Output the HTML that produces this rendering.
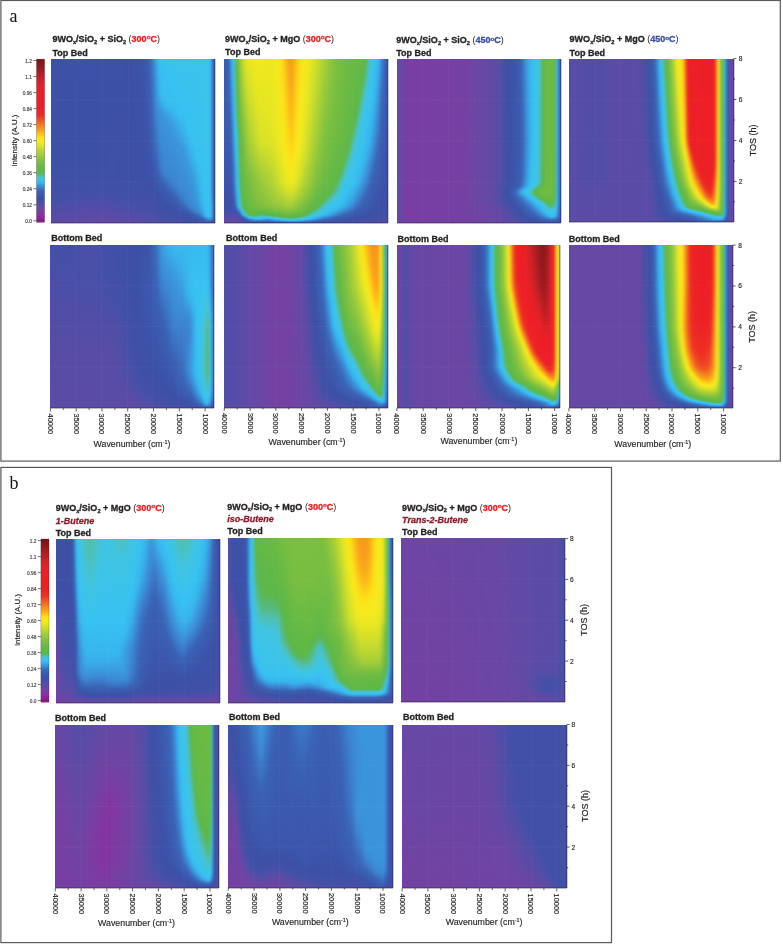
<!DOCTYPE html>
<html><head><meta charset="utf-8"><title>Figure</title>
<style>
html,body{margin:0;padding:0;background:#fff}
#p{position:relative;width:783px;height:945px;overflow:hidden;background:#fff;font-family:"Liberation Sans",sans-serif}
.hm{position:absolute;overflow:hidden}
.hm i{position:absolute;top:0;height:100%;display:block}
.w{position:absolute;left:-6px;top:0;height:100%;filter:url(#hb)}
svg{position:absolute;left:0;top:0}
</style></head><body><div id="p">
<svg width="0" height="0" style="position:absolute"><filter id="hb" x="0" y="0" width="1" height="1" color-interpolation-filters="sRGB"><feGaussianBlur stdDeviation="1.1 0"/></filter></svg>
<div class="hm" style="left:51px;top:59px;width:164px;height:164px"><div class="w" style="width:176px"><i style="left:0px;width:8px;background:linear-gradient(#3c52a7 0.3%,#3f50a7 74.1%,#4550a8 85.7%,#5f4aa5 99.7%)"></i><i style="left:8px;width:2px;background:linear-gradient(#3c52a7 0.3%,#3c50a6 55.8%,#4050a7 74.7%,#4550a8 85.7%,#5f4aa5 99.7%)"></i><i style="left:10px;width:2px;background:linear-gradient(#3c52a7 0.3%,#3c50a6 55.8%,#4050a7 74.7%,#4550a8 85.7%,#5f4aa5 99.7%)"></i><i style="left:12px;width:2px;background:linear-gradient(#3c52a7 0.3%,#3c50a6 55.8%,#4050a7 74.7%,#4550a8 85.7%,#604aa5 99.7%)"></i><i style="left:14px;width:2px;background:linear-gradient(#3c52a7 0.3%,#3c50a6 55.8%,#4050a7 74.7%,#4550a8 85.7%,#604aa5 99.7%)"></i><i style="left:16px;width:2px;background:linear-gradient(#3c52a7 0.3%,#3c50a6 55.8%,#4050a7 74.7%,#4550a8 85.7%,#604aa5 99.7%)"></i><i style="left:18px;width:2px;background:linear-gradient(#3c52a7 0.3%,#3c50a6 55.8%,#4050a7 74.7%,#4550a8 85.1%,#604aa5 99.7%)"></i><i style="left:20px;width:2px;background:linear-gradient(#3c51a7 0.3%,#3c50a6 55.8%,#4050a7 74.7%,#4550a8 85.1%,#604aa5 99.7%)"></i><i style="left:22px;width:2px;background:linear-gradient(#3c51a7 0.3%,#3c50a6 55.8%,#4050a7 74.7%,#4550a8 85.1%,#614aa5 99.7%)"></i><i style="left:24px;width:2px;background:linear-gradient(#3c51a7 0.3%,#3c50a6 55.8%,#4050a7 74.7%,#4550a8 85.1%,#614aa5 99.7%)"></i><i style="left:26px;width:2px;background:linear-gradient(#3c51a7 0.3%,#3c50a6 55.8%,#4050a7 74.7%,#4550a8 85.1%,#614aa5 99.7%)"></i><i style="left:28px;width:2px;background:linear-gradient(#3c51a7 0.3%,#3c50a6 55.8%,#4050a7 74.7%,#4550a8 85.1%,#614aa5 99.7%)"></i><i style="left:30px;width:2px;background:linear-gradient(#3c51a7 0.3%,#3c50a6 55.8%,#4050a7 74.7%,#4650a8 85.1%,#6249a5 99.7%)"></i><i style="left:32px;width:2px;background:linear-gradient(#3c51a7 0.3%,#3c50a6 55.2%,#4050a7 74.7%,#4550a8 84.5%,#6249a5 99.7%)"></i><i style="left:34px;width:2px;background:linear-gradient(#3c51a7 0.3%,#3c50a6 55.2%,#4050a7 74.7%,#4550a8 84.5%,#6249a5 99.7%)"></i><i style="left:36px;width:2px;background:linear-gradient(#3c51a7 0.3%,#3c50a6 55.2%,#4050a7 74.7%,#4550a8 84.5%,#6249a5 99.7%)"></i><i style="left:38px;width:2px;background:linear-gradient(#3c51a7 0.3%,#3c50a6 55.2%,#4050a7 74.7%,#4550a8 84.5%,#6349a5 99.7%)"></i><i style="left:40px;width:2px;background:linear-gradient(#3c51a7 0.3%,#3c50a6 55.2%,#4050a7 74.7%,#4550a8 84.5%,#6349a5 99.7%)"></i><i style="left:42px;width:2px;background:linear-gradient(#3c51a7 0.3%,#3c50a6 55.2%,#4050a7 74.7%,#4650a8 84.5%,#6349a5 99.7%)"></i><i style="left:44px;width:2px;background:linear-gradient(#3c51a7 0.3%,#3c50a6 55.2%,#4050a7 74.7%,#4650a8 84.5%,#6349a5 99.7%)"></i><i style="left:46px;width:2px;background:linear-gradient(#3c51a7 0.3%,#3c50a6 55.2%,#4150a7 74.7%,#4550a8 83.8%,#6449a5 99.7%)"></i><i style="left:48px;width:2px;background:linear-gradient(#3c51a7 0.3%,#3c50a6 55.2%,#4150a7 74.7%,#4550a8 83.8%,#6449a5 99.7%)"></i><i style="left:50px;width:2px;background:linear-gradient(#3c51a7 0.3%,#3c50a6 55.2%,#4150a7 74.7%,#4550a8 83.8%,#6449a5 99.7%)"></i><i style="left:52px;width:2px;background:linear-gradient(#3c51a7 0.3%,#3c50a6 55.2%,#4150a7 74.7%,#4550a8 83.8%,#6449a5 99.7%)"></i><i style="left:54px;width:2px;background:linear-gradient(#3c51a7 0.3%,#3c50a6 55.2%,#4150a7 74.7%,#4550a8 83.8%,#6449a5 99.7%)"></i><i style="left:56px;width:2px;background:linear-gradient(#3c51a7 0.3%,#3c50a6 55.2%,#4150a7 74.7%,#4550a8 83.8%,#6449a5 99.7%)"></i><i style="left:58px;width:2px;background:linear-gradient(#3c51a7 0.3%,#3c50a6 55.2%,#4050a7 74.1%,#4650a8 84.5%,#6449a5 99.7%)"></i><i style="left:60px;width:2px;background:linear-gradient(#3c51a7 0.3%,#3c50a6 55.2%,#4050a7 73.5%,#4550a8 84.5%,#6349a5 99.7%)"></i><i style="left:62px;width:2px;background:linear-gradient(#3c51a7 0.3%,#3c50a6 55.2%,#4050a7 73.5%,#4650a8 85.1%,#6349a5 99.7%)"></i><i style="left:64px;width:2px;background:linear-gradient(#3c51a7 0.3%,#3f50a7 72.9%,#4550a8 85.1%,#6249a5 99.7%)"></i><i style="left:66px;width:2px;background:linear-gradient(#3c51a7 0.3%,#3f50a7 72.9%,#4550a8 85.7%,#6249a5 99.7%)"></i><i style="left:68px;width:2px;background:linear-gradient(#3c51a7 0.3%,#3f50a7 72.9%,#4550a8 85.7%,#614aa5 99.7%)"></i><i style="left:70px;width:2px;background:linear-gradient(#3c51a7 0.3%,#3f50a7 72.9%,#4550a8 86.3%,#614aa5 99.7%)"></i><i style="left:72px;width:2px;background:linear-gradient(#3c51a7 0.3%,#3e50a6 72.3%,#4550a8 86.3%,#604aa5 99.7%)"></i><i style="left:74px;width:2px;background:linear-gradient(#3c51a7 0.3%,#3e50a6 72.3%,#4550a8 86.9%,#604aa5 99.7%)"></i><i style="left:76px;width:2px;background:linear-gradient(#3c51a7 0.3%,#3e50a6 72.3%,#4550a8 86.9%,#5f4aa5 99.7%)"></i><i style="left:78px;width:2px;background:linear-gradient(#3c51a6 0.3%,#3d50a6 71.6%,#4550a8 87.5%,#5f4aa5 99.7%)"></i><i style="left:80px;width:2px;background:linear-gradient(#3c51a6 0.3%,#3d50a6 71.6%,#4650a8 88.1%,#5e4ba6 99.7%)"></i><i style="left:82px;width:2px;background:linear-gradient(#3c51a6 0.3%,#3d50a6 71.6%,#4550a8 88.1%,#5e4ba6 99.7%)"></i><i style="left:84px;width:2px;background:linear-gradient(#3c50a6 0.3%,#3d50a6 71.6%,#4550a8 88.7%,#5d4ba6 99.7%)"></i><i style="left:86px;width:2px;background:linear-gradient(#3c51a6 0.3%,#3d50a6 71.6%,#4550a8 88.7%,#5d4ba6 99.7%)"></i><i style="left:88px;width:2px;background:linear-gradient(#3c51a7 0.3%,#3c50a6 71.6%,#4550a8 89.3%,#5c4ba6 99.7%)"></i><i style="left:90px;width:2px;background:linear-gradient(#3c52a7 0.3%,#3c50a6 71%,#4550a8 89.9%,#5c4ba6 99.7%)"></i><i style="left:92px;width:2px;background:linear-gradient(#3c52a8 0.3%,#3c50a6 71.6%,#4550a8 89.9%,#5b4ca6 99.7%)"></i><i style="left:94px;width:2px;background:linear-gradient(#3c53a9 0.3%,#3c50a6 72.3%,#4550a8 90.5%,#5a4ca6 99.7%)"></i><i style="left:96px;width:2px;background:linear-gradient(#3c54a9 0.3%,#3c50a6 72.9%,#4550a8 90.5%,#5a4ca6 99.7%)"></i><i style="left:98px;width:2px;background:linear-gradient(#3c55aa 0.3%,#3c50a6 72.9%,#4550a8 91.2%,#584ca6 99.7%)"></i><i style="left:100px;width:2px;background:linear-gradient(#3b59ae 0.3%,#3c50a6 73.5%,#4550a8 91.8%,#574ca6 99.7%)"></i><i style="left:102px;width:2px;background:linear-gradient(#3b5eb2 0.3%,#3c50a6 74.1%,#4550a8 91.8%,#564da6 99.7%)"></i><i style="left:104px;width:2px;background:linear-gradient(#3a65b7 0.3%,#3b5db1 38.1%,#3c50a6 74.7%,#4550a8 92.4%,#554da6 99.7%)"></i><i style="left:106px;width:2px;background:linear-gradient(#3b75c5 0.3%,#3c50a6 75.9%,#4550a8 93%,#544da7 99.7%)"></i><i style="left:108px;width:2px;background:linear-gradient(#3c8ad5 0.3%,#3c51a6 77.7%,#4550a8 93.6%,#534da7 99.7%)"></i><i style="left:110px;width:2px;background:linear-gradient(#3aa1e3 0.3%,#3c82cf 36.3%,#3a65b7 58.2%,#3c51a7 80.8%,#4550a8 94.2%,#524da7 99.7%)"></i><i style="left:112px;width:2px;background:linear-gradient(#38b8ee 0.3%,#39a6e5 19.8%,#3b90d9 30.8%,#3c82cf 47.9%,#3b59ad 75.9%,#3c50a6 83.8%,#4450a8 94.8%,#514ea7 99.7%)"></i><i style="left:114px;width:2px;background:linear-gradient(#38c0f1 0.3%,#38b6ed 21.6%,#38afe9 24.7%,#3a9de1 28.4%,#3b95dc 31.4%,#3c81ce 58.2%,#3b71c1 68%,#3a61b3 72.9%,#3c50a6 85.7%,#4550a8 95.4%,#504ea7 99.7%)"></i><i style="left:116px;width:2px;background:linear-gradient(#38c2f1 0.3%,#38bbef 22.9%,#38b5ed 25.9%,#3a9fe1 30.2%,#3b96dc 33.8%,#3c80cd 66.2%,#3b7ac8 69.2%,#3a62b4 74.1%,#3c50a6 86.9%,#4550a8 96%,#4f4ea7 99.7%)"></i><i style="left:118px;width:2px;background:linear-gradient(#39c2f0 0.3%,#38bcf0 24.1%,#38b4ec 27.7%,#3a9fe1 32%,#3a98de 35.1%,#3b8fd8 44.2%,#3c83d0 68%,#3b7dcc 70.4%,#3a64b5 75.3%,#3a60b3 76.5%,#3c50a6 88.7%,#4550a8 96.6%,#4d4ea7 99.7%)"></i><i style="left:120px;width:2px;background:linear-gradient(#3ac2ef 0.3%,#38c2f2 8.2%,#38bdf0 25.3%,#38b5ec 29%,#3aa1e2 33.2%,#3a99de 36.3%,#3b90d9 45.4%,#3c84d1 69.2%,#3b7dcb 72.3%,#3a61b3 77.7%,#3c50a6 89.3%,#4550a8 97.3%,#4c4fa7 99.7%)"></i><i style="left:122px;width:2px;background:linear-gradient(#3ac3ed 0.3%,#38c2f2 10.7%,#38bdf0 26.5%,#38b5ed 30.2%,#39a2e3 34.5%,#3a9adf 38.1%,#3b91d9 46.6%,#3c84d1 70.4%,#3b7dcc 73.5%,#3a62b4 79%,#3c50a6 89.9%,#4450a8 97.3%,#4b4fa7 99.7%)"></i><i style="left:124px;width:2px;background:linear-gradient(#3ac3ed 0.3%,#38c2f2 11.9%,#38bef0 27.1%,#38b6ed 31.4%,#39a4e4 35.7%,#3a9bdf 39.3%,#3b91da 47.9%,#3c84d1 71.6%,#3b7cca 75.3%,#3a61b3 80.8%,#3c50a6 90.5%,#494fa8 99.7%)"></i><i style="left:126px;width:2px;background:linear-gradient(#3bc3ec 0.3%,#38c2f2 14.3%,#38bef0 28.4%,#38b6ed 32.6%,#39a5e5 36.9%,#3a9bdf 41.2%,#3b92da 49.1%,#3c85d1 72.9%,#3b7dcb 76.5%,#3a61b3 82%,#3c50a6 91.8%,#4850a8 99.7%)"></i><i style="left:128px;width:2px;background:linear-gradient(#3bc3ec 0.3%,#38c2f2 16.8%,#38bef0 29.6%,#38b4ec 34.5%,#39a2e3 39.9%,#3b96dd 46.6%,#3c85d2 74.1%,#3b7dcb 77.7%,#3a62b4 83.2%,#3c50a6 92.4%,#4650a8 99.7%)"></i><i style="left:130px;width:2px;background:linear-gradient(#3bc3ec 0.3%,#38c2f2 18.6%,#38bef0 30.8%,#38b5ec 35.7%,#3a9ee1 44.2%,#3b96dc 49.1%,#3c86d2 75.3%,#3c7ecc 79%,#3a61b4 85.1%,#3c51a7 92.4%,#4550a8 99.7%)"></i><i style="left:132px;width:2px;background:linear-gradient(#3bc3ec 0.3%,#38c2f2 21%,#38bef0 32%,#3b96dc 50.9%,#3c86d2 77.1%,#3b7dcb 80.8%,#3a62b4 86.3%,#3c51a7 93%,#4450a8 99.7%)"></i><i style="left:134px;width:2px;background:linear-gradient(#3bc3ec 0.3%,#38c2f2 22.9%,#38bff1 32.6%,#38b3eb 39.9%,#3b96dc 52.7%,#3c86d2 79%,#3b7dcb 82.6%,#3a64b5 87.5%,#3c51a7 93.6%,#4350a8 99.7%)"></i><i style="left:136px;width:2px;background:linear-gradient(#3bc3ec 0.3%,#38c2f2 25.3%,#38bef0 34.5%,#38b2eb 43%,#3a98dd 54%,#3b8ed8 71.6%,#3c85d1 81.4%,#3b7dcb 84.5%,#3a62b4 89.3%,#3c51a7 94.2%,#4250a7 99.7%)"></i><i style="left:138px;width:2px;background:linear-gradient(#3bc3ec 0.3%,#38c2f2 30.8%,#38bef0 36.9%,#38b2eb 46%,#3a99de 55.8%,#3c85d1 83.2%,#3b7ccb 86.3%,#3a62b4 90.5%,#3c51a7 94.8%,#4150a7 99.7%)"></i><i style="left:140px;width:2px;background:linear-gradient(#3bc3eb 0.3%,#38c2f2 33.8%,#38bdf0 41.2%,#38b4ec 47.9%,#3a9bdf 58.8%,#3c85d1 85.1%,#3b7cca 88.1%,#3a61b3 91.8%,#3c53a8 94.8%,#3f50a7 99.7%)"></i><i style="left:142px;width:2px;background:linear-gradient(#3bc3eb 0.3%,#38c2f2 38.1%,#38bef0 44.2%,#38b4ec 50.9%,#3a9adf 63.1%,#3c8cd7 81.4%,#3c84d1 87.5%,#3b7bc9 89.9%,#3a62b4 92.4%,#3c52a8 95.4%,#4050a7 98.5%,#3e50a6 99.7%)"></i><i style="left:144px;width:2px;background:linear-gradient(#3bc3eb 0.3%,#38c2f2 41.8%,#38bff1 47.3%,#38b5ec 54%,#3a9adf 67.4%,#3c86d3 88.7%,#3c7fcd 90.5%,#3a63b5 93%,#3c55aa 95.4%,#3c51a7 96.6%,#3f50a7 98.5%,#3d50a6 99.7%)"></i><i style="left:146px;width:2px;background:linear-gradient(#3bc3eb 0.3%,#38c2f1 45.4%,#38bff1 50.3%,#38b2eb 60.1%,#3a9bdf 70.4%,#3c88d4 89.9%,#3b7dcb 91.8%,#3a60b3 94.2%,#3c51a7 97.3%,#3e50a7 98.5%,#3c51a7 99.7%)"></i><i style="left:148px;width:2px;background:linear-gradient(#3bc3eb 0.3%,#38c2f1 49.1%,#38bdf0 55.8%,#38b5ec 62.5%,#3a9ee1 73.5%,#3c8cd6 89.9%,#3c7fcd 92.4%,#3a60b3 94.8%,#3c50a6 97.9%,#3c53a8 99.7%)"></i><i style="left:150px;width:2px;background:linear-gradient(#3bc3eb 0.3%,#38c2f1 53.4%,#38bef0 59.5%,#3a9bdf 80.8%,#3b8fd8 90.5%,#3c82cf 93%,#3a61b3 95.4%,#3c52a7 97.9%,#3c50a6 98.5%,#3c55aa 99.7%)"></i><i style="left:152px;width:2px;background:linear-gradient(#3bc3eb 0.3%,#38c2f1 57.6%,#38bff1 63.1%,#39aee9 75.9%,#3b94db 90.5%,#3c84d1 93.6%,#3a61b3 96%,#3c54aa 97.9%,#3c52a8 98.5%,#3b56ab 99.7%)"></i><i style="left:154px;width:2px;background:linear-gradient(#3bc3eb 0.3%,#38c2f1 62.5%,#38b6ed 77.7%,#39aae7 85.7%,#3a9ee1 90.5%,#3c88d4 94.2%,#3a62b4 96.6%,#3b56ab 98.5%,#3b58ad 99.7%)"></i><i style="left:156px;width:2px;background:linear-gradient(#3bc3eb 0.3%,#38c2f1 67.4%,#38b6ed 86.9%,#38b1eb 89.9%,#39a9e6 91.8%,#3b95dc 94.2%,#3c87d3 95.4%,#3a63b5 97.3%,#3b5baf 98.5%,#3b5aae 99.7%)"></i><i style="left:158px;width:2px;background:linear-gradient(#3bc3eb 0.3%,#3bc3ec 47.3%,#38c2f1 74.1%,#38bbef 89.9%,#38b6ed 92.4%,#39abe8 94.2%,#3a9de0 95.4%,#3b91da 96%,#3a63b5 97.9%,#3b5baf 99.7%)"></i><i style="left:160px;width:2px;background:linear-gradient(#3bc3ea 0.3%,#3bc3eb 50.3%,#38c0f1 91.2%,#38b6ed 95.4%,#39ade9 96%,#3c86d2 97.3%,#3b71c1 97.9%,#3a65b7 98.5%,#3a62b4 99.1%,#3b59ae 99.7%)"></i><i style="left:162px;width:2px;background:linear-gradient(#3bc3ea 0.3%,#3bc3eb 62.5%,#38c1f1 94.2%,#38bbef 96%,#38b2eb 96.6%,#3b73c3 98.5%,#3b56ab 99.7%)"></i><i style="left:164px;width:2px;background:linear-gradient(#39c1ef 0.3%,#38c1f1 94.8%,#38bdf0 96%,#38b7ed 96.6%,#3b90d9 97.9%,#3a60b3 99.1%,#3c53a8 99.7%)"></i><i style="left:166px;width:2px;background:linear-gradient(#3a8ad3 0.3%,#3a8ad3 80.2%,#3a8fd6 83.8%,#3aa0e1 89.9%,#3aa1e2 93%,#3a9ee0 95.4%,#3a99dd 96%,#3b81ce 97.3%,#3a66b8 98.5%,#3d50a6 99.7%)"></i><i style="left:168px;width:8px;background:linear-gradient(#3b59ae 0.3%,#3b59ae 79.6%,#3b5db0 94.8%,#3b59ad 97.9%,#3f50a7 99.7%)"></i></div></div>
<div class="hm" style="left:224px;top:59px;width:164px;height:164px"><div class="w" style="width:176px"><i style="left:0px;width:8px;background:linear-gradient(#3b5baf 0.3%,#3b5baf 49.7%,#3d50a6 88.7%,#4450a8 93%,#5f4aa5 98.5%,#6947a4 99.7%)"></i><i style="left:8px;width:2px;background:linear-gradient(#3b5cb0 0.3%,#3b5baf 49.7%,#3d50a6 88.7%,#4450a8 93%,#5f4aa5 98.5%,#6947a4 99.7%)"></i><i style="left:10px;width:2px;background:linear-gradient(#3b68ba 0.3%,#3d50a6 88.7%,#4450a8 93%,#5f4aa5 98.5%,#6847a4 99.7%)"></i><i style="left:12px;width:2px;background:linear-gradient(#3a9fe1 0.3%,#3a69ba 38.7%,#3a60b3 48.5%,#3d50a6 88.7%,#4450a8 93%,#534da7 95.4%,#5f4aa5 98.5%,#6748a5 99.7%)"></i><i style="left:14px;width:2px;background:linear-gradient(#3ac1ec 0.3%,#38bbef 13.7%,#39a4e4 30.8%,#3b6cbd 63.1%,#3c52a8 89.3%,#4550a8 93.6%,#524da7 95.4%,#5e4ba6 98.5%,#6748a5 99.7%)"></i><i style="left:16px;width:2px;background:linear-gradient(#54bc85 0.3%,#52bd91 5.2%,#46c1cb 22.9%,#3cc3e9 33.2%,#38bcef 46.6%,#3b8dd6 74.7%,#3b64b6 88.7%,#3b56ab 91.8%,#4150a7 93.6%,#514ea7 95.4%,#6648a5 99.7%)"></i><i style="left:18px;width:2px;background:linear-gradient(#67ba44 0.3%,#5eb848 21%,#5ab85f 30.2%,#58ba6e 33.8%,#50bda2 41.2%,#4ac0bc 44.2%,#47c2cb 46.6%,#41c3dd 50.9%,#3dc3e8 57.6%,#38bbef 78.4%,#39a3e3 86.9%,#3b95db 89.3%,#3b82ce 90.5%,#3b69ba 91.8%,#3c54aa 93.6%,#4250a7 94.8%,#584ca6 97.3%,#6648a5 99.7%)"></i><i style="left:20px;width:2px;background:linear-gradient(#86c23f 0.3%,#66b945 30.2%,#5eb848 43.6%,#5bb85c 49.7%,#58ba70 60.1%,#57bb79 62.5%,#50bd9f 71.6%,#4ac0bc 76.5%,#3dc3e5 85.1%,#3bc2ec 88.1%,#39bdee 89.9%,#38b6ed 90.5%,#3b97dc 91.8%,#3b74c3 93%,#3b5eb1 94.2%,#4150a7 96%,#594ca6 97.9%,#6449a5 99.7%)"></i><i style="left:22px;width:2px;background:linear-gradient(#a6ce38 0.3%,#67ba44 48.5%,#5db848 75.3%,#5ab860 82%,#59b968 83.2%,#51bd9c 88.1%,#4cbfb3 89.3%,#3dc3e6 91.2%,#39bbee 92.4%,#3aa0e1 93.6%,#3b68b9 95.4%,#3b5baf 96%,#3d52a8 96.6%,#604aa5 99.7%)"></i><i style="left:24px;width:2px;background:linear-gradient(#c2d930 0.3%,#76bd42 49.7%,#5db848 88.1%,#5cb850 89.3%,#5ab860 90.5%,#52bc98 91.8%,#4ac0bb 92.4%,#3cc3e8 93.6%,#3abfed 94.2%,#38b4eb 94.8%,#3a98dd 95.4%,#3b77c6 96%,#3b5fb2 96.6%,#3c54a9 97.3%,#4350a8 98.5%,#494fa8 99.1%,#584ca6 99.7%)"></i><i style="left:26px;width:2px;background:linear-gradient(#d7e128 0.3%,#86c23f 49.7%,#5db847 91.2%,#5db849 91.8%,#5bb856 92.4%,#58b970 93%,#54bc95 93.6%,#4ac1c1 94.2%,#3fc3e3 94.8%,#39beef 95.4%,#3aa2e3 96%,#3b7bc9 96.6%,#3a61b4 97.3%,#3c52a8 98.5%,#4050a7 99.1%,#4d4ea7 99.7%)"></i><i style="left:28px;width:2px;background:linear-gradient(#e4e523 0.3%,#d1df2b 14.3%,#b0d335 33.2%,#72bc43 74.1%,#67ba44 88.7%,#5eb847 92.4%,#5db848 93%,#5cb851 93.6%,#5ab866 94.2%,#54bc94 94.8%,#44c3d3 95.4%,#39c0ee 96%,#39a4e4 96.6%,#3b7ecc 97.3%,#3a66b8 97.9%,#3c54a9 99.1%,#4450a8 99.7%)"></i><i style="left:30px;width:2px;background:linear-gradient(#eae721 0.3%,#ccdd2c 24.1%,#9dcb3a 54.6%,#78be41 74.1%,#6bba44 88.7%,#5eb847 93.6%,#5db848 94.2%,#5cb851 94.8%,#57ba80 95.4%,#44c3d5 96%,#38bff0 96.6%,#3a9fe1 97.3%,#3b7dcb 97.9%,#3a65b6 98.5%,#3b5aae 99.1%,#4150a7 99.7%)"></i><i style="left:32px;width:2px;background:linear-gradient(#ece721 0.3%,#d3e02a 24.7%,#aed236 49.7%,#7ebf40 74.1%,#6ebb43 89.3%,#5fb846 94.2%,#5db848 94.8%,#5bb855 95.4%,#52bea3 96%,#3dc3e8 96.6%,#38b5ed 97.3%,#3b8fd8 97.9%,#3b6fc0 98.5%,#3f50a7 99.7%)"></i><i style="left:34px;width:2px;background:linear-gradient(#eee820 0.3%,#dee325 19.2%,#bbd732 47.3%,#82c140 75.3%,#72bc43 89.3%,#5fb846 94.2%,#5db848 94.8%,#5bb851 95.4%,#55bb8f 96%,#3fc4e1 96.6%,#38bdf0 97.3%,#3a9be0 97.9%,#3b79c8 98.5%,#3a5fb2 99.1%,#3e50a6 99.7%)"></i><i style="left:36px;width:2px;background:linear-gradient(#f0e820 0.3%,#e5e623 17.4%,#c3da30 48.5%,#89c33e 75.3%,#78be42 88.7%,#5eb846 94.2%,#5db848 94.8%,#5bb85a 95.4%,#54bc91 96%,#42c3da 96.6%,#38c2f1 97.3%,#39aae7 97.9%,#3c84d0 98.5%,#3a61b4 99.1%,#3c50a6 99.7%)"></i><i style="left:38px;width:2px;background:linear-gradient(#f1e91f 0.3%,#e5e622 21%,#cbdd2d 49.1%,#90c63d 74.7%,#7bbf41 88.7%,#74bd42 90.5%,#60b846 93.6%,#5cb849 94.8%,#59b868 95.4%,#52be9f 96%,#41c4dc 96.6%,#39c2ef 97.3%,#38b1eb 97.9%,#3c89d4 98.5%,#3a63b5 99.1%,#3c51a7 99.7%)"></i><i style="left:40px;width:2px;background:linear-gradient(#f1e91f 0.3%,#e5e622 24.7%,#d2df2a 50.3%,#95c83c 74.7%,#7ebf40 88.7%,#76bd42 90.5%,#5fb846 93.6%,#5db848 94.2%,#5bb850 94.8%,#58b879 95.4%,#4ec0b6 96%,#3fc4e3 96.6%,#38c2f1 97.3%,#39aee9 97.9%,#3c87d3 98.5%,#3a63b5 99.1%,#3c51a7 99.7%)"></i><i style="left:42px;width:2px;background:linear-gradient(#f0e91f 0.3%,#e6e622 27.7%,#d7e128 50.3%,#9bca3b 74.1%,#81c040 88.7%,#78be42 90.5%,#5eb846 93.6%,#5db848 94.2%,#5ab85d 94.8%,#55bb8f 95.4%,#48c2c9 96%,#3dc3e8 96.6%,#38bef0 97.3%,#39a6e5 97.9%,#3c83d0 98.5%,#3a62b4 99.1%,#3c52a7 99.7%)"></i><i style="left:44px;width:2px;background:linear-gradient(#efe820 0.3%,#e6e622 29%,#d9e227 50.3%,#a0cc39 73.5%,#83c13f 88.7%,#79be41 90.5%,#5fb846 93.6%,#5db848 94.2%,#5ab85c 94.8%,#54bc94 95.4%,#44c3d4 96%,#3bc3eb 96.6%,#38baef 97.3%,#3a9ee1 97.9%,#3a61b3 99.1%,#3c52a7 99.7%)"></i><i style="left:46px;width:2px;background:linear-gradient(#eee820 0.3%,#e6e622 29%,#dae227 50.3%,#b3d434 66.8%,#88c33f 88.1%,#80c040 89.9%,#60b846 93.6%,#5db847 94.2%,#5cb84f 94.8%,#56ba87 95.4%,#45c3d2 96%,#3ac3ed 96.6%,#38b7ed 97.3%,#3b79c8 98.5%,#3a60b3 99.1%,#3c52a7 99.7%)"></i><i style="left:48px;width:2px;background:linear-gradient(#ede820 0.3%,#e6e622 29.6%,#dbe227 50.9%,#b4d434 68%,#8bc43e 88.1%,#83c13f 89.9%,#6bba44 92.4%,#5eb846 94.2%,#5cb849 94.8%,#58b874 95.4%,#48c2c8 96%,#3ac3ed 96.6%,#38b5ec 97.3%,#3b93db 97.9%,#3b76c6 98.5%,#3a60b3 99.1%,#3c52a8 99.7%)"></i><i style="left:50px;width:2px;background:linear-gradient(#ede820 0.3%,#e6e622 31.4%,#dce326 50.9%,#8ec53d 88.1%,#86c23f 89.9%,#5fb846 94.2%,#5db848 94.8%,#5ab863 95.4%,#4ec0b5 96%,#3cc3ea 96.6%,#38b6ed 97.3%,#3b94db 97.9%,#3b78c7 98.5%,#3a61b3 99.1%,#3c54a9 99.7%)"></i><i style="left:52px;width:2px;background:linear-gradient(#eee820 0.3%,#e5e622 36.3%,#dde326 51.5%,#a8cf37 78.4%,#91c63d 88.1%,#89c33e 89.9%,#61b945 94.2%,#5eb847 94.8%,#5bb850 95.4%,#53bd9b 96%,#3ec3e5 96.6%,#38bbef 97.3%,#3c7fcc 98.5%,#3a63b5 99.1%,#3c56ab 99.7%)"></i><i style="left:54px;width:2px;background:linear-gradient(#f0e820 0.3%,#e5e622 42.4%,#dee325 52.7%,#bfd831 69.8%,#96c83c 87.5%,#8cc43e 89.9%,#5eb846 94.8%,#5cb849 95.4%,#57b97f 96%,#41c4dc 96.6%,#38c0f1 97.3%,#39a5e4 97.9%,#3c86d2 98.5%,#3a69ba 99.1%,#3b58ac 99.7%)"></i><i style="left:56px;width:2px;background:linear-gradient(#f2e91f 0.3%,#e7e622 47.3%,#dfe425 55.2%,#bdd831 74.1%,#9bca3b 86.9%,#8fc53d 89.9%,#60b846 94.8%,#5db848 95.4%,#59b86b 96%,#48c2c7 96.6%,#39c2ef 97.3%,#38b0ea 97.9%,#3b8ed7 98.5%,#3b6ebe 99.1%,#3b59ae 99.7%)"></i><i style="left:58px;width:2px;background:linear-gradient(#f5ea1e 0.3%,#eae721 49.1%,#cfde2b 68.6%,#c1d930 75.9%,#98c93b 88.7%,#8cc43e 90.5%,#62b945 94.8%,#5db847 95.4%,#5bb85a 96%,#4fc0b2 96.6%,#3cc3ea 97.3%,#38b7ed 97.9%,#3b95dc 98.5%,#3b72c2 99.1%,#3b5aaf 99.7%)"></i><i style="left:60px;width:2px;background:linear-gradient(#f8e71d 0.3%,#eee820 48.5%,#e7e622 57%,#d1df2b 72.9%,#c8dc2e 76.5%,#9bca3b 88.7%,#8fc63d 90.5%,#5eb846 95.4%,#5cb84c 96%,#53bd99 96.6%,#3ec3e5 97.3%,#38bcef 97.9%,#3a9be0 98.5%,#3b76c6 99.1%,#3b5baf 99.7%)"></i><i style="left:62px;width:2px;background:linear-gradient(#fce11b 0.3%,#f3e91f 47.9%,#e4e523 64.3%,#d6e129 74.1%,#ccdd2d 77.7%,#9bca3b 89.3%,#8cc43e 91.2%,#6aba44 94.2%,#5cb849 96%,#57b980 96.6%,#41c4de 97.3%,#38c0f1 97.9%,#39a2e3 98.5%,#3b7ac9 99.1%,#3b5cb0 99.7%)"></i><i style="left:64px;width:2px;background:linear-gradient(#fdd318 0.3%,#fce11a 22.9%,#f7e91e 48.5%,#eae721 64.9%,#dfe425 73.5%,#cede2c 79%,#9ecb3a 89.3%,#5db848 96%,#59b86f 96.6%,#46c3ce 97.3%,#39c2f1 97.9%,#39a8e6 98.5%,#3b7dcb 99.1%,#3b5cb0 99.7%)"></i><i style="left:66px;width:2px;background:linear-gradient(#fdc217 0.3%,#fce11b 38.7%,#f5e91e 60.1%,#e6e622 74.1%,#d0df2b 80.2%,#a1cd39 89.3%,#92c63d 91.2%,#5db847 96%,#5ab861 96.6%,#4bc1be 97.3%,#3ac3ed 97.9%,#38aee9 98.5%,#3c81ce 99.1%,#3b5db1 99.7%)"></i><i style="left:68px;width:2px;background:linear-gradient(#fbb11a 0.3%,#fdc717 24.1%,#fce11a 50.3%,#f6e91e 64.3%,#eae721 74.1%,#e4e523 76.5%,#cfde2c 81.4%,#a4ce38 89.3%,#95c83c 91.2%,#5eb846 96%,#5bb853 96.6%,#50c0ad 97.3%,#3cc3ea 97.9%,#38b4ec 98.5%,#3c84d1 99.1%,#3b5db1 99.7%)"></i><i style="left:70px;width:2px;background:linear-gradient(#f9a31c 0.3%,#fdc117 31.4%,#fdde1a 54.6%,#f6ea1e 68%,#ede820 74.1%,#e5e622 77.1%,#d2df2a 81.4%,#a6ce38 89.3%,#97c83c 91.2%,#5fb846 96%,#5cb84a 96.6%,#53bd9a 97.3%,#3dc3e6 97.9%,#38b7ed 98.5%,#3c87d4 99.1%,#3b5eb1 99.7%)"></i><i style="left:72px;width:2px;background:linear-gradient(#f89e1d 0.3%,#f9a61c 14.3%,#fcbb18 33.2%,#fdce17 49.1%,#fde01a 58.2%,#f6ea1e 69.2%,#f0e820 73.5%,#e7e622 77.1%,#d9e227 80.2%,#a8cf37 88.7%,#9aca3b 90.5%,#6cbb44 94.8%,#5cb849 96.6%,#56ba89 97.3%,#3fc4e3 97.9%,#38b9ee 98.5%,#3c8bd6 99.1%,#3b5eb2 99.7%)"></i><i style="left:74px;width:2px;background:linear-gradient(#f9a41c 0.3%,#fcbe17 30.8%,#fdd118 47.9%,#fdde1a 55.2%,#f6e91e 68%,#eee820 74.1%,#e7e622 76.5%,#d9e227 79.6%,#a3cd38 88.7%,#90c63d 91.2%,#69ba44 94.8%,#5cb849 96.6%,#56ba87 97.3%,#3fc4e1 97.9%,#38bbef 98.5%,#3b8ed7 99.1%,#3b5fb2 99.7%)"></i><i style="left:76px;width:2px;background:linear-gradient(#fbb419 0.3%,#fdc817 25.3%,#fce11a 51.5%,#f7e91e 62.5%,#e8e622 74.1%,#d1df2b 79.6%,#9dcb3a 88.7%,#90c63d 90.5%,#5eb847 96%,#5bb851 96.6%,#53bd99 97.3%,#3ec4e4 97.9%,#38bbef 98.5%,#3b8ed8 99.1%,#3a5fb2 99.7%)"></i><i style="left:78px;width:2px;background:linear-gradient(#fdc617 0.3%,#fddd1a 32.6%,#fae51c 49.7%,#f4e91f 59.5%,#e3e523 72.3%,#d1df2b 77.7%,#97c93c 88.7%,#8bc43e 90.5%,#69ba44 94.2%,#5db848 96%,#5ab862 96.6%,#4fc0b0 97.3%,#3dc3e8 97.9%,#38b7ed 98.5%,#3c8bd6 99.1%,#3a5fb2 99.7%)"></i><i style="left:80px;width:2px;background:linear-gradient(#fdd518 0.3%,#fce11a 22.9%,#f7e91e 49.1%,#e8e721 63.1%,#d9e227 71.6%,#ccdd2d 76.5%,#94c73c 88.1%,#89c33e 89.9%,#6aba44 93.6%,#5cb849 96%,#58b873 96.6%,#49c2c5 97.3%,#3bc3ec 97.9%,#38b3eb 98.5%,#3c85d2 99.1%,#3b5eb2 99.7%)"></i><i style="left:82px;width:2px;background:linear-gradient(#fddf1a 0.3%,#f4ea1e 41.2%,#efe820 50.9%,#e3e523 60.7%,#c5db2f 75.3%,#8ac43e 88.7%,#60b846 94.8%,#5db847 95.4%,#5cb84f 96%,#55bb8b 96.6%,#42c3d9 97.3%,#38c2f1 97.9%,#39aae7 98.5%,#3c80cd 99.1%,#3b5db1 99.7%)"></i><i style="left:84px;width:2px;background:linear-gradient(#fae41c 0.3%,#f4ea1e 25.3%,#eae721 46.6%,#d8e128 60.7%,#bad632 75.3%,#89c33e 87.5%,#5eb846 94.8%,#5db849 95.4%,#5ab864 96%,#51bfa7 96.6%,#3fc4e3 97.3%,#38bff1 97.9%,#3aa1e3 98.5%,#3b7ac9 99.1%,#3b5cb0 99.7%)"></i><i style="left:86px;width:2px;background:linear-gradient(#f7e81d 0.3%,#e4e523 42.4%,#dde326 50.3%,#d1df2b 58.8%,#acd136 76.5%,#7cbf41 88.7%,#5eb846 94.2%,#5db848 94.8%,#5bb854 95.4%,#57b981 96%,#4ac2c3 96.6%,#3cc3e9 97.3%,#38baef 97.9%,#3a9adf 98.5%,#3b75c5 99.1%,#3b5baf 99.7%)"></i><i style="left:88px;width:2px;background:linear-gradient(#f2e91f 0.3%,#e4e523 30.2%,#cede2c 54%,#a5ce38 75.9%,#76bd42 88.7%,#5eb847 93.6%,#5db849 94.2%,#5bb857 94.8%,#57b97a 95.4%,#50bfad 96%,#41c4dd 96.6%,#3ac2ee 97.3%,#38b6ed 97.9%,#3b93db 98.5%,#3b70c1 99.1%,#3b5aae 99.7%)"></i><i style="left:90px;width:2px;background:linear-gradient(#ece721 0.3%,#dde326 25.9%,#c6db2e 51.5%,#9dcb3a 75.3%,#73bc42 88.1%,#5fb846 92.4%,#5cb849 93.6%,#5ab861 94.2%,#4ec0b1 95.4%,#43c3d6 96%,#3dc3e8 96.6%,#38c0f1 97.3%,#39ade9 97.9%,#3c8cd6 98.5%,#3b6cbc 99.1%,#3b58ad 99.7%)"></i><i style="left:92px;width:2px;background:linear-gradient(#e5e622 0.3%,#d0df2b 30.8%,#bbd732 50.9%,#96c83c 74.7%,#5fb846 91.8%,#5cb84e 93%,#59b86a 93.6%,#4bc1c0 94.8%,#41c3dc 95.4%,#3dc3e7 96%,#39c2f0 96.6%,#38baee 97.3%,#39a2e3 97.9%,#3c85d1 98.5%,#3a67b8 99.1%,#3b57ac 99.7%)"></i><i style="left:94px;width:2px;background:linear-gradient(#dde326 0.3%,#c9dc2e 27.7%,#a7cf37 58.2%,#8dc53e 74.7%,#5eb847 91.2%,#5db849 91.8%,#5bb852 92.4%,#59b870 93%,#4bc1c0 94.2%,#40c4df 94.8%,#39c2f0 96%,#38bdf0 96.6%,#38b3eb 97.3%,#3b7ecc 98.5%,#3a63b5 99.1%,#3c55aa 99.7%)"></i><i style="left:96px;width:2px;background:linear-gradient(#d5e029 0.3%,#c6db2e 19.8%,#a4cd38 54%,#86c23f 73.5%,#5eb847 89.9%,#5cb849 91.2%,#5bb859 91.8%,#58b873 92.4%,#4dc1b9 93.6%,#43c3d7 94.2%,#3ec3e5 94.8%,#3ac3ed 95.4%,#38bef0 96%,#38b7ed 96.6%,#39a6e5 97.3%,#3b90d9 97.9%,#3a61b3 99.1%,#3c54a9 99.7%)"></i><i style="left:98px;width:2px;background:linear-gradient(#ccdd2d 0.3%,#9ecb3a 51.5%,#7dbf40 74.1%,#69ba44 82.6%,#5cb849 89.9%,#5bb851 90.5%,#5ab864 91.2%,#58b97a 91.8%,#4ec0b5 93%,#46c3cf 93.6%,#3fc4e2 94.2%,#3cc3ea 94.8%,#38c2f1 95.4%,#38aee9 96.6%,#3c87d3 97.9%,#3b70c0 98.5%,#3c52a8 99.7%)"></i><i style="left:100px;width:2px;background:linear-gradient(#c3da2f 0.3%,#95c83c 50.9%,#78be41 74.1%,#5db849 88.1%,#5cb84a 88.7%,#5bb853 89.3%,#58b873 90.5%,#4dc1b8 92.4%,#40c4e0 93.6%,#3ac2ee 94.8%,#38bef0 95.4%,#38b6ed 96%,#3b91d9 97.3%,#3a69ba 98.5%,#3c50a6 99.7%)"></i><i style="left:102px;width:2px;background:linear-gradient(#b9d632 0.3%,#9fcc3a 32.6%,#78be42 71%,#5db849 86.9%,#5cb84b 87.5%,#5bb855 88.1%,#58b976 89.3%,#4fc0b2 91.2%,#40c4e0 93%,#3bc3eb 94.2%,#38c2f1 94.8%,#38afea 96%,#3c88d3 97.3%,#3a63b5 98.5%,#3d50a6 99.7%)"></i><i style="left:104px;width:2px;background:linear-gradient(#b0d235 0.3%,#73bc42 71.6%,#5db849 85.7%,#5cb84b 86.3%,#5bb855 86.9%,#58b977 88.1%,#51bfa7 89.3%,#4cc1bb 89.9%,#44c3d5 91.2%,#3fc4e3 92.4%,#39c2f0 94.2%,#38b7ed 95.4%,#3b92da 96.6%,#3b6cbd 97.9%,#3a60b3 98.5%,#3e50a6 99.7%)"></i><i style="left:106px;width:2px;background:linear-gradient(#a7cf37 0.3%,#7fc040 48.5%,#6fbb43 71.6%,#5db849 84.5%,#5cb84c 85.1%,#5bb856 85.7%,#5ab865 86.3%,#58b977 86.9%,#4cc1bc 88.7%,#42c4db 89.9%,#3fc4e2 90.5%,#39c2f1 93.6%,#38baef 94.8%,#38b1eb 95.4%,#3c89d5 96.6%,#3a66b7 97.9%,#3f50a7 99.7%)"></i><i style="left:108px;width:2px;background:linear-gradient(#9ecb3a 0.3%,#69ba44 74.1%,#5db849 83.2%,#5cb84d 83.8%,#59b867 85.1%,#58b979 85.7%,#4dc1b8 87.5%,#43c3d6 88.7%,#40c4e1 89.3%,#39c2f1 92.4%,#38b5ed 94.8%,#3b93db 96%,#3b6ebf 97.3%,#3a61b4 97.9%,#3f50a7 99.7%)"></i><i style="left:110px;width:2px;background:linear-gradient(#95c83c 0.3%,#67ba44 73.5%,#5cb849 82%,#5cb850 82.6%,#5ab85c 83.2%,#57b97b 84.5%,#4ec0b4 86.3%,#41c4dc 88.1%,#3fc4e2 88.7%,#38c2f1 91.8%,#38b5ec 94.2%,#39ace8 94.8%,#3c8bd6 96%,#3a68b9 97.3%,#3c55aa 99.1%,#4050a7 99.7%)"></i><i style="left:112px;width:2px;background:linear-gradient(#8ec53e 0.3%,#73bd42 50.3%,#65b945 73.5%,#5db849 80.2%,#5bb854 81.4%,#59b86f 82.6%,#4fc0b1 85.1%,#44c3d5 86.9%,#40c4df 87.5%,#39c2ef 90.5%,#38c2f1 91.2%,#38b4ec 93.6%,#39ace8 94.2%,#3b93db 95.4%,#3a63b5 97.3%,#3c54a9 99.1%,#4050a7 99.7%)"></i><i style="left:114px;width:2px;background:linear-gradient(#88c33f 0.3%,#72bc43 49.1%,#63b945 72.9%,#5db849 78.4%,#5cb84a 79%,#5ab85c 80.2%,#58b876 81.4%,#4fc0b1 83.8%,#41c4dc 86.3%,#39c2ef 89.9%,#38c2f1 90.5%,#38b4ec 93%,#39a2e3 94.2%,#3c8bd6 95.4%,#3a6abb 96.6%,#3a60b3 97.3%,#3c53a8 99.1%,#4150a7 99.7%)"></i><i style="left:116px;width:2px;background:linear-gradient(#83c13f 0.3%,#70bc43 47.9%,#5db849 76.5%,#5cb84b 77.1%,#5bb85b 78.4%,#58b872 79.6%,#4ec0b4 82.6%,#41c4dc 85.1%,#3fc4e1 85.7%,#39c2f0 89.3%,#38c1f2 89.9%,#38b4ec 92.4%,#3b90d9 94.8%,#3c82cf 95.4%,#3a64b5 96.6%,#3c51a7 99.1%,#4250a7 99.7%)"></i><i style="left:118px;width:2px;background:linear-gradient(#7ec040 0.3%,#6ebb43 47.3%,#5db849 74.1%,#5bb856 75.9%,#58b976 77.7%,#4fc0b3 80.8%,#43c3d7 83.2%,#3fc4e2 84.5%,#39c2f1 88.7%,#38b4ec 91.8%,#3c86d3 94.8%,#3a60b3 96.6%,#3c50a6 99.1%,#4250a7 99.7%)"></i><i style="left:120px;width:2px;background:linear-gradient(#7abe41 0.3%,#6cbb44 46.6%,#5db849 71%,#5bb855 72.9%,#59b867 74.1%,#4ec0b2 78.4%,#42c3d9 81.4%,#3fc4e2 82.6%,#39c2f1 87.5%,#38b4ec 91.2%,#3c88d4 94.2%,#3a64b5 96%,#3d50a6 99.1%,#4350a7 99.7%)"></i><i style="left:122px;width:2px;background:linear-gradient(#76bd42 0.3%,#69ba44 50.3%,#5cb849 68%,#5bb857 69.8%,#59b86a 71%,#4ec0b1 74.7%,#4ac1c2 75.9%,#44c3d5 77.7%,#3fc4e3 80.2%,#38c2f1 86.3%,#38b4ec 90.5%,#3c88d4 93.6%,#3a60b3 96%,#3c51a7 98.5%,#4350a8 99.7%)"></i><i style="left:124px;width:2px;background:linear-gradient(#73bd42 0.3%,#67ba44 49.7%,#5db849 64.3%,#5ab85d 66.8%,#58b870 68%,#4ec0b4 71.6%,#46c2ce 73.5%,#42c3da 74.7%,#3fc4e2 75.9%,#38c2f1 83.8%,#38b9ee 88.1%,#38b2eb 89.9%,#3c89d4 93%,#3a62b4 95.4%,#3c50a6 98.5%,#4450a8 99.7%)"></i><i style="left:126px;width:2px;background:linear-gradient(#71bc43 0.3%,#66b945 48.5%,#5db849 60.7%,#5ab85e 63.1%,#4dc0b6 68.6%,#43c3d8 71.6%,#3fc4e2 73.5%,#38c1f1 82%,#38b2eb 88.7%,#39a8e6 89.9%,#3c89d4 92.4%,#3a65b6 94.8%,#3d50a6 98.5%,#4450a8 99.7%)"></i><i style="left:128px;width:2px;background:linear-gradient(#6fbb43 0.3%,#64b945 46%,#5db849 56.4%,#5bb859 58.8%,#4fc0b2 64.9%,#42c4db 69.2%,#3fc4e2 71%,#38c2f1 79.6%,#38b4ec 86.3%,#39ace8 88.1%,#39a4e4 89.3%,#3b91d9 91.2%,#3b6ebf 93.6%,#3a61b3 94.8%,#3d50a6 98.5%,#4550a8 99.7%)"></i><i style="left:130px;width:2px;background:linear-gradient(#6dbb43 0.3%,#64b945 37.5%,#5db849 52.1%,#5bb858 54.6%,#4fc0b0 61.3%,#42c3da 66.2%,#3fc4e2 68%,#39c2f1 77.1%,#38b0ea 85.7%,#3a9fe1 88.7%,#3b90d9 90.5%,#3a62b4 94.2%,#3c51a7 97.9%,#4650a8 99.7%)"></i><i style="left:132px;width:2px;background:linear-gradient(#6cba44 0.3%,#5db849 47.3%,#5ab85c 50.3%,#50bfad 57%,#4bc1be 58.8%,#42c3d9 62.5%,#3fc4e2 64.9%,#38c2f1 75.3%,#38b0ea 83.8%,#3b8ed8 89.9%,#3a62b4 93.6%,#3c50a6 97.9%,#4750a8 99.7%)"></i><i style="left:134px;width:2px;background:linear-gradient(#6aba44 0.3%,#5db849 41.8%,#5bb858 44.8%,#4ec0b3 52.7%,#43c3d7 57.6%,#3fc4e2 60.7%,#39c2f1 72.3%,#38bcf0 77.1%,#38b1ea 82%,#3c89d5 89.3%,#3a62b4 93%,#3d50a6 97.9%,#4250a7 99.1%,#484fa8 99.7%)"></i><i style="left:136px;width:2px;background:linear-gradient(#69ba44 0.3%,#5fb846 29.6%,#5cb84a 36.9%,#5ab85d 39.9%,#4dc1b9 47.9%,#43c3d6 51.5%,#3fc4e2 55.2%,#39c2f1 68.6%,#38bdf0 74.7%,#38b2eb 79.6%,#3c86d2 88.1%,#3a62b4 92.4%,#3c51a7 97.3%,#4250a7 99.1%,#494fa8 99.7%)"></i><i style="left:138px;width:2px;background:linear-gradient(#68ba44 0.3%,#5db849 30.8%,#5bb858 33.8%,#59b86a 35.7%,#4fc0b1 41.8%,#45c3d0 45.4%,#3fc4e2 49.1%,#3ec3e5 52.1%,#38c1f2 66.8%,#38b5ec 76.5%,#3c88d4 85.7%,#3a61b4 91.8%,#3c50a6 97.3%,#4350a8 99.1%,#4a4fa8 99.7%)"></i><i style="left:140px;width:2px;background:linear-gradient(#67b945 0.3%,#5db849 24.7%,#5ab85d 28.4%,#4ec0b1 36.3%,#46c2ce 39.9%,#42c3d9 41.8%,#3fc4e2 44.2%,#3dc3e6 48.5%,#38c1f1 61.9%,#38b5ec 73.5%,#39ade8 75.9%,#3c89d5 83.2%,#3a62b4 90.5%,#3d50a6 97.3%,#4350a8 99.1%,#4b4fa7 99.7%)"></i><i style="left:142px;width:2px;background:linear-gradient(#66b945 0.3%,#5cb84a 18.6%,#5bb859 21.6%,#50bfaa 29.6%,#48c2c7 33.2%,#42c3db 36.9%,#3fc4e2 39.3%,#3ec3e5 42.4%,#38c1f2 57.6%,#38b4ec 69.8%,#39a7e6 74.1%,#3c8dd7 80.2%,#3a64b6 88.7%,#3c50a6 96.6%,#4450a8 99.1%,#4c4fa7 99.7%)"></i><i style="left:144px;width:2px;background:linear-gradient(#63b945 0.3%,#5cb84a 11.9%,#5ab85d 15.5%,#52bea1 22.3%,#4bc1bf 25.9%,#42c3d9 30.8%,#3fc4e3 35.1%,#38c2f1 50.9%,#38b5ec 64.9%,#39a9e6 69.8%,#3b8fd8 77.1%,#3a64b5 86.9%,#3d50a6 96.6%,#4450a8 99.1%,#4d4ea7 99.7%)"></i><i style="left:146px;width:2px;background:linear-gradient(#5eb847 0.3%,#5cb84a 4.6%,#5bb85b 8.2%,#52bea2 15.5%,#4cc1bb 18.6%,#43c3d7 23.5%,#3fc4e3 28.4%,#38c2f1 46%,#38b5ec 60.7%,#3b8dd7 74.7%,#3a65b6 84.5%,#3b5db0 90.5%,#3c50a6 96%,#4550a8 99.1%,#4e4ea7 99.7%)"></i><i style="left:148px;width:2px;background:linear-gradient(#5ab862 0.3%,#58b972 2.7%,#4dc1b9 10.7%,#44c3d5 15.5%,#3fc4e2 19.8%,#39c2f1 38.7%,#38b5ec 56.4%,#3c8cd6 71%,#3a64b6 82%,#3b5cb0 89.9%,#3c50a6 95.4%,#4350a8 98.5%,#4650a8 99.1%,#4f4ea7 99.7%)"></i><i style="left:150px;width:2px;background:linear-gradient(#4dc0b6 0.3%,#44c3d4 6.4%,#3fc4e2 11.3%,#38c1f1 35.1%,#38b3eb 52.1%,#3c8cd6 66.2%,#3a64b6 79%,#3b5aaf 89.3%,#3c50a6 94.8%,#4450a8 98.5%,#4750a8 99.1%,#504ea7 99.7%)"></i><i style="left:152px;width:2px;background:linear-gradient(#3fc4e3 0.3%,#39c2f0 21.6%,#38b6ed 42.4%,#39abe8 49.1%,#3c8dd7 60.7%,#3a64b6 75.3%,#3b59ad 88.7%,#3c50a6 94.2%,#4450a8 98.5%,#514ea7 99.7%)"></i><i style="left:154px;width:2px;background:linear-gradient(#3bc3eb 0.3%,#38c0f1 16.2%,#38b5ec 33.2%,#3b93db 52.7%,#3a65b6 70.4%,#3c50a6 93.6%,#4550a8 98.5%,#524da7 99.7%)"></i><i style="left:156px;width:2px;background:linear-gradient(#38c2f1 0.3%,#38b9ee 16.8%,#38b0ea 26.5%,#3c8cd6 49.1%,#3a64b6 65.5%,#3c51a7 92.4%,#4450a8 97.9%,#4650a8 98.5%,#534da7 99.7%)"></i><i style="left:158px;width:2px;background:linear-gradient(#38bcef 0.3%,#38aee9 15.5%,#3b8dd7 36.3%,#3b7cca 47.3%,#3a64b6 59.5%,#3c50a6 91.8%,#4450a8 97.9%,#544da7 99.7%)"></i><i style="left:160px;width:2px;background:linear-gradient(#39ade9 0.3%,#3b7ac9 34.5%,#3a63b5 54%,#3c50a6 91.2%,#4550a8 97.9%,#554da6 99.7%)"></i><i style="left:162px;width:2px;background:linear-gradient(#3b91d9 0.3%,#3b71c1 24.7%,#3a66b7 36.9%,#3c50a6 88.7%,#4450a8 97.3%,#4a4fa8 98.5%,#564da6 99.7%)"></i><i style="left:164px;width:2px;background:linear-gradient(#3b75c4 0.3%,#3a61b3 27.1%,#3c50a6 86.9%,#4550a8 97.3%,#4c4fa7 98.5%,#574da6 99.7%)"></i><i style="left:166px;width:2px;background:linear-gradient(#3a61b4 0.3%,#3d50a6 84.5%,#4550a8 96.6%,#4d4ea7 98.5%,#584ca6 99.7%)"></i><i style="left:168px;width:8px;background:linear-gradient(#3b5cb0 0.3%,#3f50a7 88.1%,#4650a8 96.6%,#4e4ea7 98.5%,#594ca6 99.7%)"></i></div></div>
<div class="hm" style="left:397px;top:59px;width:164px;height:164px"><div class="w" style="width:176px"><i style="left:0px;width:8px;background:linear-gradient(#6648a5 0.3%,#6648a5 97.3%,#6a47a4 99.7%)"></i><i style="left:8px;width:2px;background:linear-gradient(#6648a5 0.3%,#6648a5 96%,#6a47a4 99.7%)"></i><i style="left:10px;width:2px;background:linear-gradient(#6947a4 0.3%,#6a47a4 95.4%,#6d45a4 99.7%)"></i><i style="left:12px;width:2px;background:linear-gradient(#7142a3 0.3%,#7341a3 99.7%)"></i><i style="left:14px;width:2px;background:linear-gradient(#773ea3 0.3%,#783ea3 99.7%)"></i><i style="left:16px;width:2px;background:linear-gradient(#793da3 0.3%,#793da3 99.7%)"></i><i style="left:18px;width:2px;background:linear-gradient(#793da3 0.3%,#793da3 99.7%)"></i><i style="left:20px;width:2px;background:linear-gradient(#793da3 0.3%,#793ea3 99.7%)"></i><i style="left:22px;width:2px;background:linear-gradient(#793ea3 0.3%,#793ea3 99.7%)"></i><i style="left:24px;width:2px;background:linear-gradient(#793ea3 0.3%,#783ea3 99.7%)"></i><i style="left:26px;width:2px;background:linear-gradient(#783ea3 0.3%,#783ea3 99.7%)"></i><i style="left:28px;width:2px;background:linear-gradient(#783ea3 0.3%,#783ea3 99.7%)"></i><i style="left:30px;width:2px;background:linear-gradient(#783ea3 0.3%,#783ea3 99.7%)"></i><i style="left:32px;width:2px;background:linear-gradient(#783ea3 0.3%,#783ea3 99.7%)"></i><i style="left:34px;width:2px;background:linear-gradient(#783ea3 0.3%,#773ea3 99.7%)"></i><i style="left:36px;width:2px;background:linear-gradient(#783ea3 0.3%,#773ea3 99.7%)"></i><i style="left:38px;width:2px;background:linear-gradient(#783ea3 0.3%,#773fa3 99.7%)"></i><i style="left:40px;width:2px;background:linear-gradient(#783ea3 0.3%,#773fa3 99.7%)"></i><i style="left:42px;width:2px;background:linear-gradient(#773ea3 0.3%,#773fa3 99.7%)"></i><i style="left:44px;width:2px;background:linear-gradient(#773fa3 0.3%,#773fa3 99.7%)"></i><i style="left:46px;width:2px;background:linear-gradient(#773fa3 0.3%,#763fa3 99.7%)"></i><i style="left:48px;width:2px;background:linear-gradient(#773fa3 0.3%,#763fa3 99.7%)"></i><i style="left:50px;width:2px;background:linear-gradient(#773fa3 0.3%,#763fa3 99.7%)"></i><i style="left:52px;width:2px;background:linear-gradient(#773fa3 0.3%,#763fa3 99.7%)"></i><i style="left:54px;width:2px;background:linear-gradient(#773fa3 0.3%,#7640a3 99.7%)"></i><i style="left:56px;width:2px;background:linear-gradient(#763fa3 0.3%,#7540a3 99.7%)"></i><i style="left:58px;width:2px;background:linear-gradient(#763fa3 0.3%,#7540a3 99.7%)"></i><i style="left:60px;width:2px;background:linear-gradient(#763fa3 0.3%,#7540a3 99.7%)"></i><i style="left:62px;width:2px;background:linear-gradient(#763fa3 0.3%,#7540a3 99.7%)"></i><i style="left:64px;width:2px;background:linear-gradient(#7540a3 0.3%,#7540a3 99.7%)"></i><i style="left:66px;width:2px;background:linear-gradient(#7540a3 0.3%,#7540a3 99.7%)"></i><i style="left:68px;width:2px;background:linear-gradient(#7441a3 0.3%,#7440a3 99.7%)"></i><i style="left:70px;width:2px;background:linear-gradient(#7341a3 0.3%,#7441a3 99.7%)"></i><i style="left:72px;width:2px;background:linear-gradient(#7242a3 0.3%,#7441a3 99.7%)"></i><i style="left:74px;width:2px;background:linear-gradient(#7142a3 0.3%,#7441a3 99.7%)"></i><i style="left:76px;width:2px;background:linear-gradient(#7043a4 0.3%,#7043a4 85.7%,#7441a3 99.7%)"></i><i style="left:78px;width:2px;background:linear-gradient(#7044a4 0.3%,#7044a4 86.3%,#7341a3 99.7%)"></i><i style="left:80px;width:2px;background:linear-gradient(#6f44a4 0.3%,#6f44a4 86.3%,#7341a3 99.7%)"></i><i style="left:82px;width:2px;background:linear-gradient(#6d45a4 0.3%,#6d45a4 86.3%,#7341a3 99.7%)"></i><i style="left:84px;width:2px;background:linear-gradient(#6c46a4 0.3%,#6c46a4 86.3%,#7341a3 99.7%)"></i><i style="left:86px;width:2px;background:linear-gradient(#6b46a4 0.3%,#6b46a4 86.3%,#7242a3 99.7%)"></i><i style="left:88px;width:2px;background:linear-gradient(#6a47a4 0.3%,#6a47a4 86.3%,#7242a3 99.7%)"></i><i style="left:90px;width:2px;background:linear-gradient(#6947a4 0.3%,#6947a4 86.3%,#7143a3 99.7%)"></i><i style="left:92px;width:2px;background:linear-gradient(#6847a4 0.3%,#6847a4 86.3%,#7043a4 99.7%)"></i><i style="left:94px;width:2px;background:linear-gradient(#6648a5 0.3%,#6648a5 86.3%,#6f44a4 99.7%)"></i><i style="left:96px;width:2px;background:linear-gradient(#6548a5 0.3%,#6449a5 85.7%,#6e45a4 99.7%)"></i><i style="left:98px;width:2px;background:linear-gradient(#6249a5 0.3%,#6249a5 85.1%,#6d46a4 99.7%)"></i><i style="left:100px;width:2px;background:linear-gradient(#5f4aa5 0.3%,#5f4aa5 84.5%,#6c46a4 99.7%)"></i><i style="left:102px;width:2px;background:linear-gradient(#5d4ba6 0.3%,#5b4ca6 83.8%,#5d4ba6 87.5%,#6648a5 92.4%,#6b46a4 99.7%)"></i><i style="left:104px;width:2px;background:linear-gradient(#5a4ca6 0.3%,#5b4ca6 74.7%,#584ca6 83.8%,#5a4ca6 87.5%,#6449a5 92.4%,#6a47a4 99.7%)"></i><i style="left:106px;width:2px;background:linear-gradient(#564da6 0.3%,#584ca6 74.7%,#534da7 83.2%,#564da6 87.5%,#6249a5 92.4%,#6847a4 99.7%)"></i><i style="left:108px;width:2px;background:linear-gradient(#514ea7 0.3%,#554da6 74.7%,#4d4fa7 83.2%,#524ea7 87.5%,#5f4aa5 92.4%,#6748a5 99.7%)"></i><i style="left:110px;width:2px;background:linear-gradient(#4a4fa7 0.3%,#504ea7 74.1%,#4650a8 82.6%,#4b4fa7 86.9%,#5c4ba6 91.8%,#6548a5 99.7%)"></i><i style="left:112px;width:2px;background:linear-gradient(#4450a8 0.3%,#494fa8 73.5%,#4250a7 82.6%,#4650a8 87.5%,#584ca6 91.8%,#6449a5 99.7%)"></i><i style="left:114px;width:2px;background:linear-gradient(#4050a7 0.3%,#4350a8 74.1%,#3f50a7 82.6%,#4450a8 88.1%,#564da6 92.4%,#6249a5 99.7%)"></i><i style="left:116px;width:2px;background:linear-gradient(#3d50a6 0.3%,#4050a7 74.1%,#3c51a7 82.6%,#4250a7 88.7%,#524ea7 92.4%,#614aa5 99.7%)"></i><i style="left:118px;width:2px;background:linear-gradient(#3c51a7 0.3%,#3c50a6 75.3%,#3b57ac 81.4%,#3c51a7 85.7%,#4450a8 90.5%,#4e4ea7 93%,#5f4aa5 99.7%)"></i><i style="left:120px;width:2px;background:linear-gradient(#3c53a9 0.3%,#3c53a8 74.7%,#3b5cb0 82%,#3c52a8 87.5%,#4450a8 91.8%,#5e4ba6 99.7%)"></i><i style="left:122px;width:2px;background:linear-gradient(#3c55aa 0.3%,#3c55aa 74.1%,#3b57ac 77.1%,#3a60b3 82%,#3c53a8 88.7%,#4750a8 94.8%,#524ea7 97.9%,#5c4ba6 99.7%)"></i><i style="left:124px;width:2px;background:linear-gradient(#3b57ac 0.3%,#3b58ad 74.7%,#3b5db1 78.4%,#3b6cbd 81.4%,#3a62b4 83.8%,#3c51a7 90.5%,#4450a8 95.4%,#4d4ea7 97.9%,#5b4ca6 99.7%)"></i><i style="left:126px;width:2px;background:linear-gradient(#3b5baf 0.3%,#3b58ad 49.1%,#3b5cb0 75.3%,#3a61b4 78.4%,#3c7fcd 80.8%,#3c82cf 81.4%,#3c7fcd 82%,#3a68b9 84.5%,#3a61b3 85.7%,#3c51a7 91.8%,#4450a8 96.6%,#484fa8 97.9%,#594ca6 99.7%)"></i><i style="left:128px;width:2px;background:linear-gradient(#3a60b3 0.3%,#3b5db0 49.7%,#3a60b3 75.9%,#3a67b9 77.7%,#3b6fc0 78.4%,#3b91d9 80.2%,#3a98de 80.8%,#3a9ade 81.4%,#3b8ed8 82.6%,#3b74c4 84.5%,#3a62b4 86.9%,#3c51a7 93%,#4350a8 97.3%,#494fa8 98.5%,#574da6 99.7%)"></i><i style="left:130px;width:2px;background:linear-gradient(#3b6dbd 0.3%,#3a62b4 49.1%,#3a6abb 74.7%,#3b6cbd 75.9%,#3b73c3 77.1%,#3c85d1 78.4%,#39ace8 80.2%,#38b2eb 80.8%,#38b3eb 81.4%,#39aee9 82%,#3c8cd7 83.8%,#3b7bca 85.1%,#3a62b4 88.1%,#3c51a7 94.8%,#3f50a7 96.6%,#4550a8 98.5%,#544da7 99.7%)"></i><i style="left:132px;width:2px;background:linear-gradient(#3c80cd 0.3%,#3b71c1 49.7%,#3b7bca 73.5%,#3c83d0 76.5%,#3b91d9 77.7%,#38b6ed 79.6%,#38bef0 80.8%,#38bef0 81.4%,#38b6ed 82.6%,#3b93db 84.5%,#3c83d0 85.7%,#3a66b8 88.7%,#3d50a6 96.6%,#4350a8 98.5%,#524da7 99.7%)"></i><i style="left:134px;width:2px;background:linear-gradient(#3b94db 0.3%,#3c85d1 49.1%,#3b8dd7 67.4%,#3b94db 75.3%,#3aa0e2 77.1%,#38b3eb 78.4%,#38bff1 79.6%,#3ac2ee 80.8%,#39c2f0 82%,#38bff1 82.6%,#38b2eb 83.8%,#3a9adf 85.1%,#3c8ad5 86.3%,#3b75c4 88.1%,#3a66b8 89.9%,#3d50a6 97.3%,#4550a8 99.1%,#4f4ea7 99.7%)"></i><i style="left:136px;width:2px;background:linear-gradient(#39a7e5 0.3%,#3a99de 52.1%,#39a7e6 73.5%,#38aee9 75.9%,#39c1f0 79%,#3dc3e6 80.8%,#3bc3ec 82.6%,#39c1f0 83.2%,#38b7ed 84.5%,#3a98dd 86.3%,#3c88d4 87.5%,#3b75c4 89.3%,#3a66b8 91.2%,#3d50a6 97.9%,#4350a8 99.1%,#4c4fa7 99.7%)"></i><i style="left:138px;width:2px;background:linear-gradient(#38b5ed 0.3%,#39aee9 50.3%,#38b8ee 74.1%,#38c1f1 77.7%,#3ec3e5 79.6%,#43c3d8 80.8%,#43c3d6 81.4%,#3cc3e9 83.2%,#38c0f1 84.5%,#38b4ec 85.7%,#3b8fd8 88.1%,#3a66b8 92.4%,#3c51a7 97.9%,#4150a7 99.1%,#484fa8 99.7%)"></i><i style="left:140px;width:2px;background:linear-gradient(#38bdf0 0.3%,#38baef 50.3%,#39c2f0 76.5%,#3bc3eb 77.7%,#40c4de 79%,#4ec0b2 80.2%,#52bea1 80.8%,#53bd9d 81.4%,#50bea8 82%,#43c3d6 83.2%,#3ec3e5 83.8%,#39c2f0 85.1%,#38b8ee 86.3%,#3b95dc 88.7%,#3a66b7 93.6%,#3c50a6 98.5%,#4550a8 99.7%)"></i><i style="left:142px;width:2px;background:linear-gradient(#39c2f1 0.3%,#39c2f0 63.1%,#3bc3ec 75.9%,#3fc4e3 77.7%,#44c3d4 78.4%,#4ec0b4 79%,#55bb8b 79.6%,#59b86a 80.2%,#5bb859 80.8%,#5bb857 81.4%,#5ab85d 82%,#58b975 82.6%,#4ac1c1 83.8%,#41c3db 84.5%,#3dc3e7 85.1%,#38c0f1 86.3%,#38b7ed 87.5%,#3b96dd 89.9%,#3a64b5 94.8%,#3c52a8 98.5%,#4350a8 99.7%)"></i><i style="left:144px;width:2px;background:linear-gradient(#3bc3eb 0.3%,#3bc3ec 50.3%,#3ec3e5 75.9%,#3fc4e3 76.5%,#42c3da 77.1%,#49c2c4 77.7%,#52bea0 78.4%,#58b973 79%,#5bb853 79.6%,#5db848 80.2%,#5eb847 80.8%,#5db849 82.6%,#5bb857 83.2%,#57b979 83.8%,#51bea5 84.5%,#47c2ca 85.1%,#3fc4e1 85.7%,#39c2ef 86.9%,#38bff1 87.5%,#38afea 89.3%,#3c89d4 92.4%,#3a66b7 95.4%,#3c50a6 99.1%,#4250a7 99.7%)"></i><i style="left:146px;width:2px;background:linear-gradient(#3ec4e4 0.3%,#3ec4e4 50.9%,#41c3dc 74.1%,#43c3d8 75.3%,#45c3d1 75.9%,#49c2c4 76.5%,#4fbfac 77.1%,#5ab85f 78.4%,#5db849 79%,#63b945 80.8%,#5db849 83.8%,#5ab85f 84.5%,#4dc0b5 85.7%,#43c3d7 86.3%,#3ec3e5 86.9%,#38c1f1 88.1%,#38b5ec 89.9%,#3b96dc 92.4%,#3a67b8 96%,#3c52a7 99.1%,#4050a7 99.7%)"></i><i style="left:148px;width:2px;background:linear-gradient(#4ac1c2 0.3%,#4ac1c1 49.1%,#4ebfb0 72.3%,#4fbfab 74.1%,#52bd9e 75.3%,#55bb90 75.9%,#57ba7d 76.5%,#5ab862 77.1%,#5cb84f 77.7%,#5db847 78.4%,#69ba44 80.8%,#68ba44 82%,#5db848 84.5%,#5bb853 85.1%,#58b979 85.7%,#50bfaa 86.3%,#45c3d2 86.9%,#3ec4e4 87.5%,#39c2f0 88.7%,#38afea 91.8%,#3c8bd6 94.2%,#3a68b9 96.6%,#3f50a7 99.7%)"></i><i style="left:150px;width:2px;background:linear-gradient(#5ab85f 0.3%,#5ab85f 49.1%,#5bb85a 71%,#5bb857 74.1%,#5db848 76.5%,#6ebb43 81.4%,#61b945 84.5%,#5cb84d 85.7%,#59b870 86.3%,#51bea5 86.9%,#46c3cf 87.5%,#3ec4e3 88.1%,#3ac3ed 89.3%,#38c0f1 90.5%,#38b7ed 92.4%,#38b0ea 93%,#3b90d9 94.8%,#3a66b8 97.3%,#3d50a6 99.7%)"></i><i style="left:152px;width:2px;background:linear-gradient(#62b945 0.3%,#62b945 72.9%,#65b945 76.5%,#71bc43 81.4%,#6dbb43 83.2%,#63b945 85.1%,#5cb849 86.3%,#59b868 86.9%,#53bd9b 87.5%,#4ac2c3 88.1%,#42c3d9 88.7%,#3fc4e3 89.3%,#3ac3ec 91.2%,#38bff1 92.4%,#38b6ed 93.6%,#39ade8 94.2%,#3c89d5 96%,#3a61b4 97.9%,#3c51a7 99.7%)"></i><i style="left:154px;width:2px;background:linear-gradient(#6aba44 0.3%,#6bba44 73.5%,#72bc43 82%,#6ebb43 83.8%,#5fb846 86.3%,#5db849 86.9%,#5ab85b 87.5%,#52bea1 88.7%,#4dc1b8 89.3%,#47c2ca 89.9%,#42c3da 90.5%,#3ec4e4 91.2%,#3ac2ee 92.4%,#38c1f1 93%,#38b3eb 94.8%,#3c89d5 96.6%,#3a66b8 97.9%,#3c53a8 99.7%)"></i><i style="left:156px;width:2px;background:linear-gradient(#6dbb43 0.3%,#6dbb43 74.7%,#71bc43 82%,#6fbb43 83.8%,#5fb846 86.9%,#5db848 87.5%,#5cb850 88.1%,#57b980 89.3%,#53bd9e 89.9%,#44c3d4 91.2%,#3fc4e3 91.8%,#39c2f0 93.6%,#38b7ed 95.4%,#39aae7 96%,#3b96dc 96.6%,#3b6cbd 97.9%,#3a61b3 98.5%,#3c55aa 99.7%)"></i><i style="left:158px;width:2px;background:linear-gradient(#6dbb43 0.3%,#6dbb43 75.3%,#70bc43 82%,#6ebb43 83.8%,#5eb846 87.5%,#5cb84a 88.7%,#5ab85f 89.3%,#58b878 89.9%,#4bc1be 91.2%,#42c3d9 91.8%,#3ec4e4 92.4%,#39c2ef 94.2%,#38c1f1 94.8%,#38b6ed 96%,#3c88d4 97.3%,#3b71c1 97.9%,#3a62b4 98.5%,#3b57ac 99.7%)"></i><i style="left:160px;width:2px;background:linear-gradient(#6bba44 0.3%,#6dbb43 82%,#6bba44 83.8%,#5eb847 87.5%,#5cb84a 88.7%,#5ab85c 89.3%,#58b874 89.9%,#4dc1b9 91.2%,#44c3d3 91.8%,#3fc4e2 92.4%,#39c2ef 94.8%,#38baee 96%,#39a8e6 96.6%,#3b72c2 97.9%,#3a63b5 98.5%,#3b58ac 99.7%)"></i><i style="left:162px;width:2px;background:linear-gradient(#62b946 0.3%,#62b945 82%,#5db848 86.3%,#5ab866 88.1%,#51bea2 89.9%,#45c3d1 91.2%,#40c4e1 91.8%,#39c2ef 94.2%,#38bef0 95.4%,#38b7ed 96%,#39a3e4 96.6%,#3b71c1 97.9%,#3a62b4 98.5%,#3b57ac 99.7%)"></i><i style="left:164px;width:2px;background:linear-gradient(#4cbea8 0.3%,#4cbea8 82.6%,#4bbeb1 85.1%,#42c2d8 88.1%,#3cc3e9 89.9%,#38bdf0 93%,#38b9ee 94.2%,#39afe9 95.4%,#39a4e4 96%,#3b91da 96.6%,#3a68b9 97.9%,#3c53a9 99.7%)"></i><i style="left:166px;width:2px;background:linear-gradient(#3a9edf 0.3%,#3a9cdf 86.9%,#3a91d8 91.2%,#3b81cd 94.8%,#3b76c5 96%,#3a62b5 97.3%,#3b5cb0 97.9%,#3d50a6 99.7%)"></i><i style="left:168px;width:8px;background:linear-gradient(#3b5fb2 0.3%,#3b5fb2 86.9%,#3b5aae 95.4%,#3d51a7 97.9%,#4150a7 99.7%)"></i></div></div>
<div class="hm" style="left:569px;top:59px;width:165px;height:163px"><div class="w" style="width:177px"><i style="left:0px;width:8px;background:linear-gradient(#594ca6 0.3%,#5a4ca6 96%,#5e4ba6 99.7%)"></i><i style="left:8px;width:2px;background:linear-gradient(#594ca6 0.3%,#594ca6 74.5%,#5a4ca6 96.6%,#5e4ba6 99.7%)"></i><i style="left:10px;width:2px;background:linear-gradient(#584ca6 0.3%,#584ca6 73.9%,#5a4ca6 96.6%,#5e4ba6 99.7%)"></i><i style="left:12px;width:2px;background:linear-gradient(#574da6 0.3%,#574da6 73.9%,#5a4ca6 96.6%,#5e4ba6 99.7%)"></i><i style="left:14px;width:2px;background:linear-gradient(#564da6 0.3%,#564da6 73.3%,#5a4ca6 96.6%,#5e4ba6 99.7%)"></i><i style="left:16px;width:2px;background:linear-gradient(#564da6 0.3%,#554da7 73.3%,#5a4ca6 96.6%,#5e4ba6 99.7%)"></i><i style="left:18px;width:2px;background:linear-gradient(#554da6 0.3%,#544da7 73.3%,#5a4ca6 85.6%,#5a4ca6 96.6%,#5e4ba6 99.7%)"></i><i style="left:20px;width:2px;background:linear-gradient(#544da7 0.3%,#534da7 73.3%,#5a4ca6 85.6%,#5a4ca6 96.6%,#5e4ba6 99.7%)"></i><i style="left:22px;width:2px;background:linear-gradient(#544da7 0.3%,#524da7 73.3%,#5a4ca6 85.6%,#5a4ca6 96.6%,#5e4ba6 99.7%)"></i><i style="left:24px;width:2px;background:linear-gradient(#544da7 0.3%,#524ea7 73.3%,#5a4ca6 85.6%,#5a4ca6 97.2%,#5e4ba6 99.7%)"></i><i style="left:26px;width:2px;background:linear-gradient(#544da7 0.3%,#524ea7 73.3%,#5a4ca6 85.6%,#5a4ca6 97.2%,#5e4ba6 99.7%)"></i><i style="left:28px;width:2px;background:linear-gradient(#544da7 0.3%,#524ea7 73.3%,#5a4ca6 85.6%,#5a4ca6 97.2%,#5e4ba6 99.7%)"></i><i style="left:30px;width:2px;background:linear-gradient(#544da7 0.3%,#524ea7 73.3%,#5a4ca6 85.6%,#5a4ca6 97.2%,#5e4ba6 99.7%)"></i><i style="left:32px;width:2px;background:linear-gradient(#544da7 0.3%,#524ea7 73.3%,#5a4ca6 85.6%,#5a4ca6 97.2%,#5e4ba6 99.7%)"></i><i style="left:34px;width:2px;background:linear-gradient(#544da7 0.3%,#524ea7 73.3%,#5a4ca6 85.6%,#5a4ca6 97.2%,#5e4ba6 99.7%)"></i><i style="left:36px;width:2px;background:linear-gradient(#544da7 0.3%,#524ea7 73.3%,#5a4ca6 85.6%,#5a4ca6 97.2%,#5e4ba6 99.7%)"></i><i style="left:38px;width:2px;background:linear-gradient(#544da7 0.3%,#524da7 73.3%,#5a4ca6 85.6%,#5a4ca6 96.6%,#5e4ba6 99.7%)"></i><i style="left:40px;width:2px;background:linear-gradient(#554da6 0.3%,#544da7 73.9%,#5a4ca6 85.6%,#5a4ca6 96.6%,#5e4ba6 99.7%)"></i><i style="left:42px;width:2px;background:linear-gradient(#564da6 0.3%,#554da6 73.9%,#5a4ca6 96.6%,#5e4ba6 99.7%)"></i><i style="left:44px;width:2px;background:linear-gradient(#574da6 0.3%,#564da6 75.2%,#5a4ca6 96.6%,#5e4ba6 99.7%)"></i><i style="left:46px;width:2px;background:linear-gradient(#594ca6 0.3%,#584ca6 77%,#5a4ca6 96.6%,#5e4ba6 99.7%)"></i><i style="left:48px;width:2px;background:linear-gradient(#5a4ca6 0.3%,#594ca6 79.4%,#5a4ca6 96.6%,#5e4ba6 99.7%)"></i><i style="left:50px;width:2px;background:linear-gradient(#5b4ca6 0.3%,#5a4ca6 96%,#5e4ba6 99.7%)"></i><i style="left:52px;width:2px;background:linear-gradient(#5c4ba6 0.3%,#5a4ca6 96%,#5e4ba6 99.7%)"></i><i style="left:54px;width:2px;background:linear-gradient(#5d4ba6 0.3%,#5a4ca6 96%,#5e4ba6 99.7%)"></i><i style="left:56px;width:2px;background:linear-gradient(#5d4ba6 0.3%,#5a4ca6 95.4%,#5e4ba6 99.7%)"></i><i style="left:58px;width:2px;background:linear-gradient(#5d4ba6 0.3%,#5a4ca6 96%,#5e4ba6 99.7%)"></i><i style="left:60px;width:2px;background:linear-gradient(#5c4ba6 0.3%,#5a4ca6 96%,#5e4ba6 99.7%)"></i><i style="left:62px;width:2px;background:linear-gradient(#5c4ba6 0.3%,#5a4ca6 96%,#5e4ba6 99.7%)"></i><i style="left:64px;width:2px;background:linear-gradient(#5c4ba6 0.3%,#5a4ca6 96%,#5e4ba6 99.7%)"></i><i style="left:66px;width:2px;background:linear-gradient(#5c4ba6 0.3%,#5a4ca6 96%,#5e4ba6 99.7%)"></i><i style="left:68px;width:2px;background:linear-gradient(#5b4ca6 0.3%,#5a4ca6 96%,#5e4ba6 99.7%)"></i><i style="left:70px;width:2px;background:linear-gradient(#5b4ca6 0.3%,#5a4ca6 96%,#5e4ba6 99.7%)"></i><i style="left:72px;width:2px;background:linear-gradient(#5b4ca6 0.3%,#5a4ca6 96%,#5e4ba6 99.7%)"></i><i style="left:74px;width:2px;background:linear-gradient(#5a4ca6 0.3%,#5a4ca6 96%,#5e4ba6 99.7%)"></i><i style="left:76px;width:2px;background:linear-gradient(#584ca6 0.3%,#5a4ca6 96%,#5e4ba6 99.7%)"></i><i style="left:78px;width:2px;background:linear-gradient(#554da6 0.3%,#5a4ca6 96%,#5e4ba6 99.7%)"></i><i style="left:80px;width:2px;background:linear-gradient(#504ea7 0.3%,#534da7 48.2%,#5a4ca6 72.7%,#5a4ca6 96.6%,#5e4ba6 99.7%)"></i><i style="left:82px;width:2px;background:linear-gradient(#4550a8 0.3%,#4c4fa7 47.5%,#564da6 64.1%,#5a4ca6 96.6%,#5e4ba6 99.7%)"></i><i style="left:84px;width:2px;background:linear-gradient(#3f50a7 0.3%,#4450a8 48.2%,#544da7 66%,#5a4ca6 81.3%,#5a4ca6 96.6%,#5e4ba6 99.7%)"></i><i style="left:86px;width:2px;background:linear-gradient(#3c54a9 0.3%,#4150a7 50.6%,#4450a8 57.4%,#544da7 72.1%,#5a4ca6 85%,#5a4ca6 96.6%,#5e4ba6 99.7%)"></i><i style="left:88px;width:2px;background:linear-gradient(#3b5aaf 0.3%,#3d50a6 52.5%,#4450a8 64.7%,#524ea7 76.4%,#584ca6 96.6%,#5d4ba6 99.7%)"></i><i style="left:90px;width:2px;background:linear-gradient(#3a60b3 0.3%,#3b57ac 45.7%,#3d50a6 61%,#4350a8 72.7%,#4f4ea7 85%,#524ea7 94.2%,#5c4ba6 99.7%)"></i><i style="left:92px;width:2px;background:linear-gradient(#3b77c6 0.3%,#3a66b7 19.9%,#3b5cb0 50%,#3d50a6 71.5%,#4b4fa7 93.6%,#5b4ca6 99.7%)"></i><i style="left:94px;width:2px;background:linear-gradient(#3aa0e2 0.3%,#3b6ebe 36.5%,#3c52a8 75.8%,#4550a8 94.2%,#594ca6 99.7%)"></i><i style="left:96px;width:2px;background:linear-gradient(#38bdf0 0.3%,#39afe9 15.6%,#3b91d9 34%,#3b7ac9 48.8%,#3a61b4 61%,#3b5aaf 73.9%,#3d50a6 82.5%,#4250a7 93.6%,#4550a8 96%,#564da6 99.7%)"></i><i style="left:98px;width:2px;background:linear-gradient(#3dc3e6 0.3%,#38bff0 21.2%,#38b4ec 33.4%,#39aae7 40.2%,#3b95dc 50.6%,#3a67b9 66%,#3c51a7 85%,#3f50a7 93.6%,#4650a8 97.2%,#544da7 99.7%)"></i><i style="left:100px;width:2px;background:linear-gradient(#56bc84 0.3%,#51bd9c 5.8%,#49c1c2 12%,#47c2cc 14.4%,#3ec3e4 22.4%,#3ac2ee 32.2%,#38bef0 41.4%,#38b7ed 49.4%,#39abe7 54.3%,#3a9de0 58%,#3b7ccb 67.2%,#3a66b7 75.8%,#3c55aa 86.8%,#3c51a7 92.9%,#4550a8 97.9%,#524ea7 99.7%)"></i><i style="left:102px;width:2px;background:linear-gradient(#60b846 0.3%,#5db848 9.5%,#5ab861 17.5%,#58ba6f 20.6%,#48c2c8 34%,#3ec3e5 42%,#3ac2ee 49.4%,#38bef0 54.9%,#38b8ee 58.6%,#39aae7 63.5%,#3c83d0 73.3%,#3a61b3 81.9%,#3c51a7 94.8%,#4550a8 98.5%,#4f4ea7 99.7%)"></i><i style="left:104px;width:2px;background:linear-gradient(#6ebb43 0.3%,#5db849 31%,#5ab861 37.7%,#58ba6e 40.2%,#51bd9d 46.3%,#48c2c6 50.6%,#3ec3e3 54.9%,#3ac2ee 59.8%,#38b9ee 66.6%,#39ace8 70.2%,#3b8ed7 76.4%,#3b6fc0 81.9%,#3a61b4 85.6%,#3b5aaf 92.9%,#3c51a7 95.4%,#4450a8 98.5%,#4d4fa7 99.7%)"></i><i style="left:106px;width:2px;background:linear-gradient(#81c140 0.3%,#5db849 48.8%,#5ab85f 52.5%,#59b96a 53.7%,#4ac1be 59.2%,#47c2cc 60.4%,#3ec3e3 63.5%,#39c2ee 67.8%,#38bff0 70.2%,#38b0ea 75.2%,#3b8dd7 80.7%,#3a66b8 87.4%,#3a61b3 89.3%,#3b5db1 93.6%,#3c51a7 96%,#4450a8 99.1%,#4a4fa7 99.7%)"></i><i style="left:108px;width:2px;background:linear-gradient(#9aca3b 0.3%,#5db848 58%,#59b966 61.7%,#52bc99 64.7%,#48c2c6 67.2%,#46c2cd 67.8%,#3ec3e5 70.2%,#3ac2ee 73.3%,#38bff0 75.8%,#39ade8 80.1%,#3b8ed8 84.4%,#3b6dbe 89.3%,#3b5eb1 94.2%,#3c50a6 96.6%,#484fa8 99.7%)"></i><i style="left:110px;width:2px;background:linear-gradient(#bcd731 0.3%,#98c93b 24.2%,#7abe41 48.8%,#5db848 65.3%,#59b966 68.4%,#47c2cb 73.3%,#3ec3e5 75.8%,#3ac2ee 78.2%,#38bff0 80.1%,#38b6ed 82.5%,#39a9e7 84.4%,#3c82cf 89.3%,#3b76c6 91.7%,#3a60b3 94.2%,#3c50a6 97.2%,#4650a8 99.7%)"></i><i style="left:112px;width:2px;background:linear-gradient(#e1e424 0.3%,#d7e128 7.7%,#add136 30.4%,#90c63d 48.2%,#6ebb43 61.7%,#5db848 70.9%,#5ab85f 73.3%,#59b969 73.9%,#47c2cc 78.2%,#3fc3e3 80.1%,#3bc3ec 81.9%,#38bff0 83.7%,#38b4ec 86.2%,#3b8dd7 91.1%,#3c80ce 92.3%,#3a64b6 94.2%,#3a60b2 94.8%,#3c52a7 97.2%,#4450a8 99.7%)"></i><i style="left:114px;width:2px;background:linear-gradient(#f4e91e 0.3%,#ebe721 13.8%,#d3e02a 29.1%,#a9cf37 49.4%,#6ebb43 67.8%,#5db848 75.8%,#5ab865 78.2%,#54bc95 80.1%,#48c2c7 81.9%,#45c3d2 82.5%,#3ec3e4 83.7%,#3ac3ed 85.6%,#38bef0 87.4%,#38b8ee 88.7%,#39aae7 90.5%,#3b8fd8 92.3%,#3a62b4 94.8%,#3c51a7 97.9%,#4350a8 99.7%)"></i><i style="left:116px;width:2px;background:linear-gradient(#f9e61c 0.3%,#f2e91f 25.5%,#dce326 42%,#cadc2d 49.4%,#a7cf37 57.4%,#84c23f 66.6%,#67b945 75.2%,#5db848 79.4%,#5cb84b 80.1%,#5bb85b 81.3%,#59b867 81.9%,#4ac1c1 85%,#46c2cf 85.6%,#40c3e0 86.8%,#3ac3ed 88.7%,#38bff0 89.9%,#38b7ed 91.1%,#39aee9 91.7%,#3b90d9 92.9%,#3b73c3 94.2%,#3a60b3 95.4%,#3c50a6 98.5%,#4250a7 99.7%)"></i><i style="left:118px;width:2px;background:linear-gradient(#fcdc1a 0.3%,#f8e71d 35.3%,#ece820 48.2%,#dde326 53.1%,#aed136 62.3%,#69ba44 78.2%,#5db849 83.1%,#5ab865 85%,#53bd99 86.8%,#46c3cf 88.7%,#3ec3e5 89.9%,#3bc3ea 90.5%,#38bcef 91.7%,#38b2eb 92.3%,#3b7cca 94.2%,#3a63b5 95.4%,#3c52a7 98.5%,#4150a7 99.7%)"></i><i style="left:120px;width:2px;background:linear-gradient(#faa91b 0.3%,#fbb819 17.5%,#fcd819 44.5%,#fae51c 51.2%,#efe820 55.5%,#dce326 59.8%,#acd136 68.4%,#8ec53d 74.5%,#6ebb43 80.1%,#60b846 83.7%,#5db84a 86.2%,#5bb859 87.4%,#5ab866 88%,#55bb8e 89.3%,#48c2c7 90.5%,#40c3df 91.1%,#3bc3eb 91.7%,#38bef0 92.3%,#38b1ea 92.9%,#3a98de 93.6%,#3c86d2 94.2%,#3a69ba 95.4%,#3a61b3 96%,#3c50a6 99.1%,#4150a7 99.7%)"></i><i style="left:122px;width:2px;background:linear-gradient(#f15222 0.3%,#f7951d 46.3%,#f9a31b 50%,#fbbb1a 53.1%,#fcd218 55.5%,#f9e51c 58.6%,#f0e820 61.7%,#c9dc2d 69%,#6dbb43 83.1%,#62b945 86.2%,#5db848 88.7%,#5cb84d 89.3%,#5bb858 89.9%,#58b974 90.5%,#51bea2 91.1%,#44c3d5 91.7%,#3bc3eb 92.3%,#38bcef 92.9%,#3c7ecc 94.8%,#3a63b5 96%,#3c52a7 99.1%,#3f50a7 99.7%)"></i><i style="left:124px;width:2px;background:linear-gradient(#ec2326 0.3%,#ed2a25 27.9%,#ef4223 48.2%,#f04623 49.4%,#f05022 50.6%,#f9a71b 58%,#fcd218 62.3%,#fae31c 64.7%,#f0e820 67.8%,#d0df2b 73.3%,#9cca3a 79.4%,#7bbf41 83.7%,#6cbb44 86.2%,#5db849 90.5%,#5ab85e 91.1%,#53bd9a 91.7%,#42c3da 92.3%,#39c2ef 92.9%,#38b6ed 93.6%,#3a9bdf 94.2%,#3c88d4 94.8%,#3a69bb 96%,#3a61b3 96.6%,#3e50a6 99.7%)"></i><i style="left:126px;width:2px;background:linear-gradient(#ec1f26 0.3%,#ec2026 44.5%,#ed2425 51.2%,#ed2a25 53.1%,#ef4023 55.5%,#f57f1f 60.4%,#fdd018 67.8%,#f9e61c 70.9%,#f0e820 73.3%,#dfe425 75.8%,#b1d335 80.1%,#85c23f 85%,#5db848 91.1%,#59b867 91.7%,#4ec0b4 92.3%,#3dc3e7 92.9%,#38bdf0 93.6%,#3b91d9 94.8%,#3b70c0 96%,#3a63b5 96.6%,#3c50a6 99.7%)"></i><i style="left:128px;width:2px;background:linear-gradient(#ec1f26 0.3%,#ec1f26 50%,#ec2326 55.5%,#ed2b25 58%,#ef3f23 60.4%,#f5841f 66%,#fdd218 72.7%,#f9e51c 75.2%,#efe820 77%,#dee325 78.8%,#b3d334 82.5%,#7ebf40 87.4%,#5eb846 91.1%,#5cb84d 91.7%,#55bb8c 92.3%,#42c4db 92.9%,#39c2f0 93.6%,#38b4ec 94.2%,#3a9bdf 94.8%,#3b77c6 96%,#3a69ba 96.6%,#3a61b3 97.2%,#3b5cb0 98.5%,#3c52a7 99.7%)"></i><i style="left:130px;width:2px;background:linear-gradient(#ec1f26 0.3%,#ec1f26 52.5%,#ec2426 59.8%,#ed2c25 62.3%,#ef3f23 64.7%,#f5811f 69.6%,#fbb11a 73.9%,#fdd518 76.4%,#f9e61c 78.2%,#f1e91f 79.4%,#d0de2b 82.5%,#81c040 88%,#6cbb44 89.9%,#5db848 91.7%,#59b86c 92.3%,#4bc1c0 92.9%,#3cc3ea 93.6%,#38bbef 94.2%,#3b92da 95.4%,#3b70c0 96.6%,#3a64b6 97.2%,#3b5baf 99.1%,#3c54a9 99.7%)"></i><i style="left:132px;width:2px;background:linear-gradient(#ec1f26 0.3%,#ec1f26 54.3%,#ec2226 62.9%,#ed2c25 66%,#ef3a23 67.8%,#f9a21c 75.8%,#fcbe18 77.6%,#fcdb1a 79.4%,#f8e71d 80.7%,#f0e820 81.9%,#e3e524 83.1%,#d1df2a 84.4%,#8cc43e 88%,#69ba44 90.5%,#5eb847 91.7%,#5bb854 92.3%,#52be9f 92.9%,#3fc4e3 93.6%,#38c1f1 94.2%,#38b4ec 94.8%,#3c8ad5 96%,#3b78c7 96.6%,#3b6bbc 97.2%,#3a63b5 97.9%,#3b56ab 99.7%)"></i><i style="left:134px;width:2px;background:linear-gradient(#ec1f26 0.3%,#ec2226 66%,#ed2c25 69%,#ef3923 70.9%,#f8a11c 78.2%,#fdd619 81.3%,#fae41c 82.5%,#eae721 84.4%,#d4e02a 85.6%,#a6ce38 87.4%,#82c140 89.3%,#66b945 91.1%,#5db849 92.3%,#57b97a 92.9%,#46c3cf 93.6%,#3bc3ec 94.2%,#38bbef 94.8%,#39a9e7 95.4%,#3b94db 96%,#3b73c3 97.2%,#3a62b4 98.5%,#3b58ad 99.7%)"></i><i style="left:136px;width:2px;background:linear-gradient(#ec1f26 0.3%,#ec1f26 61%,#ec2226 69%,#ee2c24 72.1%,#ef3b23 73.9%,#f9a31c 80.7%,#fcb918 81.9%,#fcdc1a 83.7%,#fae41c 84.4%,#ece721 85.6%,#dfe425 86.2%,#acd136 88%,#82c140 89.9%,#6bba44 91.1%,#5eb847 92.3%,#5bb859 92.9%,#50bfaa 93.6%,#3ec4e4 94.2%,#38c1f1 94.8%,#38b6ed 95.4%,#3a9ee1 96%,#3b7cca 97.2%,#3a68ba 98.5%,#3b5baf 99.7%)"></i><i style="left:138px;width:2px;background:linear-gradient(#ec1f26 0.3%,#ec2226 71.5%,#ee2d24 75.2%,#ef3923 76.4%,#f9a91b 83.1%,#fdd518 85%,#fbe21b 85.6%,#f4e81e 86.2%,#e9e721 86.8%,#b3d434 88.7%,#84c13f 90.5%,#6aba44 91.7%,#5db848 92.9%,#58b979 93.6%,#46c2cd 94.2%,#3bc3eb 94.8%,#38bdf0 95.4%,#39ade9 96%,#3b95dc 96.6%,#3c85d2 97.2%,#3a63b5 99.1%,#3b5db0 99.7%)"></i><i style="left:140px;width:2px;background:linear-gradient(#ec1f26 0.3%,#ec2126 73.9%,#ee2e24 77.6%,#ef3b23 78.8%,#f89d1d 84.4%,#faab1b 85%,#fdd418 86.2%,#fae41c 86.8%,#f1e81f 87.4%,#e3e524 88%,#a9d037 89.9%,#76bd42 91.7%,#68ba44 92.3%,#5fb846 92.9%,#5bb853 93.6%,#51bea5 94.2%,#3fc4e2 94.8%,#39c2f0 95.4%,#38b8ee 96%,#3b8fd8 97.2%,#3b5eb1 99.7%)"></i><i style="left:142px;width:2px;background:linear-gradient(#ec1f26 0.3%,#ec2226 75.8%,#ee2e24 79.4%,#ef3a23 80.7%,#f04c22 81.9%,#f36d21 83.7%,#f7981d 85.6%,#faaa1b 86.2%,#fcd819 87.4%,#f8e61d 88%,#ece820 88.7%,#dae227 89.3%,#add136 90.5%,#72bc43 92.3%,#64b945 92.9%,#5db848 93.6%,#58b977 94.2%,#49c2c6 94.8%,#3cc3e8 95.4%,#38bff1 96%,#38afea 96.6%,#3a99de 97.2%,#3c7fcd 98.5%,#3a5fb2 99.7%)"></i><i style="left:144px;width:2px;background:linear-gradient(#ec1f26 0.3%,#ec2126 76.4%,#ee3224 81.3%,#f04a22 83.1%,#f15f21 84.4%,#f47a20 85.6%,#f89c1d 86.8%,#faaf1a 87.4%,#fdc918 88%,#fbdf1a 88.7%,#f3e81e 89.3%,#e2e424 89.9%,#add136 91.1%,#7ec040 92.3%,#6bba44 92.9%,#5fb846 93.6%,#5bb852 94.2%,#53bd9a 94.8%,#42c3da 95.4%,#3ac2ee 96%,#38b9ee 96.6%,#39a5e4 97.2%,#3c88d3 98.5%,#3a60b3 99.7%)"></i><i style="left:146px;width:2px;background:linear-gradient(#ec1f26 0.3%,#ec2126 76.4%,#ee3124 81.9%,#f04822 83.7%,#f26821 85.6%,#f7941e 87.4%,#f9a51c 88%,#fdd619 89.3%,#f7e71d 89.9%,#e5e623 90.5%,#aad037 91.7%,#76bd42 92.9%,#65b945 93.6%,#5db847 94.2%,#59b868 94.8%,#4ec0b4 95.4%,#3ec3e5 96%,#38bff1 96.6%,#3b90d9 98.5%,#3b7ccb 99.1%,#3a60b3 99.7%)"></i><i style="left:148px;width:2px;background:linear-gradient(#ec1f26 0.3%,#ec2026 69%,#ee2c24 78.8%,#ef3c23 81.9%,#f05422 84.4%,#f26621 85.6%,#f9a31c 88.7%,#fcb918 89.3%,#fdd518 89.9%,#f7e81d 90.5%,#e1e424 91.1%,#9fcc39 92.3%,#83c13f 92.9%,#6dbb44 93.6%,#61b846 94.2%,#5cb849 94.8%,#57ba82 95.4%,#45c3d2 96%,#3ac3ed 96.6%,#38b9ee 97.2%,#39ace8 97.9%,#3a98de 98.5%,#3c81ce 99.1%,#3a61b3 99.7%)"></i><i style="left:150px;width:2px;background:linear-gradient(#ec2426 0.3%,#ed2525 61%,#ed2b25 68.4%,#ef4123 74.5%,#f57e1f 84.4%,#f68d1e 86.2%,#f9a21c 88%,#faac1b 88.7%,#fcbb18 89.3%,#fdd018 89.9%,#fae41c 90.5%,#ebe721 91.1%,#cfde2c 91.7%,#acd136 92.3%,#75bd42 93.6%,#65b945 94.2%,#5eb847 94.8%,#5ab85d 95.4%,#50bfad 96%,#3dc3e6 96.6%,#38bff1 97.2%,#38b5ed 97.9%,#3a9ee1 98.5%,#3c83d0 99.1%,#3a60b3 99.7%)"></i><i style="left:152px;width:2px;background:linear-gradient(#f26221 0.3%,#f26221 49.4%,#f26621 64.1%,#f36d20 66.6%,#f8981d 77%,#fbbb1a 83.7%,#fae11b 89.3%,#f2e81f 90.5%,#e5e523 91.1%,#cfde2c 91.7%,#7bbf41 93.6%,#69ba44 94.2%,#5fb846 94.8%,#5cb84a 95.4%,#56ba88 96%,#42c4db 96.6%,#39c2ef 97.2%,#38b9ee 97.9%,#39a4e4 98.5%,#3c83d0 99.1%,#3a60b3 99.7%)"></i><i style="left:154px;width:2px;background:linear-gradient(#f7d31b 0.3%,#f7d31b 62.9%,#f5df1d 75.2%,#eee520 80.7%,#dee326 86.2%,#c0d830 91.1%,#a6ce38 92.3%,#6bba44 94.2%,#5db848 95.4%,#59b870 96%,#48c2c7 96.6%,#3bc3eb 97.2%,#38bcef 97.9%,#39a6e5 98.5%,#3c83d0 99.1%,#3a60b3 99.7%)"></i><i style="left:156px;width:2px;background:linear-gradient(#aed235 0.3%,#add136 73.9%,#9ecc39 85%,#8ac43e 91.7%,#7ec040 92.9%,#68ba44 94.2%,#5db848 95.4%,#5ab866 96%,#4dc1ba 96.6%,#3dc3e8 97.2%,#38bdf0 97.9%,#39a5e5 98.5%,#3c82d0 99.1%,#3a60b3 99.7%)"></i><i style="left:158px;width:2px;background:linear-gradient(#6bbb44 0.3%,#6bbb44 78.8%,#68ba44 88%,#63b946 92.9%,#5fb847 94.2%,#5cb84d 94.8%,#5ab85d 95.4%,#55bb8a 96%,#47c2cc 96.6%,#3bc3eb 97.2%,#38baef 97.9%,#3a9de1 98.5%,#3a5fb2 99.7%)"></i><i style="left:160px;width:2px;background:linear-gradient(#4bbeaa 0.3%,#4bbeaa 91.7%,#4bbeaf 92.9%,#49bfb8 93.6%,#42c1d6 94.8%,#3ec0e3 95.4%,#3bbde9 96%,#39b5ea 96.6%,#39a8e5 97.2%,#3b93d9 97.9%,#3b65b7 99.1%,#3b58ac 99.7%)"></i><i style="left:162px;width:2px;background:linear-gradient(#3a8ed4 0.3%,#3a8dd4 89.3%,#3a8ad2 93.6%,#3a86d0 94.2%,#3b5caf 97.9%,#4150a7 99.7%)"></i><i style="left:164px;width:2px;background:linear-gradient(#4054aa 0.3%,#4053aa 93.6%,#464fa7 96.6%,#4d4ea7 98.5%,#574ca6 99.7%)"></i><i style="left:166px;width:2px;background:linear-gradient(#5f4aa5 0.3%,#5f4aa5 92.3%,#6449a5 99.7%)"></i><i style="left:168px;width:2px;background:linear-gradient(#6648a5 0.3%,#6648a5 99.7%)"></i><i style="left:170px;width:7px;background:linear-gradient(#6648a5 0.3%,#6648a5 99.7%)"></i></div></div>
<div class="hm" style="left:50px;top:245px;width:164px;height:163px"><div class="w" style="width:176px"><i style="left:0px;width:8px;background:linear-gradient(#4450a8 0.3%,#594ca6 69.6%,#5a4ca6 96.6%,#5d4ba6 99.7%)"></i><i style="left:8px;width:2px;background:linear-gradient(#4450a8 0.3%,#594ca6 69.6%,#5a4ca6 96.6%,#5d4ba6 99.7%)"></i><i style="left:10px;width:2px;background:linear-gradient(#4450a8 0.3%,#594ca6 69.6%,#5a4ca6 96.6%,#5d4ba6 99.7%)"></i><i style="left:12px;width:2px;background:linear-gradient(#4450a8 0.3%,#594ca6 69.6%,#5a4ca6 96.6%,#5d4ba6 99.7%)"></i><i style="left:14px;width:2px;background:linear-gradient(#4450a8 0.3%,#594ca6 69.6%,#5a4ca6 96.6%,#5d4ba6 99.7%)"></i><i style="left:16px;width:2px;background:linear-gradient(#4450a8 0.3%,#594ca6 69.6%,#5a4ca6 96.6%,#5d4ba6 99.7%)"></i><i style="left:18px;width:2px;background:linear-gradient(#4450a8 0.3%,#594ca6 69.6%,#5a4ca6 96.6%,#5d4ba6 99.7%)"></i><i style="left:20px;width:2px;background:linear-gradient(#4450a8 0.3%,#594ca6 69.6%,#5a4ca6 96.6%,#5d4ba6 99.7%)"></i><i style="left:22px;width:2px;background:linear-gradient(#4450a8 0.3%,#594ca6 69.6%,#5a4ca6 96.6%,#5d4ba6 99.7%)"></i><i style="left:24px;width:2px;background:linear-gradient(#4450a8 0.3%,#594ca6 69.6%,#5a4ca6 96.6%,#5d4ba6 99.7%)"></i><i style="left:26px;width:2px;background:linear-gradient(#4450a8 0.3%,#594ca6 70.2%,#5a4ca6 96.6%,#5d4ba6 99.7%)"></i><i style="left:28px;width:2px;background:linear-gradient(#4550a8 0.3%,#594ca6 70.2%,#5a4ca6 96.6%,#5d4ba6 99.7%)"></i><i style="left:30px;width:2px;background:linear-gradient(#4550a8 0.3%,#594ca6 70.2%,#5a4ca6 96.6%,#5d4ba6 99.7%)"></i><i style="left:32px;width:2px;background:linear-gradient(#4550a8 0.3%,#4b4fa7 29.1%,#594ca6 70.2%,#5a4ca6 96.6%,#5d4ba6 99.7%)"></i><i style="left:34px;width:2px;background:linear-gradient(#4650a8 0.3%,#4b4fa7 29.8%,#594ca6 70.2%,#5a4ca6 96.6%,#5d4ba6 99.7%)"></i><i style="left:36px;width:2px;background:linear-gradient(#4750a8 0.3%,#4b4fa7 29.8%,#5a4ca6 71.5%,#5a4ca6 96.6%,#5d4ba6 99.7%)"></i><i style="left:38px;width:2px;background:linear-gradient(#4750a8 0.3%,#4a4fa7 27.9%,#594ca6 69.6%,#5a4ca6 96.6%,#5d4ba6 99.7%)"></i><i style="left:40px;width:2px;background:linear-gradient(#484fa8 0.3%,#4b4fa7 28.5%,#594ca6 69.6%,#5a4ca6 96.6%,#5d4ba6 99.7%)"></i><i style="left:42px;width:2px;background:linear-gradient(#494fa8 0.3%,#4b4fa7 29.1%,#594ca6 69.6%,#5a4ca6 96.6%,#5d4ba6 99.7%)"></i><i style="left:44px;width:2px;background:linear-gradient(#494fa8 0.3%,#4b4fa7 29.8%,#594ca6 69.6%,#5a4ca6 96.6%,#5d4ba6 99.7%)"></i><i style="left:46px;width:2px;background:linear-gradient(#494fa8 0.3%,#4b4fa7 29.8%,#594ca6 69.6%,#5a4ca6 96.6%,#5d4ba6 99.7%)"></i><i style="left:48px;width:2px;background:linear-gradient(#494fa8 0.3%,#4b4fa7 29.1%,#594ca6 69.6%,#5a4ca6 96.6%,#5d4ba6 99.7%)"></i><i style="left:50px;width:2px;background:linear-gradient(#4750a8 0.3%,#4a4fa7 27.9%,#594ca6 69.6%,#5a4ca6 96.6%,#5d4ba6 99.7%)"></i><i style="left:52px;width:2px;background:linear-gradient(#4650a8 0.3%,#4b4fa7 29.8%,#594ca6 70.2%,#5a4ca6 96.6%,#5d4ba6 99.7%)"></i><i style="left:54px;width:2px;background:linear-gradient(#4550a8 0.3%,#4b4fa7 28.5%,#594ca6 70.2%,#5a4ca6 96.6%,#5d4ba6 99.7%)"></i><i style="left:56px;width:2px;background:linear-gradient(#4450a8 0.3%,#494fa8 26.7%,#594ca6 69.6%,#5a4ca6 96.6%,#5d4ba6 99.7%)"></i><i style="left:58px;width:2px;background:linear-gradient(#4450a8 0.3%,#4750a8 25.5%,#594ca6 69.6%,#5a4ca6 96.6%,#5d4ba6 99.7%)"></i><i style="left:60px;width:2px;background:linear-gradient(#4350a8 0.3%,#4550a8 24.2%,#584ca6 66.6%,#5a4ca6 96.6%,#5d4ba6 99.7%)"></i><i style="left:62px;width:2px;background:linear-gradient(#4350a8 0.3%,#4550a8 27.3%,#584ca6 65.3%,#5a4ca6 96.6%,#5d4ba6 99.7%)"></i><i style="left:64px;width:2px;background:linear-gradient(#4250a7 0.3%,#4550a8 29.8%,#584ca6 64.7%,#5a4ca6 96.6%,#5d4ba6 99.7%)"></i><i style="left:66px;width:2px;background:linear-gradient(#4250a7 0.3%,#4550a8 31.6%,#574ca6 63.5%,#5a4ca6 96.6%,#5d4ba6 99.7%)"></i><i style="left:68px;width:2px;background:linear-gradient(#4150a7 0.3%,#4450a8 32.2%,#514ea7 48.2%,#574da6 62.9%,#5a4ca6 96.6%,#5d4ba6 99.7%)"></i><i style="left:70px;width:2px;background:linear-gradient(#4150a7 0.3%,#4450a8 31.6%,#564da6 61.7%,#5a4ca6 96.6%,#5d4ba6 99.7%)"></i><i style="left:72px;width:2px;background:linear-gradient(#4050a7 0.3%,#4350a8 31.6%,#534da7 56.7%,#5a4ca6 96.6%,#5d4ba6 99.7%)"></i><i style="left:74px;width:2px;background:linear-gradient(#4050a7 0.3%,#4350a8 32.8%,#4f4ea7 53.1%,#5d4ba6 99.7%)"></i><i style="left:76px;width:2px;background:linear-gradient(#3f50a7 0.3%,#4350a7 34.7%,#5d4ba6 99.7%)"></i><i style="left:78px;width:2px;background:linear-gradient(#3f50a7 0.3%,#4250a7 36.5%,#504ea7 73.9%,#5e4ba6 99.7%)"></i><i style="left:80px;width:2px;background:linear-gradient(#3f50a7 0.3%,#4050a7 30.4%,#4b4fa7 69%,#5e4ba6 99.7%)"></i><i style="left:82px;width:2px;background:linear-gradient(#3e50a7 0.3%,#3f50a7 29.8%,#494fa8 69%,#5e4ba6 99.7%)"></i><i style="left:84px;width:2px;background:linear-gradient(#3e50a6 0.3%,#3f50a7 29.1%,#4650a8 69%,#4c4fa7 80.1%,#5e4ba6 99.7%)"></i><i style="left:86px;width:2px;background:linear-gradient(#3d50a6 0.3%,#3e50a6 29.1%,#4550a8 73.9%,#4c4fa7 83.7%,#5f4aa5 99.7%)"></i><i style="left:88px;width:2px;background:linear-gradient(#3d50a6 0.3%,#3d50a6 29.8%,#4550a8 77%,#4d4ea7 86.8%,#5e4ba6 99.7%)"></i><i style="left:90px;width:2px;background:linear-gradient(#3d50a6 0.3%,#3c50a6 31%,#4550a8 80.1%,#5e4ba6 99.7%)"></i><i style="left:92px;width:2px;background:linear-gradient(#3c50a6 0.3%,#3c50a6 34.7%,#4350a8 78.8%,#484fa8 86.2%,#5d4ba6 99.7%)"></i><i style="left:94px;width:2px;background:linear-gradient(#3c50a6 0.3%,#3c50a6 39.6%,#4250a7 78.8%,#4650a8 86.2%,#5c4ba6 99.7%)"></i><i style="left:96px;width:2px;background:linear-gradient(#3c51a7 0.3%,#3c54a9 24.8%,#4150a7 78.2%,#4550a8 87.4%,#5b4ca6 99.7%)"></i><i style="left:98px;width:2px;background:linear-gradient(#3c52a7 0.3%,#3c55aa 25.5%,#3c50a6 50.6%,#4050a7 77.6%,#4550a8 88.7%,#5a4ca6 99.7%)"></i><i style="left:100px;width:2px;background:linear-gradient(#3c52a8 0.3%,#3b57ac 26.1%,#3f50a7 77%,#4550a8 89.9%,#594ca6 99.7%)"></i><i style="left:102px;width:2px;background:linear-gradient(#3c53a8 0.3%,#3b58ad 26.7%,#3e50a6 76.4%,#4550a8 91.1%,#584ca6 99.7%)"></i><i style="left:104px;width:2px;background:linear-gradient(#3c56ab 0.3%,#3b59ae 27.9%,#3d50a6 75.8%,#4550a8 91.7%,#574da6 99.7%)"></i><i style="left:106px;width:2px;background:linear-gradient(#3b5baf 0.3%,#3b5aaf 30.4%,#3c50a6 75.2%,#4550a8 92.9%,#564da6 99.7%)"></i><i style="left:108px;width:2px;background:linear-gradient(#3a60b3 0.3%,#3b5db0 31%,#3c50a6 77.6%,#4550a8 93.6%,#554da6 99.7%)"></i><i style="left:110px;width:2px;background:linear-gradient(#3a6abb 0.3%,#3c50a6 79.4%,#4550a8 94.2%,#544da7 99.7%)"></i><i style="left:112px;width:2px;background:linear-gradient(#3b77c6 0.3%,#3a61b4 32.2%,#3c50a6 81.3%,#4550a8 94.8%,#534da7 99.7%)"></i><i style="left:114px;width:2px;background:linear-gradient(#3c87d3 0.3%,#3b7ac9 16.3%,#3a62b4 37.7%,#3c50a6 83.1%,#4550a8 95.4%,#524ea7 99.7%)"></i><i style="left:116px;width:2px;background:linear-gradient(#3b95dc 0.3%,#3c85d2 18.1%,#3a61b4 42.6%,#3c50a6 85.6%,#4550a8 96%,#514ea7 99.7%)"></i><i style="left:118px;width:2px;background:linear-gradient(#3a9ee1 0.3%,#3c87d3 21.8%,#3a61b4 46.9%,#3c50a6 86.8%,#4550a8 96.6%,#504ea7 99.7%)"></i><i style="left:120px;width:2px;background:linear-gradient(#39a5e5 0.3%,#3c88d4 23.6%,#3a64b6 49.4%,#3c50a6 88%,#4550a8 97.2%,#4f4ea7 99.7%)"></i><i style="left:122px;width:2px;background:linear-gradient(#39abe8 0.3%,#3c88d4 25.5%,#3a64b6 54.9%,#3c50a6 89.3%,#4550a8 97.9%,#4d4ea7 99.7%)"></i><i style="left:124px;width:2px;background:linear-gradient(#38b1eb 0.3%,#3b93da 19.3%,#3a63b5 60.4%,#3c50a6 90.5%,#4450a8 97.9%,#4c4fa7 99.7%)"></i><i style="left:126px;width:2px;background:linear-gradient(#38b5ed 0.3%,#3b94db 19.9%,#3b7bc9 47.5%,#3a62b4 66.6%,#3c50a6 91.1%,#4550a8 98.5%,#4b4fa7 99.7%)"></i><i style="left:128px;width:2px;background:linear-gradient(#38b8ee 0.3%,#38b4ec 4.6%,#3a9ce0 15.6%,#3b95dc 21.2%,#3c7fcd 49.4%,#3a62b4 69%,#3c50a6 92.3%,#4450a8 98.5%,#494fa8 99.7%)"></i><i style="left:130px;width:2px;background:linear-gradient(#38b8ee 0.3%,#38b4ec 5.8%,#3a98dd 21.2%,#3c82cf 48.8%,#3a63b5 70.9%,#3b5baf 83.7%,#3c50a6 92.9%,#4350a8 98.5%,#484fa8 99.7%)"></i><i style="left:132px;width:2px;background:linear-gradient(#38b9ee 0.3%,#38b4ec 6.4%,#3a9adf 21.8%,#3c83d0 48.2%,#3a63b5 73.9%,#3b5cb0 85.6%,#3c52a8 92.9%,#4750a8 99.7%)"></i><i style="left:134px;width:2px;background:linear-gradient(#38b9ee 0.3%,#38b4ec 7.7%,#3a9be0 23%,#3c88d4 43.3%,#3a62b4 78.2%,#3b57ac 91.1%,#3c50a6 94.8%,#4650a8 99.7%)"></i><i style="left:136px;width:2px;background:linear-gradient(#38b9ee 0.3%,#38b3ec 9.5%,#3a9de1 24.8%,#3c89d4 43.3%,#3b5eb1 86.8%,#3c50a6 95.4%,#4550a8 99.7%)"></i><i style="left:138px;width:2px;background:linear-gradient(#38b9ee 0.3%,#38b2eb 14.4%,#3c85d1 46.9%,#3b71c1 74.5%,#3a61b3 85%,#3b5cb0 90.5%,#3c51a7 95.4%,#4550a8 99.7%)"></i><i style="left:140px;width:2px;background:linear-gradient(#38baee 0.3%,#38b2eb 21.8%,#39a9e6 28.5%,#3c85d1 46.9%,#3b77c6 75.8%,#3a61b4 86.8%,#3b5cb0 91.7%,#3c50a6 96%,#4450a8 99.7%)"></i><i style="left:142px;width:2px;background:linear-gradient(#38baee 0.3%,#38b4ec 27.3%,#39ade8 31%,#3c8dd7 42.6%,#3c83d0 48.8%,#3c82cf 77%,#3b7ac9 80.7%,#3a63b5 88%,#3b5cb0 92.3%,#3c50a6 96.6%,#4450a8 99.7%)"></i><i style="left:144px;width:2px;background:linear-gradient(#38baef 0.3%,#38baef 23%,#38b6ed 30.4%,#38b2eb 32.8%,#3b90d9 42.6%,#3c85d2 49.4%,#3b8fd8 72.1%,#3b8ed8 77%,#3c82cf 81.9%,#3a62b4 89.9%,#3c50a6 97.2%,#4350a8 99.7%)"></i><i style="left:146px;width:2px;background:linear-gradient(#38baef 0.3%,#38bef0 19.9%,#38bbef 29.8%,#38b4ec 35.3%,#3a98dd 43.9%,#3b90d9 50%,#3a9bdf 76.4%,#3b94db 80.1%,#3c8ad5 83.1%,#3a62b4 91.7%,#3c51a7 97.9%,#4250a7 99.7%)"></i><i style="left:148px;width:2px;background:linear-gradient(#38bbef 0.3%,#38c0f1 16.3%,#38c0f1 28.5%,#38b6ed 38.3%,#39a5e5 45.7%,#3aa0e2 50.6%,#39abe8 76.4%,#39a3e4 80.1%,#3b8dd7 85.6%,#3a62b5 93.6%,#3c52a8 98.5%,#4050a7 99.7%)"></i><i style="left:150px;width:2px;background:linear-gradient(#38bbef 0.3%,#38c2f2 24.8%,#38b4ec 50%,#38b6ed 78.8%,#38afe9 81.9%,#3c8bd5 89.3%,#3a65b6 94.8%,#3e50a7 99.7%)"></i><i style="left:152px;width:2px;background:linear-gradient(#38baef 0.3%,#38c2f2 25.5%,#38bdf0 79.4%,#38b6ed 83.7%,#39ade8 86.2%,#3c8cd7 91.7%,#3a66b8 96%,#3b5aaf 98.5%,#3d50a6 99.7%)"></i><i style="left:154px;width:2px;background:linear-gradient(#38baef 0.3%,#38c2f2 25.5%,#3ac3ed 72.1%,#38c0f1 82.5%,#38b7ed 87.4%,#39ace8 89.9%,#3b8ed7 93.6%,#3a65b7 97.2%,#3b59ae 99.1%,#3c51a7 99.7%)"></i><i style="left:156px;width:2px;background:linear-gradient(#38baef 0.3%,#38c2f2 24.8%,#3cc3e9 47.5%,#3dc3e6 73.9%,#3cc3e8 79.4%,#39c2f0 85.6%,#38b9ee 90.5%,#38afea 92.3%,#3b8dd7 95.4%,#3a62b4 98.5%,#3c54a9 99.7%)"></i><i style="left:158px;width:2px;background:linear-gradient(#38baef 0.3%,#38c2f2 24.8%,#3ec4e4 46.3%,#42c3da 73.9%,#41c4dd 78.8%,#39c2ef 89.9%,#38bbef 92.9%,#38afe9 94.8%,#3b8cd6 97.2%,#3a62b4 99.1%,#3b58ad 99.7%)"></i><i style="left:160px;width:2px;background:linear-gradient(#38baef 0.3%,#39c2f0 27.9%,#3fc4e2 40.2%,#47c2cb 47.5%,#49c2c4 51.2%,#4dc0b7 64.7%,#4ec0b3 73.9%,#4cc1ba 79.4%,#3fc4e1 88%,#39c2ef 93.6%,#38bdf0 95.4%,#38b3eb 96.6%,#39a7e6 97.2%,#3c86d2 98.5%,#3b6ebf 99.1%,#3b5cb0 99.7%)"></i><i style="left:162px;width:2px;background:linear-gradient(#38b9ee 0.3%,#38c2f2 24.8%,#3bc3eb 31.6%,#40c4e1 37.7%,#50bfab 45.7%,#53bd98 50%,#56ba87 62.3%,#57b980 73.9%,#56ba84 77.6%,#55bb90 80.7%,#4ec0b4 85.6%,#41c4dd 90.5%,#39c2f0 95.4%,#38b5ec 97.2%,#3b8ed8 98.5%,#3b5db1 99.7%)"></i><i style="left:164px;width:2px;background:linear-gradient(#38b1ea 0.3%,#38b5ec 15.6%,#38bef0 29.1%,#3ac3ed 34.7%,#3ec4e4 39%,#46c3ce 43.3%,#4dc0b6 46.9%,#50bfa8 50.6%,#53bd9b 62.3%,#54bc94 73.9%,#54bc97 77%,#51bea1 80.1%,#4ebfaf 82.5%,#45c3d0 86.8%,#3fc3e2 89.9%,#3ac3ed 92.9%,#38bcef 95.4%,#39afe9 96.6%,#3b94db 97.9%,#3c82cf 98.5%,#3b6cbc 99.1%,#3b5baf 99.7%)"></i><i style="left:166px;width:2px;background:linear-gradient(#3b8bd5 0.3%,#3b90d9 26.1%,#39b2eb 42.6%,#3ab9ea 48.8%,#3abaea 81.3%,#39b4ec 88%,#39a4e3 92.9%,#3b7dcb 96.6%,#3c54aa 99.7%)"></i><i style="left:168px;width:8px;background:linear-gradient(#3a67b8 0.3%,#3a68b9 29.1%,#3b76c5 50%,#3b76c5 83.7%,#3b72c2 91.1%,#3e50a6 99.7%)"></i></div></div>
<div class="hm" style="left:224px;top:245px;width:164px;height:163px"><div class="w" style="width:176px"><i style="left:0px;width:8px;background:linear-gradient(#524ea7 0.3%,#524ea7 96%,#574ca6 99.7%)"></i><i style="left:8px;width:2px;background:linear-gradient(#524ea7 0.3%,#524ea7 96%,#574ca6 99.7%)"></i><i style="left:10px;width:2px;background:linear-gradient(#524ea7 0.3%,#524ea7 96%,#574ca6 99.7%)"></i><i style="left:12px;width:2px;background:linear-gradient(#524ea7 0.3%,#524da7 96%,#584ca6 99.7%)"></i><i style="left:14px;width:2px;background:linear-gradient(#534da7 0.3%,#534da7 96%,#594ca6 99.7%)"></i><i style="left:16px;width:2px;background:linear-gradient(#554da7 0.3%,#554da7 96%,#5a4ca6 99.7%)"></i><i style="left:18px;width:2px;background:linear-gradient(#574da6 0.3%,#574da6 96%,#5c4ba6 99.7%)"></i><i style="left:20px;width:2px;background:linear-gradient(#594ca6 0.3%,#594ca6 96%,#5d4ba6 99.7%)"></i><i style="left:22px;width:2px;background:linear-gradient(#5a4ca6 0.3%,#5a4ca6 96%,#5f4aa5 99.7%)"></i><i style="left:24px;width:2px;background:linear-gradient(#5c4ba6 0.3%,#5c4ba6 96%,#604aa5 99.7%)"></i><i style="left:26px;width:2px;background:linear-gradient(#5d4ba6 0.3%,#5d4ba6 96%,#614aa5 99.7%)"></i><i style="left:28px;width:2px;background:linear-gradient(#5f4aa5 0.3%,#5f4aa5 96%,#6349a5 99.7%)"></i><i style="left:30px;width:2px;background:linear-gradient(#604aa5 0.3%,#604aa5 96%,#6449a5 99.7%)"></i><i style="left:32px;width:2px;background:linear-gradient(#6249a5 0.3%,#6249a5 96%,#6548a5 99.7%)"></i><i style="left:34px;width:2px;background:linear-gradient(#6349a5 0.3%,#6349a5 96%,#6748a5 99.7%)"></i><i style="left:36px;width:2px;background:linear-gradient(#6548a5 0.3%,#6548a5 96%,#6847a4 99.7%)"></i><i style="left:38px;width:2px;background:linear-gradient(#6648a5 0.3%,#6648a5 96%,#6947a4 99.7%)"></i><i style="left:40px;width:2px;background:linear-gradient(#6847a4 0.3%,#6a47a4 99.7%)"></i><i style="left:42px;width:2px;background:linear-gradient(#6947a4 0.3%,#6b46a4 99.7%)"></i><i style="left:44px;width:2px;background:linear-gradient(#6b46a4 0.3%,#6c46a4 99.7%)"></i><i style="left:46px;width:2px;background:linear-gradient(#6c46a4 0.3%,#6d45a4 99.7%)"></i><i style="left:48px;width:2px;background:linear-gradient(#6e45a4 0.3%,#6f44a4 99.7%)"></i><i style="left:50px;width:2px;background:linear-gradient(#6f44a4 0.3%,#7043a4 99.7%)"></i><i style="left:52px;width:2px;background:linear-gradient(#7143a3 0.3%,#7143a3 99.7%)"></i><i style="left:54px;width:2px;background:linear-gradient(#7242a3 0.3%,#7242a3 99.7%)"></i><i style="left:56px;width:2px;background:linear-gradient(#7342a3 0.3%,#7342a3 99.7%)"></i><i style="left:58px;width:2px;background:linear-gradient(#7342a3 0.3%,#7342a3 99.7%)"></i><i style="left:60px;width:2px;background:linear-gradient(#7342a3 0.3%,#7342a3 99.7%)"></i><i style="left:62px;width:2px;background:linear-gradient(#7342a3 0.3%,#7342a3 99.7%)"></i><i style="left:64px;width:2px;background:linear-gradient(#7342a3 0.3%,#7342a3 99.7%)"></i><i style="left:66px;width:2px;background:linear-gradient(#7342a3 0.3%,#7342a3 99.7%)"></i><i style="left:68px;width:2px;background:linear-gradient(#7342a3 0.3%,#7342a3 99.7%)"></i><i style="left:70px;width:2px;background:linear-gradient(#7242a3 0.3%,#7242a3 99.7%)"></i><i style="left:72px;width:2px;background:linear-gradient(#7043a4 0.3%,#7242a3 99.7%)"></i><i style="left:74px;width:2px;background:linear-gradient(#6d45a4 0.3%,#7143a3 99.7%)"></i><i style="left:76px;width:2px;background:linear-gradient(#6b46a4 0.3%,#7043a4 99.7%)"></i><i style="left:78px;width:2px;background:linear-gradient(#6847a4 0.3%,#6f44a4 99.7%)"></i><i style="left:80px;width:2px;background:linear-gradient(#6548a5 0.3%,#6e45a4 99.7%)"></i><i style="left:82px;width:2px;background:linear-gradient(#6249a5 0.3%,#6249a5 26.1%,#6d45a4 99.7%)"></i><i style="left:84px;width:2px;background:linear-gradient(#5d4ba6 0.3%,#5e4ba6 24.8%,#6c46a4 99.7%)"></i><i style="left:86px;width:2px;background:linear-gradient(#544da7 0.3%,#564da6 23.6%,#604aa5 48.2%,#6b46a4 99.7%)"></i><i style="left:88px;width:2px;background:linear-gradient(#494fa8 0.3%,#4b4fa7 24.2%,#5c4ba6 50%,#6a47a4 99.7%)"></i><i style="left:90px;width:2px;background:linear-gradient(#4250a7 0.3%,#4450a8 27.9%,#554da7 53.1%,#6947a4 99.7%)"></i><i style="left:92px;width:2px;background:linear-gradient(#3d50a6 0.3%,#4450a8 41.4%,#6748a5 99.7%)"></i><i style="left:94px;width:2px;background:linear-gradient(#3c54a9 0.3%,#3d50a7 29.1%,#4450a8 54.3%,#6648a5 99.7%)"></i><i style="left:96px;width:2px;background:linear-gradient(#3b59ad 0.3%,#3c51a7 37.7%,#4450a8 66%,#6548a5 99.7%)"></i><i style="left:98px;width:2px;background:linear-gradient(#3b5db1 0.3%,#3b5baf 24.8%,#3c51a7 49.4%,#4450a8 73.3%,#6449a5 99.7%)"></i><i style="left:100px;width:2px;background:linear-gradient(#3a62b4 0.3%,#3b5db1 29.1%,#3f50a7 67.2%,#4750a8 82.5%,#554da6 92.9%,#6349a5 99.7%)"></i><i style="left:102px;width:2px;background:linear-gradient(#3b71c1 0.3%,#3a61b3 28.5%,#3d50a6 69.6%,#4750a8 86.8%,#524da7 93.6%,#6249a5 99.7%)"></i><i style="left:104px;width:2px;background:linear-gradient(#3b8ad5 0.3%,#3a62b4 39%,#3d50a6 74.5%,#4650a8 89.9%,#614aa5 99.7%)"></i><i style="left:106px;width:2px;background:linear-gradient(#39abe8 0.3%,#3b88d4 23.6%,#3a65b7 44.5%,#3d50a6 79.4%,#4650a8 91.7%,#604aa5 99.7%)"></i><i style="left:108px;width:2px;background:linear-gradient(#38bef0 0.3%,#38b8ee 12%,#39abe8 21.8%,#3b79c8 42%,#3a61b3 56.1%,#3c51a7 81.3%,#3f50a7 87.4%,#4750a8 93.6%,#5f4aa5 99.7%)"></i><i style="left:110px;width:2px;background:linear-gradient(#3bc3ec 0.3%,#38bff1 18.7%,#38b7ed 28.5%,#3b8ed7 43.3%,#3a65b6 59.2%,#3c50a6 85.6%,#4650a8 94.2%,#5e4ba6 99.7%)"></i><i style="left:112px;width:2px;background:linear-gradient(#42c3d9 0.3%,#3ec4e3 7.1%,#39c2ef 26.1%,#38bbef 35.3%,#39ade8 42.6%,#3a9bdf 48.2%,#3b79c8 56.7%,#3a64b6 64.1%,#3c50a6 88.7%,#4650a8 94.8%,#5c4ba6 99.7%)"></i><i style="left:114px;width:2px;background:linear-gradient(#56bb85 0.3%,#53bc96 5.2%,#4bc1bd 13.2%,#46c2ce 17.5%,#3ec4e4 26.1%,#38bff1 41.4%,#38b7ed 48.2%,#38b1eb 50%,#3b7ac9 61%,#3a64b5 68.4%,#3c50a6 89.9%,#4450a8 94.8%,#5b4ca6 99.7%)"></i><i style="left:116px;width:2px;background:linear-gradient(#5db847 0.3%,#5db849 5.2%,#5ab860 15%,#54bc94 24.2%,#45c3d0 32.2%,#3ec4e3 37.1%,#39c2f0 46.3%,#38bff1 49.4%,#38b5ec 53.7%,#3b78c7 65.3%,#3a64b5 71.5%,#3d50a6 91.1%,#4450a8 95.4%,#5a4ca6 99.7%)"></i><i style="left:118px;width:2px;background:linear-gradient(#66b945 0.3%,#5db84a 24.2%,#5ab861 29.1%,#4ec0b3 36.5%,#44c3d4 40.2%,#3fc4e3 43.3%,#39c2f0 50.6%,#38c0f1 52.5%,#38b0ea 58%,#3b79c8 68.4%,#3a64b6 73.9%,#3b59ae 86.8%,#3c50a6 91.7%,#4550a8 96%,#584ca6 99.7%)"></i><i style="left:120px;width:2px;background:linear-gradient(#6fbb43 0.3%,#5db849 32.2%,#5ab85f 35.9%,#4bc1bd 43.3%,#43c3d5 45.7%,#3fc4e3 48.2%,#39c2f0 53.7%,#38b6ed 59.2%,#38aee9 61%,#3b77c6 71.5%,#3a66b7 76.4%,#3b5baf 87.4%,#3c50a6 92.3%,#4450a8 96%,#564da6 99.7%)"></i><i style="left:122px;width:2px;background:linear-gradient(#79be41 0.3%,#5db849 39%,#5ab863 42.6%,#53bd99 46.3%,#46c3cf 50%,#3fc4e3 52.5%,#39c2f0 56.7%,#38bff1 58.6%,#38b0ea 63.5%,#3b77c7 73.9%,#3b6dbe 77%,#3a63b5 80.7%,#3b5cb0 88%,#3c50a6 92.9%,#4550a8 96.6%,#544da7 99.7%)"></i><i style="left:124px;width:2px;background:linear-gradient(#83c13f 0.3%,#74bd42 23%,#5db848 45.1%,#5ab862 48.8%,#54bc95 51.8%,#47c2cc 54.9%,#42c3d8 56.1%,#3ec4e4 57.4%,#3ac2ef 60.4%,#38bff1 62.3%,#38afea 66.6%,#3c88d3 73.3%,#3b72c2 78.2%,#3a64b5 83.1%,#3b5cb0 89.3%,#3c50a6 93.6%,#4650a8 97.2%,#524ea7 99.7%)"></i><i style="left:126px;width:2px;background:linear-gradient(#8cc43e 0.3%,#7cbf41 24.2%,#5db849 51.2%,#5bb85b 53.7%,#5ab865 54.3%,#54bc93 56.7%,#46c2ce 59.8%,#3ec3e6 62.3%,#38bff0 66%,#39aee9 70.2%,#3b91d9 74.5%,#3b71c1 81.3%,#3a63b5 85.6%,#3b5cb0 89.9%,#3c50a6 94.2%,#4650a8 97.9%,#504ea7 99.7%)"></i><i style="left:128px;width:2px;background:linear-gradient(#95c83c 0.3%,#87c23f 23.6%,#5db849 55.5%,#5bb857 57.4%,#59b86b 58.6%,#4ac1c1 62.9%,#44c3d4 64.1%,#3ec3e5 66%,#38bff0 69.6%,#38afe9 73.3%,#3a98dd 76.4%,#3c86d3 79.4%,#3a65b7 86.8%,#3c50a6 94.8%,#4750a8 98.5%,#4d4ea7 99.7%)"></i><i style="left:130px;width:2px;background:linear-gradient(#9fcc3a 0.3%,#90c63d 24.8%,#5db849 58.6%,#5bb858 60.4%,#59b86c 61.7%,#4dc1b8 65.3%,#43c3d8 67.2%,#3ec4e3 68.4%,#38c1f0 72.1%,#39ade9 76.4%,#3b8ed8 80.7%,#3a63b5 88.7%,#3c51a7 94.8%,#4650a8 99.1%,#4b4fa7 99.7%)"></i><i style="left:132px;width:2px;background:linear-gradient(#aad037 0.3%,#9aca3b 24.8%,#60b846 58%,#5cb84a 61.7%,#5bb855 62.9%,#59b86b 64.1%,#4cc1bc 67.8%,#42c3db 69.6%,#3ec3e5 70.9%,#38c0f1 74.5%,#38b4ec 77.6%,#39ace8 78.8%,#3a98de 81.3%,#3a62b4 89.9%,#3c50a6 95.4%,#4450a8 99.1%,#494fa8 99.7%)"></i><i style="left:134px;width:2px;background:linear-gradient(#bad632 0.3%,#a4cd38 25.5%,#69ba44 54.9%,#5cb84a 64.1%,#5bb857 65.3%,#59b86e 66.6%,#4dc1b9 69.6%,#42c3db 71.5%,#3fc4e2 72.1%,#38c2f1 75.8%,#38b2eb 80.1%,#3c88d3 85.6%,#3a63b5 90.5%,#3d50a6 96%,#4750a8 99.7%)"></i><i style="left:136px;width:2px;background:linear-gradient(#cddd2c 0.3%,#add136 26.1%,#69ba44 57.4%,#5db849 66%,#5cb84b 66.6%,#5bb85a 67.8%,#56ba83 69.6%,#4dc0b6 71.5%,#45c3d2 72.7%,#41c3dc 73.3%,#3fc4e3 73.9%,#39c2f1 77.6%,#38b2eb 81.9%,#3c8ad5 86.8%,#3a64b6 91.1%,#3c50a6 96%,#4550a8 99.7%)"></i><i style="left:138px;width:2px;background:linear-gradient(#dee325 0.3%,#bdd731 24.2%,#6cba44 58.6%,#5db849 68.4%,#5bb853 69.6%,#59b869 70.9%,#4bc1c0 73.9%,#42c3d9 75.2%,#3ec3e5 76.4%,#39c2f0 79.4%,#38b6ed 83.1%,#38aee9 84.4%,#3c8cd6 88%,#3b70c0 90.5%,#3a61b3 92.3%,#3d50a6 96.6%,#4350a8 99.7%)"></i><i style="left:140px;width:2px;background:linear-gradient(#ede820 0.3%,#cadc2d 24.8%,#6bba44 61.7%,#5db849 70.9%,#5cb84b 71.5%,#5bb85a 72.7%,#59b867 73.3%,#4cc1ba 76.4%,#44c3d3 77.6%,#3fc4e2 78.8%,#38c0f1 82.5%,#38afea 86.2%,#3c8ad5 89.3%,#3b71c2 91.1%,#3a65b7 92.3%,#3c51a7 96.6%,#4250a7 99.7%)"></i><i style="left:142px;width:2px;background:linear-gradient(#f7e81d 0.3%,#e8e721 13.8%,#d5e029 26.1%,#b1d335 39%,#6cba44 64.7%,#5db849 73.9%,#5ab85d 75.8%,#59b86b 76.4%,#4bc1bf 79.4%,#43c3d7 80.7%,#3ec3e5 81.9%,#38c0f1 85%,#38b3ec 87.4%,#3b8fd8 89.9%,#3b73c3 91.7%,#3a65b7 92.9%,#3c51a7 97.2%,#4150a7 99.7%)"></i><i style="left:144px;width:2px;background:linear-gradient(#fcdf1a 0.3%,#f4e91e 13.2%,#e2e523 25.5%,#b2d335 43.3%,#6cba44 67.8%,#5db849 76.4%,#5cb84b 77%,#5ab85e 78.2%,#59b86d 78.8%,#51bea4 80.7%,#44c3d3 82.5%,#3ec4e4 83.7%,#39c2f0 86.2%,#38b3eb 88.7%,#3c89d4 91.1%,#3b75c5 92.3%,#3a65b7 93.6%,#3c53a8 97.2%,#3c50a6 99.1%,#4050a7 99.7%)"></i><i style="left:146px;width:2px;background:linear-gradient(#fdcc17 0.3%,#fbe21b 11.3%,#f3e91f 21.2%,#e9e721 27.9%,#ccdd2c 39%,#6dbb43 70.2%,#5cb849 78.8%,#5bb85b 80.1%,#59b86a 80.7%,#4dc0b7 83.1%,#43c3d7 84.4%,#40c4e1 85%,#39c2f0 87.4%,#38b7ed 89.3%,#3c8cd6 91.7%,#3a65b7 94.2%,#3c55aa 97.2%,#3f50a7 99.7%)"></i><i style="left:148px;width:2px;background:linear-gradient(#fbb719 0.3%,#fdc917 8.3%,#fce11b 18.1%,#f3e91f 27.9%,#d2df2b 42%,#98c93b 59.8%,#6cbb44 73.3%,#5db849 80.7%,#5bb85a 81.9%,#59b86a 82.5%,#50bfac 84.4%,#45c3d2 85.6%,#40c4df 86.2%,#3ac3ed 88%,#38c1f1 88.7%,#38b2eb 90.5%,#3b8ed8 92.3%,#3a65b6 94.8%,#3b57ac 97.2%,#3c55aa 99.1%,#3e50a6 99.7%)"></i><i style="left:150px;width:2px;background:linear-gradient(#f9a51c 0.3%,#faad1b 5.2%,#fdc817 15.6%,#fce21b 25.5%,#f3e91f 33.4%,#d2df2a 46.9%,#99c93b 62.9%,#6cbb44 75.8%,#5db849 82.5%,#5bb859 83.7%,#59b86c 84.4%,#53bd9d 85.6%,#46c2cd 86.8%,#41c3dd 87.4%,#3ec3e5 88%,#38c0f1 89.9%,#38b5ec 91.1%,#3c85d2 93.6%,#3a63b5 95.4%,#3b5aae 97.2%,#3b57ac 99.1%,#3c50a6 99.7%)"></i><i style="left:152px;width:2px;background:linear-gradient(#f89a1d 0.3%,#faac1b 12.6%,#fdc817 23%,#fce21b 31.6%,#f4e91f 39%,#e8e722 44.5%,#d2df2a 51.8%,#9ac93b 66%,#6cba44 78.2%,#5db848 84.4%,#5cb84d 85%,#5bb858 85.6%,#59b86a 86.2%,#4bc1be 88%,#44c3d5 88.7%,#3ec4e4 89.3%,#39c2ef 90.5%,#38bff1 91.1%,#38b1ea 92.3%,#3b96dc 93.6%,#3a62b5 96%,#3b5db1 97.2%,#3b5db0 98.5%,#3b5aae 99.1%,#3c51a7 99.7%)"></i><i style="left:154px;width:2px;background:linear-gradient(#f7951e 0.3%,#f89c1d 10.1%,#f9a81b 18.7%,#fcbf17 26.7%,#fddc19 34.7%,#f7e81d 42%,#e9e721 48.8%,#d2df2a 55.5%,#7fc040 75.2%,#69ba44 81.3%,#5db849 86.8%,#5ab863 88%,#4ac1c2 89.9%,#42c3d9 90.5%,#3dc3e7 91.1%,#38bff0 92.3%,#39aee9 93.6%,#3b8ed7 94.8%,#3b6ebf 96%,#3a64b6 96.6%,#3b5cb0 99.1%,#3c52a8 99.7%)"></i><i style="left:156px;width:2px;background:linear-gradient(#f7951e 0.3%,#f89a1d 13.8%,#f9a41c 23%,#faad1b 26.7%,#fdc617 33.4%,#fce01a 40.8%,#f7e91d 46.3%,#eee820 50.6%,#d3e02a 58%,#83c13f 76.4%,#69ba44 83.7%,#5db849 88.7%,#5bb854 89.3%,#59b86b 89.9%,#4dc0b5 91.1%,#44c3d5 91.7%,#3dc3e6 92.3%,#3ac2ee 92.9%,#38bef0 93.6%,#38b6ed 94.2%,#3b92da 95.4%,#3b71c1 96.6%,#3a69ba 97.2%,#3b5eb1 99.1%,#3c53a9 99.7%)"></i><i style="left:158px;width:2px;background:linear-gradient(#f8991d 0.3%,#f89f1d 18.7%,#f9a51c 25.5%,#fdc316 34.7%,#fde01a 42.6%,#f6ea1e 49.4%,#f0e91f 51.8%,#d9e227 58.6%,#8dc53e 75.8%,#5db848 89.9%,#5cb851 90.5%,#59b869 91.1%,#4cc1bb 92.3%,#42c3db 92.9%,#3cc3e9 93.6%,#39c1f0 94.2%,#38b8ee 94.8%,#3c83d0 96.6%,#3c54a9 99.7%)"></i><i style="left:160px;width:2px;background:linear-gradient(#fbb21a 0.3%,#fbb419 23.6%,#fdca17 32.2%,#fbe21b 40.8%,#f2e91f 48.8%,#dfe425 55.5%,#b2d334 66%,#89c33e 76.4%,#5db847 90.5%,#5db849 91.1%,#5bb854 91.7%,#58b973 92.3%,#52be9f 92.9%,#47c2cc 93.6%,#3ec3e5 94.2%,#39c2ef 94.8%,#38baef 95.4%,#3b95dc 96.6%,#3b7cca 97.9%,#3c54a9 99.7%)"></i><i style="left:162px;width:2px;background:linear-gradient(#f2e41e 0.3%,#f9e01c 24.2%,#f0e61f 34%,#d4e029 46.9%,#a2cd39 62.9%,#71bc43 78.8%,#62b945 86.2%,#5db849 90.5%,#5bb851 91.7%,#5ab861 92.3%,#58b876 92.9%,#49c2c4 94.2%,#3fc4e3 94.8%,#3ac2ee 95.4%,#38baef 96%,#3c84d1 97.9%,#3b70c0 98.5%,#3c53a9 99.7%)"></i><i style="left:164px;width:2px;background:linear-gradient(#9aca3a 0.3%,#aad036 25.5%,#7dc041 50%,#60b848 76.4%,#5bb85f 81.3%,#55bc82 85.6%,#4fbe9f 88%,#4cbeae 90.5%,#49c0bf 92.3%,#45c2d0 93.6%,#3cc3e9 94.8%,#39c1ef 95.4%,#38baef 96%,#39abe8 96.6%,#3c7fcd 97.9%,#3a69ba 98.5%,#3c51a7 99.7%)"></i><i style="left:166px;width:2px;background:linear-gradient(#52be8c 0.3%,#54bd89 24.8%,#4dbe98 50%,#48bdb4 62.3%,#3cbde6 77%,#3cbce7 78.2%,#39b1e9 85.6%,#39a7e5 94.2%,#3aa3e3 94.8%,#3b93da 96%,#3b7ac8 97.2%,#3a69ba 97.9%,#3e50a6 99.7%)"></i><i style="left:168px;width:8px;background:linear-gradient(#3a8fd6 0.3%,#3a8bd4 51.2%,#3b6ebf 93.6%,#3a65b7 96%,#3c51a7 99.1%,#4050a7 99.7%)"></i></div></div>
<div class="hm" style="left:397px;top:245px;width:163px;height:163px"><div class="w" style="width:175px"><i style="left:0px;width:8px;background:linear-gradient(#7242a3 0.3%,#7242a3 99.7%)"></i><i style="left:8px;width:2px;background:linear-gradient(#6b46a4 0.3%,#6c46a4 99.7%)"></i><i style="left:10px;width:2px;background:linear-gradient(#5d4ba6 0.3%,#604aa5 99.7%)"></i><i style="left:12px;width:2px;background:linear-gradient(#544da7 0.3%,#544da7 96%,#594ca6 99.7%)"></i><i style="left:14px;width:2px;background:linear-gradient(#534da7 0.3%,#534da7 96%,#584ca6 99.7%)"></i><i style="left:16px;width:2px;background:linear-gradient(#574da6 0.3%,#574da6 96%,#5b4ca6 99.7%)"></i><i style="left:18px;width:2px;background:linear-gradient(#5d4ba6 0.3%,#5f4aa5 99.7%)"></i><i style="left:20px;width:2px;background:linear-gradient(#6249a5 0.3%,#6349a5 99.7%)"></i><i style="left:22px;width:2px;background:linear-gradient(#6548a5 0.3%,#6548a5 99.7%)"></i><i style="left:24px;width:2px;background:linear-gradient(#6648a5 0.3%,#6648a5 99.7%)"></i><i style="left:26px;width:2px;background:linear-gradient(#6748a5 0.3%,#6748a5 99.7%)"></i><i style="left:28px;width:2px;background:linear-gradient(#6748a5 0.3%,#6748a5 99.7%)"></i><i style="left:30px;width:2px;background:linear-gradient(#6748a5 0.3%,#6748a5 99.7%)"></i><i style="left:32px;width:2px;background:linear-gradient(#6748a5 0.3%,#6748a5 99.7%)"></i><i style="left:34px;width:2px;background:linear-gradient(#6847a4 0.3%,#6847a4 99.7%)"></i><i style="left:36px;width:2px;background:linear-gradient(#6847a4 0.3%,#6847a4 99.7%)"></i><i style="left:38px;width:2px;background:linear-gradient(#6847a4 0.3%,#6847a4 99.7%)"></i><i style="left:40px;width:2px;background:linear-gradient(#6847a4 0.3%,#6847a4 99.7%)"></i><i style="left:42px;width:2px;background:linear-gradient(#6947a4 0.3%,#6947a4 99.7%)"></i><i style="left:44px;width:2px;background:linear-gradient(#6947a4 0.3%,#6947a4 99.7%)"></i><i style="left:46px;width:2px;background:linear-gradient(#6947a4 0.3%,#6947a4 99.7%)"></i><i style="left:48px;width:2px;background:linear-gradient(#6947a4 0.3%,#6947a4 99.7%)"></i><i style="left:50px;width:2px;background:linear-gradient(#6a47a4 0.3%,#6a47a4 99.7%)"></i><i style="left:52px;width:2px;background:linear-gradient(#6a47a4 0.3%,#6a47a4 99.7%)"></i><i style="left:54px;width:2px;background:linear-gradient(#6a47a4 0.3%,#6a47a4 99.7%)"></i><i style="left:56px;width:2px;background:linear-gradient(#6a47a4 0.3%,#6a47a4 99.7%)"></i><i style="left:58px;width:2px;background:linear-gradient(#6b46a4 0.3%,#6b46a4 99.7%)"></i><i style="left:60px;width:2px;background:linear-gradient(#6b46a4 0.3%,#6b46a4 99.7%)"></i><i style="left:62px;width:2px;background:linear-gradient(#6b46a4 0.3%,#6b46a4 99.7%)"></i><i style="left:64px;width:2px;background:linear-gradient(#6b46a4 0.3%,#6b46a4 99.7%)"></i><i style="left:66px;width:2px;background:linear-gradient(#6b46a4 0.3%,#6b46a4 99.7%)"></i><i style="left:68px;width:2px;background:linear-gradient(#6c46a4 0.3%,#6c46a4 99.7%)"></i><i style="left:70px;width:2px;background:linear-gradient(#6b46a4 0.3%,#6c46a4 99.7%)"></i><i style="left:72px;width:2px;background:linear-gradient(#6847a4 0.3%,#6b46a4 99.7%)"></i><i style="left:74px;width:2px;background:linear-gradient(#6449a5 0.3%,#6b46a4 99.7%)"></i><i style="left:76px;width:2px;background:linear-gradient(#5f4aa5 0.3%,#6548a5 80.1%,#6a47a4 99.7%)"></i><i style="left:78px;width:2px;background:linear-gradient(#5a4ca6 0.3%,#5a4ca6 24.2%,#6449a5 82.5%,#6a47a4 99.7%)"></i><i style="left:80px;width:2px;background:linear-gradient(#514ea7 0.3%,#524ea7 24.2%,#5b4ca6 45.1%,#614aa5 82.5%,#6947a4 99.7%)"></i><i style="left:82px;width:2px;background:linear-gradient(#484fa8 0.3%,#494fa8 24.8%,#574da6 49.4%,#604aa5 83.7%,#6847a4 99.7%)"></i><i style="left:84px;width:2px;background:linear-gradient(#4250a7 0.3%,#4450a8 31%,#504ea7 51.2%,#614aa5 92.9%,#6748a5 99.7%)"></i><i style="left:86px;width:2px;background:linear-gradient(#3e50a6 0.3%,#3e50a7 24.2%,#4450a8 43.3%,#544da7 75.2%,#6748a5 99.7%)"></i><i style="left:88px;width:2px;background:linear-gradient(#3c53a9 0.3%,#3c51a7 27.9%,#4a4fa7 73.9%,#6648a5 99.7%)"></i><i style="left:90px;width:2px;background:linear-gradient(#3b5aae 0.3%,#3b59ae 23.6%,#3d50a6 43.3%,#4450a8 75.8%,#584ca6 88%,#6548a5 99.7%)"></i><i style="left:92px;width:2px;background:linear-gradient(#3a5fb2 0.3%,#3b5fb2 24.2%,#3c51a7 48.8%,#4050a7 75.8%,#4550a8 81.9%,#544da7 88.7%,#6449a5 99.7%)"></i><i style="left:94px;width:2px;background:linear-gradient(#3b6dbe 0.3%,#3b6cbd 22.4%,#3a61b3 31.6%,#3b56ab 50%,#3c51a7 62.3%,#3d50a6 77%,#4550a8 85%,#6449a5 99.7%)"></i><i style="left:96px;width:2px;background:linear-gradient(#3b8ad5 0.3%,#3b89d4 23%,#3c81ce 27.3%,#3a67b9 35.9%,#3a61b3 40.2%,#3c55ab 64.1%,#3b57ac 74.5%,#3c51a7 79.4%,#4550a8 87.4%,#6349a5 99.7%)"></i><i style="left:98px;width:2px;background:linear-gradient(#39aee9 0.3%,#39ade8 23.6%,#39a5e4 27.3%,#3b7ac9 38.3%,#3a67b8 45.7%,#3a61b3 50.6%,#3b5baf 63.5%,#3b5db0 75.2%,#3c51a7 82.5%,#4750a8 90.5%,#5a4ca6 96%,#6249a5 99.7%)"></i><i style="left:100px;width:2px;background:linear-gradient(#3bc3ec 0.3%,#3bc3ec 22.4%,#38bdef 29.8%,#39a7e6 36.5%,#3b7dcc 47.5%,#3b6dbe 53.7%,#3a61b3 62.3%,#3a63b5 74.5%,#3c52a7 84.4%,#4650a8 92.3%,#5a4ca6 96.6%,#614aa5 99.7%)"></i><i style="left:102px;width:2px;background:linear-gradient(#51bd9f 0.3%,#50bda1 22.4%,#4dbfae 25.5%,#48c2c7 28.5%,#3dc3e7 33.4%,#38bcef 40.8%,#39a7e5 47.5%,#3b87d2 55.5%,#3b6fbf 63.5%,#3b6dbe 66%,#3b73c3 73.9%,#3a61b3 78.8%,#3c51a7 86.8%,#4650a8 93.6%,#584ca6 96.6%,#604aa5 99.7%)"></i><i style="left:104px;width:2px;background:linear-gradient(#5db849 0.3%,#5db84a 21.2%,#5cb853 26.7%,#5ab863 30.4%,#49c1c4 39%,#3dc3e6 44.5%,#3bc2ec 46.9%,#38baef 52.5%,#3b93db 61%,#3b89d4 64.1%,#3c89d4 73.9%,#3c82cf 75.8%,#3a67b8 79.4%,#3a61b3 80.7%,#3c51a7 88.7%,#4450a8 94.2%,#554da7 96.6%,#5f4aa5 99.7%)"></i><i style="left:106px;width:2px;background:linear-gradient(#64b945 0.3%,#64b945 23%,#5db84a 35.9%,#59b865 41.4%,#51bd9e 46.9%,#48c2c5 50%,#3ec3e4 53.7%,#3bc3eb 55.5%,#38bdf0 59.2%,#39a7e6 65.3%,#39a3e3 73.9%,#3b8ed8 77%,#3b71c1 80.1%,#3a61b4 82.5%,#3c51a7 90.5%,#4150a7 93.6%,#5e4ba6 99.7%)"></i><i style="left:108px;width:2px;background:linear-gradient(#72bc42 0.3%,#72bc43 23.6%,#61b846 39%,#5db848 46.3%,#5ab864 51.2%,#54bc92 54.3%,#48c2c6 57.4%,#46c2cc 58%,#3ec3e4 60.4%,#3ac1ed 63.5%,#38bdf0 72.1%,#38b8ee 75.2%,#39a8e6 77%,#3b78c7 81.3%,#3a63b5 84.4%,#3d50a6 92.9%,#4450a8 95.4%,#5d4ba6 99.7%)"></i><i style="left:110px;width:2px;background:linear-gradient(#86c23f 0.3%,#85c23f 23.6%,#6bba44 39.6%,#5db848 54.3%,#5ab863 58%,#4cc0b8 62.9%,#47c2c9 64.1%,#43c3d7 66.6%,#3cc3e9 73.9%,#39c0f0 76.4%,#38b9ee 77.6%,#39ade9 78.8%,#3b95dc 80.7%,#3b7bc9 83.1%,#3a62b5 86.2%,#3c50a6 93.6%,#4550a8 96%,#5c4ba6 99.7%)"></i><i style="left:112px;width:2px;background:linear-gradient(#a2cd39 0.3%,#9ecb3a 23.6%,#7abe41 39%,#68ba44 50.6%,#5db848 60.4%,#5ab861 64.1%,#57ba7b 66.6%,#52bd9e 71.5%,#4ebfb1 73.3%,#3fc3e1 76.4%,#3bc3eb 77.6%,#38bff0 78.8%,#38b7ed 80.1%,#39a8e6 81.3%,#3b79c8 85%,#3a63b5 87.4%,#3c50a6 94.2%,#4650a8 96.6%,#5b4ca6 99.7%)"></i><i style="left:114px;width:2px;background:linear-gradient(#c6db2e 0.3%,#bdd731 23.6%,#92c73d 37.1%,#83c140 43.3%,#68ba44 56.7%,#60b846 62.3%,#5cb84a 69%,#5bb859 72.7%,#5ab866 73.9%,#55bb8d 75.8%,#48c2c8 77.6%,#43c3d7 78.2%,#3fc3e3 78.8%,#39c0ef 80.7%,#38b0ea 82.5%,#3b92da 84.4%,#3b7ac8 86.2%,#3a63b5 88.7%,#3d50a6 94.8%,#4f4ea7 98.5%,#5a4ca6 99.7%)"></i><i style="left:116px;width:2px;background:linear-gradient(#eee820 0.3%,#e0e425 24.2%,#d7e128 27.3%,#aad037 37.1%,#85c23f 49.4%,#68ba44 62.3%,#5cb84a 75.2%,#5bb858 76.4%,#5ab865 77%,#55bb8d 78.2%,#4bc1bd 79.4%,#45c3d1 80.1%,#40c3df 80.7%,#3ac2ee 81.9%,#38bff0 82.5%,#38b3eb 83.7%,#3a9bdf 85%,#3b77c7 87.4%,#3a67b9 89.3%,#3d50a6 95.4%,#4c4fa7 98.5%,#594ca6 99.7%)"></i><i style="left:118px;width:2px;background:linear-gradient(#fcc21a 0.3%,#fbd719 21.2%,#f9e41c 26.1%,#eee820 29.8%,#aed236 43.3%,#84c23f 55.5%,#6dbb43 64.7%,#5db849 77.6%,#5bb859 78.8%,#59b86b 79.4%,#52bd9c 80.7%,#45c3d2 81.9%,#3ec4e4 82.5%,#38c0f0 83.7%,#38baee 84.4%,#38b1ea 85%,#3b97dd 86.2%,#3c84d1 87.4%,#3b75c5 88.7%,#3a66b8 90.5%,#3c51a6 95.4%,#4650a8 97.9%,#574da6 99.7%)"></i><i style="left:120px;width:2px;background:linear-gradient(#f57d1f 0.3%,#f7901e 18.7%,#f7971d 23%,#faac1a 26.7%,#fcd019 30.4%,#fae21b 32.8%,#ede820 36.5%,#afd235 49.4%,#83c13f 60.4%,#74bd42 66%,#5db848 79.4%,#5cb84b 80.1%,#5bb856 80.7%,#59b867 81.3%,#56ba85 81.9%,#46c3cf 83.1%,#3ec3e5 83.7%,#3ac2ee 84.4%,#38bef0 85%,#38b7ed 85.6%,#3a9ce0 86.8%,#3c88d4 88%,#3b73c3 89.9%,#3a64b6 91.7%,#3d50a6 96%,#4750a8 98.5%,#554da6 99.7%)"></i><i style="left:122px;width:2px;background:linear-gradient(#ef4223 0.3%,#f15822 19.9%,#f26221 24.2%,#f47420 27.3%,#f7931e 31%,#fcce19 36.5%,#fbdc1a 38.3%,#f9e41c 39.6%,#eee820 42.6%,#d3df2a 48.2%,#aed236 54.3%,#88c33f 62.9%,#5db848 81.3%,#5cb84e 81.9%,#5ab860 82.5%,#56ba86 83.1%,#4dc0b4 83.7%,#42c3da 84.4%,#3cc3e9 85%,#38c0f0 85.6%,#38afe9 86.8%,#3a9fe2 87.4%,#3c8cd6 88.7%,#3a65b6 92.3%,#3c51a7 96%,#4550a8 98.5%,#534da7 99.7%)"></i><i style="left:124px;width:2px;background:linear-gradient(#ed2725 0.3%,#ee2d24 17.5%,#ee3324 23%,#ef3a23 26.1%,#f04d22 29.1%,#f37020 33.4%,#f7971d 37.7%,#fcd318 43.3%,#f9e51c 45.7%,#efe820 48.2%,#afd235 58%,#93c73d 63.5%,#77be42 74.5%,#5db848 82.5%,#5cb851 83.1%,#59b870 83.7%,#52bea2 84.4%,#45c3d1 85%,#3dc3e7 85.6%,#39c2f0 86.2%,#38b1eb 87.4%,#3a97dd 88.7%,#3a64b6 92.9%,#3d50a6 96.6%,#4750a8 99.1%,#504ea7 99.7%)"></i><i style="left:126px;width:2px;background:linear-gradient(#ec2026 0.3%,#ec2326 21.2%,#ee2f24 30.4%,#ef3d23 33.4%,#f15922 37.1%,#f7981d 43.9%,#fcd218 48.8%,#fae31c 50.6%,#f1e81f 52.5%,#bad632 59.8%,#a1cc39 64.1%,#81c040 74.5%,#60b846 82.5%,#5cb84a 83.7%,#5ab866 84.4%,#54bc97 85%,#47c2ca 85.6%,#3ec3e5 86.2%,#39c2ef 86.8%,#38b3ec 88%,#3a9bdf 89.3%,#3a63b5 93.6%,#3c51a7 96.6%,#4550a8 99.1%,#4d4ea7 99.7%)"></i><i style="left:128px;width:2px;background:linear-gradient(#ec1f26 0.3%,#ec2026 26.7%,#ee2e24 36.5%,#ef3d23 39.6%,#f36b21 45.1%,#f8991d 49.4%,#fdd318 53.1%,#fae11b 54.3%,#f1e81f 56.1%,#b0d235 64.7%,#8cc43e 74.5%,#5db849 84.4%,#5ab860 85%,#54bc91 85.6%,#48c2c7 86.2%,#3ec3e5 86.8%,#39c2ef 87.4%,#38b6ed 88.7%,#3b94db 90.5%,#3b70c0 92.9%,#3a61b3 94.2%,#3d50a6 97.2%,#4350a8 99.1%,#4a4fa7 99.7%)"></i><i style="left:130px;width:2px;background:linear-gradient(#ec1e26 0.3%,#ec2026 33.4%,#ee2d24 42%,#ef3a23 45.1%,#f15b21 48.8%,#f37220 50.6%,#f7981d 53.1%,#fcd819 56.7%,#f9e61c 58%,#f2e81f 59.2%,#bbd732 66.6%,#8cc43e 77%,#5db848 85%,#5ab85b 85.6%,#55bb8c 86.2%,#49c2c4 86.8%,#3ec4e4 87.4%,#3ac2ee 88%,#38bef0 88.7%,#39ade9 89.9%,#3b95dc 91.1%,#3a64b6 94.2%,#3c51a7 97.2%,#4250a7 99.1%,#4750a8 99.7%)"></i><i style="left:132px;width:2px;background:linear-gradient(#ea1f27 0.3%,#ec2026 39%,#ee2d24 47.5%,#ef3a23 50%,#f04823 51.2%,#f7971d 56.1%,#fdd218 59.2%,#fae21b 60.4%,#f0e91f 62.3%,#cdde2c 67.2%,#87c33f 80.1%,#68ba44 83.7%,#5db848 85.6%,#5bb855 86.2%,#56ba84 86.8%,#4bc1bd 87.4%,#3fc4e2 88%,#3bc3ec 88.7%,#38c0f1 89.3%,#38b0ea 90.5%,#3b94db 91.7%,#3b73c3 93.6%,#3a61b4 94.8%,#3c50a6 97.9%,#4550a8 99.7%)"></i><i style="left:134px;width:2px;background:linear-gradient(#e42028 0.3%,#ec1e26 24.8%,#ec2026 44.5%,#ed2b25 51.2%,#ee2d24 51.8%,#ef3d23 53.7%,#f15922 55.5%,#f8991d 59.2%,#fcd619 62.3%,#f9e51c 63.5%,#f2e81f 64.7%,#93c73d 80.1%,#84c23f 81.9%,#6aba44 84.4%,#5db847 86.2%,#5cb850 86.8%,#58b975 87.4%,#4fbfab 88%,#43c3d6 88.7%,#3cc3e8 89.3%,#39c1ef 89.9%,#38b1eb 91.1%,#3b93db 92.3%,#3a65b7 94.8%,#3c52a8 97.9%,#4450a8 99.7%)"></i><i style="left:136px;width:2px;background:linear-gradient(#d92228 0.3%,#ec1e26 30.4%,#ec2026 49.4%,#ed2725 53.1%,#ee2d24 54.9%,#ef3e23 56.7%,#f36f20 59.8%,#fcd719 65.3%,#f9e51c 66.6%,#f0e820 68.4%,#9aca3b 80.7%,#6cbb44 85%,#5db849 87.4%,#5ab862 88%,#54bc91 88.7%,#4ac2c3 89.3%,#3fc4e3 89.9%,#3ac3ed 90.5%,#38bdf0 91.1%,#38b3ec 91.7%,#3b91da 92.9%,#3b75c5 94.2%,#3a62b4 95.4%,#3c51a7 98.5%,#4250a7 99.7%)"></i><i style="left:138px;width:2px;background:linear-gradient(#cc2127 0.3%,#eb1e26 32.8%,#ec2026 52.5%,#ed2425 54.9%,#ee2e24 58%,#ef3f23 59.8%,#f36f20 62.9%,#fbb519 66.6%,#fcd919 68.4%,#f9e61c 69.6%,#f2e91f 70.9%,#a1cc39 81.3%,#6ebb43 85.6%,#5db848 88%,#5bb855 88.7%,#57ba7f 89.3%,#4ec0b3 89.9%,#41c3dc 90.5%,#3bc3eb 91.1%,#38bef0 91.7%,#38b4ec 92.3%,#3b8fd8 93.6%,#3a66b8 95.4%,#3b59ae 97.2%,#3c50a6 99.1%,#4150a7 99.7%)"></i><i style="left:140px;width:2px;background:linear-gradient(#c02026 0.3%,#da2228 24.2%,#eb1e26 37.1%,#ec2026 54.9%,#ec2326 57.4%,#ee2f24 61%,#ef4123 62.9%,#f36a21 65.3%,#fdd218 70.2%,#fbe41b 71.5%,#f4e81e 72.7%,#d2df2a 77%,#add136 81.3%,#6ebb43 86.2%,#5db848 88.7%,#5bb852 89.3%,#58b979 89.9%,#4fc0af 90.5%,#41c3db 91.1%,#3bc3eb 91.7%,#38bef0 92.3%,#38b1ea 92.9%,#3a9bdf 93.6%,#3b7ac9 94.8%,#3a62b4 96%,#3c52a8 99.1%,#3f50a7 99.7%)"></i><i style="left:142px;width:2px;background:linear-gradient(#b31e24 0.3%,#cb2127 22.4%,#e72028 37.1%,#ec1e26 43.9%,#ec2326 60.4%,#ed2c25 63.5%,#ef3d23 65.3%,#f15522 66.6%,#fdd118 72.1%,#fbe41b 73.3%,#f4e91e 74.5%,#c8dc2e 80.1%,#aad037 82.5%,#6ebb43 86.8%,#5db848 89.3%,#5bb854 89.9%,#57b97d 90.5%,#4ec0b5 91.1%,#40c4e0 91.7%,#3ac2ee 92.3%,#38bbef 92.9%,#39abe7 93.6%,#3b96dc 94.2%,#3a68b9 96%,#3a60b3 96.6%,#3e50a6 99.7%)"></i><i style="left:144px;width:2px;background:linear-gradient(#a71d21 0.3%,#bf2026 23%,#e72028 40.8%,#ec1e26 47.5%,#ec2226 63.5%,#ed2b25 66%,#ef3923 67.2%,#fdd118 73.9%,#fbe31b 75.2%,#f1e91f 77%,#dee326 79.4%,#c9dc2e 81.3%,#6dbb43 87.4%,#5db848 89.9%,#5bb859 90.5%,#56ba86 91.1%,#4bc1c0 91.7%,#3ec3e5 92.3%,#39c2f0 92.9%,#38b7ed 93.6%,#3b90d9 94.8%,#3b70c0 96%,#3a63b5 96.6%,#3b5baf 98.5%,#3c50a6 99.7%)"></i><i style="left:146px;width:2px;background:linear-gradient(#9c1b1f 0.3%,#b31e24 23.6%,#d52228 36.5%,#e72028 44.5%,#ec1e26 51.2%,#ec2226 66%,#ed2b25 67.8%,#ef3923 69%,#f68e1e 72.7%,#fcc318 75.2%,#fdda19 76.4%,#f9e61c 77.6%,#ece820 79.4%,#cede2c 81.9%,#86c23f 86.2%,#6cbb44 88%,#5db849 90.5%,#5ab85f 91.1%,#54bc92 91.7%,#47c2cc 92.3%,#3cc3e8 92.9%,#38bff1 93.6%,#38b3eb 94.2%,#3a9de0 94.8%,#3b6cbc 96.6%,#3a62b4 97.2%,#3b5aae 99.1%,#3c51a7 99.7%)"></i><i style="left:148px;width:2px;background:linear-gradient(#92191d 0.3%,#a71d21 24.2%,#d42228 40.2%,#e72028 48.2%,#ec1e26 54.3%,#ec2126 67.2%,#ee2c24 69.6%,#ef3c23 70.9%,#f5841f 73.9%,#fdd318 77.6%,#fae41c 78.8%,#f2e91f 80.1%,#dbe226 81.9%,#b0d235 84.4%,#75bd42 88%,#67b945 89.3%,#5cb849 91.1%,#5ab866 91.7%,#52bea0 92.3%,#43c3d8 92.9%,#3bc3eb 93.6%,#38bcf0 94.2%,#38aee9 94.8%,#3a98dd 95.4%,#3b75c5 96.6%,#3a63b5 97.9%,#3b5cb0 99.1%,#3c54a9 99.7%)"></i><i style="left:150px;width:2px;background:linear-gradient(#8b181c 0.3%,#951a1e 17.5%,#9e1b1f 25.5%,#b51f24 34.7%,#d32228 43.9%,#e62028 51.2%,#ec1e26 56.7%,#ec2126 69%,#ee2d24 71.5%,#ee3524 72.1%,#f04e22 73.3%,#fdd118 78.8%,#fcde1a 79.4%,#fae51c 80.1%,#efe820 81.3%,#dee325 82.5%,#b1d335 85%,#7ec040 88%,#67ba44 89.9%,#5cb849 91.7%,#59b86c 92.3%,#50bfac 92.9%,#40c4df 93.6%,#3ac2ee 94.2%,#38baef 94.8%,#39a8e6 95.4%,#3c80ce 96.6%,#3b72c2 97.2%,#3c56ab 99.7%)"></i><i style="left:152px;width:2px;background:linear-gradient(#8f191d 0.3%,#9a1a1e 25.5%,#b21e23 37.1%,#e62028 53.7%,#ec1e26 59.2%,#ec2126 70.2%,#ed2b25 72.7%,#ee3824 73.9%,#f9a11c 78.2%,#fdd418 80.1%,#fce01a 80.7%,#f3e91f 81.9%,#e1e424 83.1%,#b3d334 85.6%,#80c040 88.7%,#68ba44 90.5%,#5cb84a 92.3%,#58b872 92.9%,#4ec0b5 93.6%,#3ec4e3 94.2%,#39c2f0 94.8%,#38b7ed 95.4%,#3c8dd7 96.6%,#3b7dcb 97.2%,#3b58ad 99.7%)"></i><i style="left:154px;width:2px;background:linear-gradient(#991a1e 0.3%,#a51c20 26.7%,#bd2026 40.8%,#e62028 55.5%,#ec1e26 60.4%,#ec2126 72.1%,#ee2c24 74.5%,#ef3d23 75.8%,#fab11a 80.1%,#fdd619 81.3%,#fbe21b 81.9%,#efe820 83.1%,#dce326 84.4%,#b6d533 86.2%,#81c140 89.3%,#68ba44 91.1%,#5eb847 92.3%,#5cb84c 92.9%,#58b979 93.6%,#4cc1bc 94.2%,#3ec3e5 94.8%,#39c1f0 95.4%,#38b4ec 96%,#3a9bdf 96.6%,#3c8ad5 97.2%,#3b5aae 99.7%)"></i><i style="left:156px;width:2px;background:linear-gradient(#a91d21 0.3%,#b61f24 26.7%,#ca2127 42.6%,#e72028 55.5%,#ec1e26 60.4%,#ec2026 72.7%,#ed2925 75.2%,#ee3224 76.4%,#f04e22 77.6%,#f8a11d 80.7%,#fdc617 81.9%,#fdd819 82.5%,#fbe31b 83.1%,#ede820 84.4%,#aed236 87.4%,#83c13f 89.9%,#68ba44 91.7%,#5eb847 92.9%,#5cb84f 93.6%,#57b97d 94.2%,#4bc1bf 94.8%,#3dc3e6 95.4%,#38c0f0 96%,#38b1ea 96.6%,#3a9ce0 97.2%,#3c81ce 98.5%,#3b5baf 99.7%)"></i><i style="left:158px;width:2px;background:linear-gradient(#cc2127 0.3%,#d32127 28.5%,#ec1e26 58.6%,#ec2026 72.7%,#ee3324 77%,#f15922 78.8%,#f9a41c 81.9%,#fdc917 83.1%,#fddb19 83.7%,#fae51c 84.4%,#f3e91f 85%,#e9e721 85.6%,#b2d335 88%,#7cbf41 91.1%,#69ba44 92.3%,#5eb847 93.6%,#5cb84e 94.2%,#57b979 94.8%,#4cc1bc 95.4%,#3dc3e6 96%,#38bff0 96.6%,#38b2eb 97.2%,#3c8dd7 98.5%,#3b71c1 99.1%,#3b5cb0 99.7%)"></i><i style="left:160px;width:2px;background:linear-gradient(#ea1f27 0.3%,#ec1f26 53.7%,#ec2226 72.1%,#ee2d24 75.8%,#ee3724 77%,#f26121 79.4%,#f8a11d 82.5%,#fdc417 83.7%,#fdd619 84.4%,#fbe31b 85%,#f5e91e 85.6%,#ebe721 86.2%,#b4d434 88.7%,#7dbf41 91.7%,#6aba44 92.9%,#5eb846 94.2%,#5cb84c 94.8%,#58b979 95.4%,#4bc1c0 96%,#3dc3e8 96.6%,#38bff1 97.2%,#38b1ea 97.9%,#3b93da 98.5%,#3b72c2 99.1%,#3b5baf 99.7%)"></i><i style="left:162px;width:2px;background:linear-gradient(#ee3524 0.3%,#ee3624 56.1%,#ee3924 64.7%,#ef4023 69.6%,#f04c22 73.9%,#f15d21 76.4%,#f36f20 78.2%,#f8a01d 81.9%,#fcbc18 83.1%,#fcdc1a 84.4%,#f9e61c 85%,#f2e91f 85.6%,#b3d334 88.7%,#7fc040 91.7%,#6cbb44 92.9%,#5db848 94.8%,#5ab85f 95.4%,#52be9f 96%,#40c4e0 96.6%,#39c2f0 97.2%,#38b4ec 97.9%,#3b91d9 98.5%,#3b6fbf 99.1%,#3b5aae 99.7%)"></i><i style="left:164px;width:2px;background:linear-gradient(#fab31b 0.3%,#faaf1a 71.5%,#fab21a 74.5%,#fbba1a 77%,#fbcb1a 80.1%,#fadb1b 81.9%,#f2e51e 83.1%,#e0e425 84.4%,#a0cc39 87.4%,#8dc53d 88.7%,#67ba45 92.3%,#5fb847 93.6%,#5cb84f 94.2%,#5ab863 94.8%,#54bc92 95.4%,#48c2c9 96%,#3cc3e8 96.6%,#38bcf0 97.2%,#3aa1e2 97.9%,#3c80cd 98.5%,#3a64b6 99.1%,#3b56ab 99.7%)"></i><i style="left:166px;width:2px;background:linear-gradient(#e9e622 0.3%,#e8e623 75.2%,#d9e128 78.8%,#c8db2d 81.3%,#b9d632 82.5%,#75bd42 86.2%,#62b94a 88%,#58bc7a 89.9%,#4fbe92 91.1%,#4dbe97 91.7%,#3fbdde 94.2%,#3bbae7 94.8%,#39abe7 96%,#3aa0e1 96.6%,#3a65b7 98.5%,#3c52a8 99.7%)"></i><i style="left:168px;width:7px;background:linear-gradient(#bdd731 0.3%,#bdd731 66.6%,#b8d633 75.2%,#9aca3b 80.7%,#8fc53d 81.9%,#6aba44 84.4%,#5eb846 85.6%,#5cb849 86.2%,#58b873 86.8%,#4ec1b7 87.4%,#3fc4e2 88%,#38c2f2 89.3%,#38b5ec 91.1%,#3c89d4 94.2%,#3a60b3 97.9%,#3c50a6 99.7%)"></i></div></div>
<div class="hm" style="left:569px;top:245px;width:164px;height:163px"><div class="w" style="width:176px"><i style="left:0px;width:8px;background:linear-gradient(#6648a5 0.3%,#6648a5 99.7%)"></i><i style="left:8px;width:2px;background:linear-gradient(#6648a5 0.3%,#6648a5 99.7%)"></i><i style="left:10px;width:2px;background:linear-gradient(#6648a5 0.3%,#6648a5 99.7%)"></i><i style="left:12px;width:2px;background:linear-gradient(#6648a5 0.3%,#6648a5 99.7%)"></i><i style="left:14px;width:2px;background:linear-gradient(#6648a5 0.3%,#6648a5 99.7%)"></i><i style="left:16px;width:2px;background:linear-gradient(#6648a5 0.3%,#6648a5 99.7%)"></i><i style="left:18px;width:2px;background:linear-gradient(#6648a5 0.3%,#6648a5 99.7%)"></i><i style="left:20px;width:2px;background:linear-gradient(#6648a5 0.3%,#6648a5 99.7%)"></i><i style="left:22px;width:2px;background:linear-gradient(#6648a5 0.3%,#6648a5 99.7%)"></i><i style="left:24px;width:2px;background:linear-gradient(#6648a5 0.3%,#6648a5 99.7%)"></i><i style="left:26px;width:2px;background:linear-gradient(#6648a5 0.3%,#6648a5 99.7%)"></i><i style="left:28px;width:2px;background:linear-gradient(#6648a5 0.3%,#6648a5 99.7%)"></i><i style="left:30px;width:2px;background:linear-gradient(#6648a5 0.3%,#6648a5 99.7%)"></i><i style="left:32px;width:2px;background:linear-gradient(#6648a5 0.3%,#6648a5 99.7%)"></i><i style="left:34px;width:2px;background:linear-gradient(#6648a5 0.3%,#6648a5 99.7%)"></i><i style="left:36px;width:2px;background:linear-gradient(#6648a5 0.3%,#6648a5 99.7%)"></i><i style="left:38px;width:2px;background:linear-gradient(#6648a5 0.3%,#6648a5 99.7%)"></i><i style="left:40px;width:2px;background:linear-gradient(#6648a5 0.3%,#6648a5 99.7%)"></i><i style="left:42px;width:2px;background:linear-gradient(#6648a5 0.3%,#6648a5 99.7%)"></i><i style="left:44px;width:2px;background:linear-gradient(#6648a5 0.3%,#6648a5 99.7%)"></i><i style="left:46px;width:2px;background:linear-gradient(#6648a5 0.3%,#6648a5 99.7%)"></i><i style="left:48px;width:2px;background:linear-gradient(#6648a5 0.3%,#6648a5 99.7%)"></i><i style="left:50px;width:2px;background:linear-gradient(#6648a5 0.3%,#6648a5 99.7%)"></i><i style="left:52px;width:2px;background:linear-gradient(#6648a5 0.3%,#6648a5 99.7%)"></i><i style="left:54px;width:2px;background:linear-gradient(#6648a5 0.3%,#6648a5 99.7%)"></i><i style="left:56px;width:2px;background:linear-gradient(#6648a5 0.3%,#6648a5 99.7%)"></i><i style="left:58px;width:2px;background:linear-gradient(#6648a5 0.3%,#6648a5 99.7%)"></i><i style="left:60px;width:2px;background:linear-gradient(#6648a5 0.3%,#6648a5 99.7%)"></i><i style="left:62px;width:2px;background:linear-gradient(#6648a5 0.3%,#6648a5 99.7%)"></i><i style="left:64px;width:2px;background:linear-gradient(#6648a5 0.3%,#6648a5 99.7%)"></i><i style="left:66px;width:2px;background:linear-gradient(#6648a5 0.3%,#6648a5 99.7%)"></i><i style="left:68px;width:2px;background:linear-gradient(#6648a5 0.3%,#6648a5 99.7%)"></i><i style="left:70px;width:2px;background:linear-gradient(#6648a5 0.3%,#6648a5 99.7%)"></i><i style="left:72px;width:2px;background:linear-gradient(#6648a5 0.3%,#6648a5 99.7%)"></i><i style="left:74px;width:2px;background:linear-gradient(#6648a5 0.3%,#6648a5 99.7%)"></i><i style="left:76px;width:2px;background:linear-gradient(#6249a5 0.3%,#6648a5 99.7%)"></i><i style="left:78px;width:2px;background:linear-gradient(#594ca6 0.3%,#5a4ca6 25.5%,#6548a5 63.5%,#6648a5 99.7%)"></i><i style="left:80px;width:2px;background:linear-gradient(#4d4ea7 0.3%,#4e4ea7 26.1%,#5f4aa5 63.5%,#6648a5 99.7%)"></i><i style="left:82px;width:2px;background:linear-gradient(#4450a8 0.3%,#484fa8 41.4%,#6548a5 91.1%,#6648a5 99.7%)"></i><i style="left:84px;width:2px;background:linear-gradient(#4050a7 0.3%,#4450a8 53.1%,#514ea7 75.8%,#6548a5 92.9%,#6648a5 99.7%)"></i><i style="left:86px;width:2px;background:linear-gradient(#3c52a7 0.3%,#3d50a6 39.6%,#4450a8 69%,#504ea7 83.7%,#6349a5 94.2%,#6648a5 99.7%)"></i><i style="left:88px;width:2px;background:linear-gradient(#3b5aae 0.3%,#3b5aae 25.5%,#3c52a8 52.5%,#4250a7 75.2%,#4a4fa8 85%,#6249a5 95.4%,#6548a5 99.7%)"></i><i style="left:90px;width:2px;background:linear-gradient(#3a63b6 0.3%,#3b5eb1 41.4%,#3d50a6 75.2%,#4550a8 86.8%,#5b4ca6 94.8%,#6449a5 99.7%)"></i><i style="left:92px;width:2px;background:linear-gradient(#3b83cf 0.3%,#3b7bc9 24.8%,#3a60b3 54.9%,#3c52a8 78.8%,#4550a8 89.3%,#6249a5 99.7%)"></i><i style="left:94px;width:2px;background:linear-gradient(#39ace8 0.3%,#3a9cdf 28.5%,#3b83cf 48.8%,#3a68b9 62.3%,#3b5baf 77.6%,#3c52a8 83.7%,#4750a8 92.3%,#604aa5 99.7%)"></i><i style="left:96px;width:2px;background:linear-gradient(#38bff1 0.3%,#38b8ee 31.6%,#39abe7 46.3%,#3aa2e3 51.2%,#3b7ecc 64.7%,#3c52a7 87.4%,#4750a8 94.8%,#5e4ba6 99.7%)"></i><i style="left:98px;width:2px;background:linear-gradient(#3dc3e6 0.3%,#39c2ef 31.6%,#38bef0 45.7%,#38b8ee 54.3%,#3b89d4 73.9%,#3a62b4 83.7%,#3c51a7 90.5%,#4650a8 96%,#5c4ba6 99.7%)"></i><i style="left:100px;width:2px;background:linear-gradient(#57bb7a 0.3%,#50bda1 19.3%,#47c2ca 31.6%,#3fc3e0 41.4%,#3ac2ee 54.3%,#38b8ee 66.6%,#39aae7 73.9%,#3b8cd6 80.7%,#3a69bb 85.6%,#3a60b3 87.4%,#3c52a7 92.3%,#4150a7 95.4%,#4450a8 96.6%,#5a4ca6 99.7%)"></i><i style="left:102px;width:2px;background:linear-gradient(#62b945 0.3%,#5eb848 27.9%,#5bb85f 37.7%,#57bb76 43.9%,#50bd9e 50.6%,#48c2c9 55.5%,#3fc3e2 60.4%,#3ac3ed 67.2%,#38bef0 74.5%,#38b7ed 78.2%,#39ade8 80.7%,#3b8ed8 84.4%,#3a62b4 89.3%,#3e50a6 95.4%,#4550a8 97.2%,#574ca6 99.7%)"></i><i style="left:104px;width:2px;background:linear-gradient(#6fbb43 0.3%,#6aba44 26.1%,#5eb848 53.7%,#5ab85f 58%,#58ba6d 59.8%,#55bc8b 62.3%,#48c2c5 68.4%,#3ec3e5 74.5%,#3ac2ee 78.2%,#38bbef 81.9%,#39ade8 84.4%,#3b8ed7 87.4%,#3b6bbc 89.9%,#3a60b3 91.1%,#3d50a6 96%,#4650a8 97.9%,#554da6 99.7%)"></i><i style="left:106px;width:2px;background:linear-gradient(#7dbf41 0.3%,#70bc43 46.3%,#5db848 66%,#5ab861 70.9%,#59b96b 72.1%,#51bd9e 75.8%,#46c2cd 78.2%,#3ec3e3 80.1%,#3ac2ee 82.5%,#38bdf0 85%,#38b2eb 86.8%,#3b8cd6 89.3%,#3b6fbf 91.1%,#3a61b4 92.3%,#3d50a6 96.6%,#4750a8 98.5%,#524da7 99.7%)"></i><i style="left:108px;width:2px;background:linear-gradient(#8ec53d 0.3%,#7ec040 48.8%,#5db848 75.8%,#5ab860 78.2%,#47c2ca 82.5%,#3ec4e4 84.4%,#39c2ef 86.2%,#38bcef 87.4%,#38afea 88.7%,#3b8ed7 90.5%,#3a66b8 92.9%,#3c51a7 96.6%,#4450a8 98.5%,#504ea7 99.7%)"></i><i style="left:110px;width:2px;background:linear-gradient(#a7cf37 0.3%,#92c73d 48.8%,#5db848 80.7%,#5ab85f 82.5%,#51bda1 84.4%,#46c3cf 85.6%,#41c3dd 86.2%,#3bc3ec 87.4%,#38bef0 88.7%,#38b0ea 89.9%,#3b8dd7 91.7%,#3b75c4 92.9%,#3a62b4 94.2%,#3d50a6 97.2%,#4550a8 99.1%,#4d4ea7 99.7%)"></i><i style="left:112px;width:2px;background:linear-gradient(#c9dc2d 0.3%,#acd136 49.4%,#7ebf40 69%,#5db848 83.7%,#5ab85c 85%,#58b973 85.6%,#47c2cb 87.4%,#3dc3e8 88.7%,#3ac2ee 89.3%,#38bff0 89.9%,#38b1eb 91.1%,#3b95dc 92.3%,#3b78c7 93.6%,#3a63b5 94.8%,#3c52a7 97.2%,#4450a8 99.1%,#4b4fa7 99.7%)"></i><i style="left:114px;width:2px;background:linear-gradient(#e8e622 0.3%,#dee325 24.8%,#cfde2b 49.4%,#c4da2f 53.7%,#85c23f 72.1%,#5db848 86.2%,#5ab864 87.4%,#56bb86 88%,#46c2ce 89.3%,#3ec4e4 89.9%,#3bc3ec 90.5%,#38bff0 91.1%,#38b8ee 91.7%,#39abe8 92.3%,#3b7ac9 94.2%,#3a62b4 95.4%,#3d50a6 97.9%,#484fa8 99.7%)"></i><i style="left:116px;width:2px;background:linear-gradient(#f7e81e 0.3%,#efe820 46.9%,#ebe721 51.2%,#cfde2b 61%,#97c83c 72.7%,#5eb847 87.4%,#5db848 88%,#5bb857 88.7%,#57ba79 89.3%,#45c3d1 90.5%,#3dc3e6 91.1%,#39c2ef 91.7%,#38bbef 92.3%,#38afe9 92.9%,#3b7ac9 94.8%,#3a61b3 96%,#3c51a7 97.9%,#4550a8 99.7%)"></i><i style="left:118px;width:2px;background:linear-gradient(#fce11b 0.3%,#fbe21b 30.4%,#fcdc1a 48.2%,#fae51c 54.3%,#f1e81f 59.8%,#dee325 65.3%,#9dcb3a 76.4%,#5eb846 88.7%,#5db849 89.3%,#5bb859 89.9%,#56ba84 90.5%,#4cc0b9 91.1%,#40c3df 91.7%,#3ac3ed 92.3%,#38bdf0 92.9%,#38b0ea 93.6%,#3c8ad5 94.8%,#3a68ba 96%,#3c53a9 97.9%,#4450a8 99.7%)"></i><i style="left:120px;width:2px;background:linear-gradient(#fbba19 0.3%,#fcc318 24.8%,#fab01a 49.4%,#fbb719 53.1%,#fcda1a 62.3%,#fae51c 64.7%,#ede820 68.4%,#d1df2a 73.3%,#9aca3b 80.1%,#5db847 89.9%,#5cb84d 90.5%,#59b86b 91.1%,#52bea0 91.7%,#44c3d3 92.3%,#3cc3ea 92.9%,#38bef0 93.6%,#38b1eb 94.2%,#3c88d4 95.4%,#3a63b5 96.6%,#3c51a7 98.5%,#4350a8 99.7%)"></i><i style="left:122px;width:2px;background:linear-gradient(#f5851f 0.3%,#f78f1e 24.2%,#f5831f 46.3%,#f5851f 50.6%,#f9a21c 61%,#fbb319 64.1%,#fdd519 67.8%,#fae41c 70.2%,#f0e820 73.3%,#dee325 75.8%,#a9d037 80.7%,#6aba44 88.7%,#5db848 91.1%,#5bb858 91.7%,#55bb8a 92.3%,#48c2c8 92.9%,#3dc3e8 93.6%,#38bff0 94.2%,#38b1eb 94.8%,#3c83d0 96%,#3b6dbe 96.6%,#3a60b2 97.2%,#3c50a6 99.1%,#4250a7 99.7%)"></i><i style="left:124px;width:2px;background:linear-gradient(#f15422 0.3%,#f15f21 24.2%,#f15922 46.3%,#f15d21 51.2%,#f47520 59.8%,#f5831f 62.9%,#f9a21c 67.2%,#fdd619 72.7%,#fae41b 74.5%,#f1e91f 76.4%,#dfe425 78.2%,#add136 82.5%,#6dbb43 89.3%,#5db847 91.7%,#5cb851 92.3%,#57ba80 92.9%,#49c2c4 93.6%,#3dc3e7 94.2%,#38bff1 94.8%,#38afe9 95.4%,#3b93db 96%,#3a63b5 97.2%,#3c52a7 99.1%,#4050a7 99.7%)"></i><i style="left:126px;width:2px;background:linear-gradient(#ee3024 0.3%,#ef3823 23.6%,#ef3b23 46.9%,#ef3e23 50.6%,#f04822 55.5%,#f15722 61%,#f26621 64.1%,#faad1a 72.7%,#fdd518 75.8%,#fbe31b 77%,#f3e81e 78.2%,#e1e424 80.1%,#b2d335 83.7%,#83c13f 88%,#6bba44 90.5%,#5eb847 92.3%,#5cb850 92.9%,#56ba86 93.6%,#46c2cd 94.2%,#3bc3ea 94.8%,#38bcef 95.4%,#39a5e4 96%,#3b6cbd 97.2%,#3b5fb2 97.9%,#3f50a7 99.7%)"></i><i style="left:128px;width:2px;background:linear-gradient(#ed2425 0.3%,#ee2d24 50%,#ef3a23 60.4%,#ef4223 62.9%,#f05022 65.3%,#f7941e 73.3%,#f89f1d 74.5%,#fab01a 75.8%,#fcdc1a 78.2%,#fbe41b 78.8%,#f3e91f 80.1%,#dfe425 81.9%,#add136 85.6%,#81c040 89.3%,#6cbb44 91.1%,#5db847 92.9%,#5bb859 93.6%,#53bd9c 94.2%,#41c3dc 94.8%,#39c2f0 95.4%,#38b5ec 96%,#3b76c5 97.2%,#3a61b3 97.9%,#3e50a6 99.7%)"></i><i style="left:130px;width:2px;background:linear-gradient(#ec2026 0.3%,#ed2625 46.9%,#ee3224 62.9%,#f04a22 67.8%,#f37020 72.7%,#f89c1d 76.4%,#fab11a 77.6%,#fdcb17 78.8%,#fce01a 80.1%,#f9e51c 80.7%,#f1e91f 81.9%,#dbe226 83.7%,#aed236 86.8%,#6cba44 91.7%,#5db849 93.6%,#59b86d 94.2%,#4dc1b9 94.8%,#3dc3e7 95.4%,#38bdf0 96%,#3aa1e2 96.6%,#3c81ce 97.2%,#3a67b8 97.9%,#3d50a6 99.7%)"></i><i style="left:132px;width:2px;background:linear-gradient(#ec1f26 0.3%,#ec2126 44.5%,#ee3024 64.1%,#f04922 70.2%,#f26221 73.9%,#f47920 75.8%,#f8a01d 78.2%,#fdc517 80.1%,#fcdd1a 81.3%,#fae41b 81.9%,#f3e91f 83.1%,#d4e029 85.6%,#9ac93b 89.3%,#6aba44 92.3%,#5eb846 93.6%,#5cb84f 94.2%,#55bb8d 94.8%,#42c3d9 95.4%,#39c2f0 96%,#38b0ea 96.6%,#3c8bd6 97.2%,#3b6ebf 97.9%,#3a60b3 98.5%,#3c51a7 99.7%)"></i><i style="left:134px;width:2px;background:linear-gradient(#ec1f26 0.3%,#ec2026 48.2%,#ee3124 66%,#ef4823 72.1%,#f05222 73.9%,#f15e21 75.2%,#f89e1d 79.4%,#fcc317 81.3%,#fddb19 82.5%,#f8e71d 83.7%,#ece820 85%,#d1df2b 86.8%,#9bca3b 89.9%,#71bc43 92.3%,#68ba44 92.9%,#5db848 94.2%,#59b869 94.8%,#4dc1b9 95.4%,#3cc3e9 96%,#38b9ee 96.6%,#3b76c6 97.9%,#3a63b5 98.5%,#3c52a8 99.7%)"></i><i style="left:136px;width:2px;background:linear-gradient(#ec1f26 0.3%,#ec2026 48.2%,#ee3024 67.2%,#ef4423 72.7%,#f05422 75.2%,#f36a21 77%,#f8a11d 80.7%,#fdc517 82.5%,#fdde1a 83.7%,#f6e81e 85%,#e8e721 86.2%,#afd235 89.3%,#6dbb44 92.9%,#5eb846 94.2%,#5cb84e 94.8%,#54bc92 95.4%,#40c4e0 96%,#38bff1 96.6%,#3aa2e3 97.2%,#3c80ce 97.9%,#3a69ba 98.5%,#3c54a9 99.7%)"></i><i style="left:138px;width:2px;background:linear-gradient(#ec1f26 0.3%,#ec2026 46.9%,#ee3024 67.8%,#ef4223 73.3%,#f05422 75.8%,#f9a91b 81.9%,#fdc217 83.1%,#fddc19 84.4%,#f7e81d 85.6%,#eae721 86.8%,#d4e02a 88%,#acd136 89.9%,#73bc42 92.9%,#68ba44 93.6%,#5db848 94.8%,#59b86e 95.4%,#49c2c6 96%,#3ac2ee 96.6%,#38b0ea 97.2%,#3c8ad5 97.9%,#3b70c0 98.5%,#3a60b3 99.1%,#3c56ab 99.7%)"></i><i style="left:140px;width:2px;background:linear-gradient(#ec1f26 0.3%,#ec2026 46.3%,#ee3024 66%,#ee3824 69.6%,#ef4423 73.9%,#f15722 76.4%,#f9a21c 81.9%,#fdc616 83.7%,#fddf1a 85%,#f7e91e 86.2%,#e7e622 87.4%,#b3d334 89.9%,#83c140 92.3%,#6dbb44 93.6%,#5eb846 94.8%,#5bb853 95.4%,#52bea5 96%,#3dc3e6 96.6%,#38b9ee 97.2%,#3b94db 97.9%,#3b77c7 98.5%,#3a62b4 99.1%,#3b57ac 99.7%)"></i><i style="left:142px;width:2px;background:linear-gradient(#ec1f26 0.3%,#ec2026 45.1%,#ee3124 64.7%,#ef4423 72.7%,#f05422 75.8%,#f36e20 78.2%,#f9a71c 82.5%,#fdc017 83.7%,#fdda19 85%,#fbe21b 85.6%,#f3e91f 86.8%,#e1e424 88%,#acd136 90.5%,#7cbf41 92.9%,#68ba44 94.2%,#5db849 95.4%,#57b97e 96%,#42c3db 96.6%,#38bff1 97.2%,#3c80ce 98.5%,#3a67b8 99.1%,#3b59ad 99.7%)"></i><i style="left:144px;width:2px;background:linear-gradient(#ec1f26 0.3%,#ec2126 43.3%,#ed2625 51.8%,#ee3224 62.9%,#f04b22 72.7%,#f15722 75.2%,#f36d21 77.6%,#f9a61c 82.5%,#fdca17 84.4%,#fce11a 85.6%,#f5ea1e 86.8%,#e4e523 88%,#afd235 90.5%,#80c040 92.9%,#6bba44 94.2%,#5db847 95.4%,#5ab862 96%,#4bc1bf 96.6%,#3ac2ee 97.2%,#39ade8 97.9%,#3c89d5 98.5%,#3b6cbd 99.1%,#3b5baf 99.7%)"></i><i style="left:146px;width:2px;background:linear-gradient(#ec2026 0.3%,#ec2226 35.9%,#ee2d24 54.3%,#ee3624 59.2%,#f15722 72.1%,#f26421 75.2%,#f47920 77.6%,#f9a41c 81.9%,#fdc216 83.7%,#fce11a 85.6%,#f6ea1e 86.8%,#e5e622 88%,#b2d335 90.5%,#84c23f 92.9%,#66b945 94.8%,#5fb846 95.4%,#5cb84c 96%,#53bd9c 96.6%,#3dc3e7 97.2%,#38b7ed 97.9%,#3b72c2 99.1%,#3b5cb0 99.7%)"></i><i style="left:148px;width:2px;background:linear-gradient(#ed2725 0.3%,#ed2c25 31%,#ef3d23 45.7%,#f15622 58%,#f47620 72.1%,#f5801f 75.2%,#f9a61c 80.7%,#fdc617 83.1%,#fce01a 85%,#f3e91f 86.8%,#e3e523 88%,#b1d335 90.5%,#90c63d 92.3%,#69ba44 94.8%,#5db848 96%,#58b877 96.6%,#41c4dc 97.2%,#38bdf0 97.9%,#3a9bdf 98.5%,#3b78c8 99.1%,#3b5db1 99.7%)"></i><i style="left:150px;width:2px;background:linear-gradient(#f15922 0.3%,#f15d21 25.5%,#f5801f 48.8%,#f89b1d 71.5%,#f9a11c 74.5%,#faaf1a 77.6%,#fdcb17 81.3%,#fbe11b 83.7%,#f5e91e 85.6%,#e4e523 87.4%,#8fc53d 92.3%,#6bba44 94.8%,#5eb847 96%,#5ab85f 96.6%,#49c2c6 97.2%,#38c2f1 97.9%,#39a4e4 98.5%,#3c7ecc 99.1%,#3b5eb2 99.7%)"></i><i style="left:152px;width:2px;background:linear-gradient(#fab11a 0.3%,#fbb51a 29.8%,#fcc519 50%,#fdd218 72.7%,#fcd719 75.8%,#f9e51c 80.1%,#eee820 83.7%,#d9e228 86.8%,#cbdd2d 88%,#82c140 92.9%,#5fb846 96%,#5cb84e 96.6%,#4ec0b5 97.2%,#39c2ef 97.9%,#39a9e7 98.5%,#3c82cf 99.1%,#3b5fb2 99.7%)"></i><i style="left:154px;width:2px;background:linear-gradient(#e8e622 0.3%,#e2e424 75.8%,#d1df2a 81.9%,#bbd732 86.2%,#a4ce38 89.3%,#6aba44 94.8%,#5cb84a 96.6%,#51bfa8 97.2%,#3ac3ec 97.9%,#39aee9 98.5%,#3c85d1 99.1%,#3a60b2 99.7%)"></i><i style="left:156px;width:2px;background:linear-gradient(#aad037 0.3%,#a8cf37 75.2%,#96c83c 86.2%,#85c23f 89.9%,#62b945 95.4%,#5eb847 96%,#5bb852 96.6%,#50c0ae 97.2%,#3bc3ec 97.9%,#38b0ea 98.5%,#3c86d3 99.1%,#3a60b2 99.7%)"></i><i style="left:158px;width:2px;background:linear-gradient(#74bd42 0.3%,#74bd42 76.4%,#6fbc43 86.8%,#5eb847 94.8%,#5db848 95.4%,#5bb85a 96%,#54bc92 96.6%,#41c3dd 97.2%,#38bcef 97.9%,#3a9fe1 98.5%,#3c7fcd 99.1%,#3a5fb2 99.7%)"></i><i style="left:160px;width:2px;background:linear-gradient(#50bd8e 0.3%,#50be90 87.4%,#4fbe93 89.3%,#4bbeaf 94.2%,#47c0c3 95.4%,#41c2d9 96%,#3abdea 96.6%,#39aae7 97.2%,#3b8cd6 97.9%,#3b77c6 98.5%,#3b5baf 99.7%)"></i><i style="left:162px;width:2px;background:linear-gradient(#3a8ed4 0.3%,#3a8dd3 89.9%,#3a87d0 95.4%,#3a81cc 96%,#3b60b3 97.9%,#3e51a8 99.7%)"></i><i style="left:164px;width:2px;background:linear-gradient(#3f54aa 0.3%,#3f54aa 95.4%,#4051a8 97.2%,#4d4ea7 99.7%)"></i><i style="left:166px;width:2px;background:linear-gradient(#5c4ba6 0.3%,#5c4ba6 94.8%,#614aa5 99.7%)"></i><i style="left:168px;width:8px;background:linear-gradient(#6548a5 0.3%,#6648a5 99.7%)"></i></div></div>
<div class="hm" style="left:56px;top:539px;width:164px;height:164px"><div class="w" style="width:176px"><i style="left:0px;width:8px;background:linear-gradient(#3d50a6 0.3%,#4050a7 34.5%,#4550a8 40.5%,#5c4ba6 57.6%,#6a47a4 77.7%,#6e45a4 94.2%,#763fa3 99.7%)"></i><i style="left:8px;width:2px;background:linear-gradient(#3d50a6 0.3%,#3e50a6 27.7%,#4450a8 43%,#5c4ba6 71.6%,#6748a5 93%,#7540a3 99.7%)"></i><i style="left:10px;width:2px;background:linear-gradient(#3d50a6 0.3%,#3e50a6 30.8%,#484fa8 60.7%,#5f4aa5 91.8%,#6449a5 94.8%,#7440a3 99.7%)"></i><i style="left:12px;width:2px;background:linear-gradient(#3d50a6 0.3%,#3e50a6 32%,#4650a8 72.9%,#584ca6 91.2%,#604aa5 94.8%,#7341a3 99.7%)"></i><i style="left:14px;width:2px;background:linear-gradient(#3d50a6 0.3%,#3e50a6 32%,#4550a8 74.1%,#574da6 91.2%,#604aa5 95.4%,#7143a3 99.7%)"></i><i style="left:16px;width:2px;background:linear-gradient(#3d50a6 0.3%,#3e50a6 32.6%,#4550a8 74.7%,#574da6 91.2%,#6349a5 96.6%,#7044a4 99.7%)"></i><i style="left:18px;width:2px;background:linear-gradient(#3d50a6 0.3%,#3e50a6 32.6%,#4550a8 74.7%,#564da6 90.5%,#6249a5 96.6%,#6e45a4 99.7%)"></i><i style="left:20px;width:2px;background:linear-gradient(#3c50a6 0.3%,#3d50a6 30.8%,#4550a8 74.7%,#554da7 89.9%,#6249a5 97.3%,#6c46a4 99.7%)"></i><i style="left:22px;width:2px;background:linear-gradient(#3b5caf 0.3%,#3b58ad 24.7%,#3d50a6 46%,#4550a8 75.3%,#514ea7 88.1%,#604aa5 97.3%,#6b46a4 99.7%)"></i><i style="left:24px;width:2px;background:linear-gradient(#3a95da 0.3%,#3b5eb1 43%,#3c55aa 59.5%,#4050a7 85.1%,#4a4fa7 90.5%,#564da6 93.6%,#614aa5 97.9%,#6a47a4 99.7%)"></i><i style="left:26px;width:2px;background:linear-gradient(#39c0ef 0.3%,#38baee 16.2%,#39a4e4 32.6%,#3b86d1 46.6%,#3b6fbf 60.7%,#3b68ba 69.2%,#3b69ba 80.2%,#3c55aa 89.3%,#4550a8 93.6%,#6c46a4 99.7%)"></i><i style="left:28px;width:2px;background:linear-gradient(#3dc3e8 0.3%,#39c2f0 25.9%,#38b7ed 41.2%,#3b90d9 63.7%,#3c81ce 79.6%,#3b7ac9 82%,#3a63b5 86.9%,#3c52a8 92.4%,#4450a8 94.8%,#584ca6 96.6%,#6d46a4 99.7%)"></i><i style="left:30px;width:2px;background:linear-gradient(#3fc4e1 0.3%,#39c2f1 34.5%,#38b6ed 51.5%,#3a9adf 67.4%,#3c8ad5 80.8%,#3c7ecc 83.8%,#3a63b5 88.7%,#3c52a8 93%,#4650a8 95.4%,#5a4ca6 97.3%,#6c46a4 99.7%)"></i><i style="left:32px;width:2px;background:linear-gradient(#47c2cc 0.3%,#40c4e1 13.7%,#39c2f1 41.8%,#38b6ed 60.1%,#3b91d9 82%,#3c84d1 85.1%,#3a62b5 89.9%,#3c51a7 93.6%,#4450a8 95.4%,#6b46a4 99.7%)"></i><i style="left:34px;width:2px;background:linear-gradient(#4ec1b6 0.3%,#40c4e1 21.6%,#38c2f2 48.5%,#38b5ec 67.4%,#39a6e5 75.9%,#3b91d9 83.2%,#3c83d0 86.3%,#3a62b4 90.5%,#3c50a6 94.2%,#4650a8 96%,#6a47a4 99.7%)"></i><i style="left:36px;width:2px;background:linear-gradient(#51bfab 0.3%,#40c4e1 27.7%,#38c2f2 50.3%,#38b4ec 71%,#39a6e5 77.1%,#3c89d5 85.1%,#3b7bca 87.5%,#3a62b4 90.5%,#3c52a8 94.2%,#4450a8 96%,#6847a4 99.7%)"></i><i style="left:38px;width:2px;background:linear-gradient(#51bfa9 0.3%,#4ac1c1 16.2%,#40c4e0 29.6%,#38c2f2 50.3%,#38b6ed 69.2%,#38afe9 74.1%,#3a97dd 81.4%,#3c88d4 85.1%,#3a63b5 90.5%,#3c50a6 94.8%,#4650a8 96.6%,#6748a5 99.7%)"></i><i style="left:40px;width:2px;background:linear-gradient(#51bfaa 0.3%,#4bc1c0 14.9%,#40c4e0 29.6%,#38c2f2 50.3%,#38b6ed 69.2%,#38afe9 74.1%,#3c8ad5 84.5%,#3a63b5 90.5%,#3b5baf 93%,#3c50a6 94.8%,#4550a8 96.6%,#6748a5 99.7%)"></i><i style="left:42px;width:2px;background:linear-gradient(#50c0b1 0.3%,#4bc1c0 11.3%,#40c4e1 27.7%,#38c2f2 50.3%,#38b4ec 71.6%,#39a4e4 77.7%,#3c8cd7 83.8%,#3a62b4 90.5%,#3b5baf 93%,#3c50a6 94.8%,#4550a8 96.6%,#6748a5 99.7%)"></i><i style="left:44px;width:2px;background:linear-gradient(#4cc1bb 0.3%,#49c2c6 9.5%,#40c4e0 24.7%,#38c2f1 49.1%,#38b4ec 71.6%,#39a6e5 77.1%,#3b8fd8 83.2%,#3c81cf 85.7%,#3a62b4 90.5%,#3b5baf 93%,#3c50a6 94.8%,#4550a8 96.6%,#6748a5 99.7%)"></i><i style="left:46px;width:2px;background:linear-gradient(#49c2c6 0.3%,#40c4e1 21%,#38c2f2 49.7%,#38b4ec 71.6%,#39a6e5 77.1%,#3b8ed8 83.2%,#3a62b4 90.5%,#3b5baf 93%,#3c50a6 94.8%,#4550a8 96.6%,#6748a5 99.7%)"></i><i style="left:48px;width:2px;background:linear-gradient(#45c3d1 0.3%,#40c4e0 15.5%,#38c2f2 49.7%,#38b4ec 71.6%,#39a6e5 77.1%,#3b91d9 82.6%,#3c87d3 84.5%,#3a64b6 89.9%,#3b5baf 93%,#3c51a6 94.8%,#4550a8 96.6%,#6748a5 99.7%)"></i><i style="left:50px;width:2px;background:linear-gradient(#41c4dc 0.3%,#38c2f2 49.7%,#38b4ec 71.6%,#39a6e5 77.1%,#3b91d9 82.6%,#3c87d3 84.5%,#3a64b6 89.9%,#3b5baf 93%,#3c51a6 94.8%,#4550a8 96.6%,#6748a5 99.7%)"></i><i style="left:52px;width:2px;background:linear-gradient(#3fc4e2 0.3%,#3dc3e8 27.1%,#38c2f2 49.7%,#38b4ec 71.6%,#39a6e5 77.1%,#3b8fd8 83.2%,#3c81cf 85.7%,#3a62b4 90.5%,#3b5baf 93%,#3c50a6 94.8%,#4550a8 96.6%,#6748a5 99.7%)"></i><i style="left:54px;width:2px;background:linear-gradient(#3ec4e3 0.3%,#38c2f2 49.7%,#38b4ec 71.6%,#39a4e4 77.7%,#3c8ad5 84.5%,#3a63b5 90.5%,#3b5baf 93%,#3c50a6 94.8%,#4550a8 96.6%,#6748a5 99.7%)"></i><i style="left:56px;width:2px;background:linear-gradient(#3fc4e3 0.3%,#38c2f2 49.7%,#38b4ec 71.6%,#39a4e4 77.7%,#3c89d4 85.1%,#3a64b6 90.5%,#3c50a6 94.8%,#4550a8 96.6%,#6748a5 99.7%)"></i><i style="left:58px;width:2px;background:linear-gradient(#40c4e1 0.3%,#38c2f2 49.7%,#38b4ec 71.6%,#39a6e5 77.1%,#3c87d4 85.7%,#3b79c8 88.1%,#3a61b4 91.2%,#3c50a6 94.8%,#4550a8 96.6%,#6748a5 99.7%)"></i><i style="left:60px;width:2px;background:linear-gradient(#41c4dc 0.3%,#38c2f2 49.7%,#38b4ec 71.6%,#3c89d5 85.7%,#3b7cca 88.1%,#3a62b4 91.2%,#3c50a6 94.8%,#4550a8 96.6%,#6748a5 99.7%)"></i><i style="left:62px;width:2px;background:linear-gradient(#44c3d5 0.3%,#40c4e1 7.6%,#38c2f2 49.7%,#38b4ec 71.6%,#3c88d4 86.3%,#3c7ecc 88.1%,#3a62b4 91.2%,#3c50a6 94.8%,#4550a8 96.6%,#6748a5 99.7%)"></i><i style="left:64px;width:2px;background:linear-gradient(#46c2cd 0.3%,#40c4e0 8.8%,#3cc3e9 24.7%,#38c2f2 49.7%,#38b4ec 71.6%,#3c89d4 86.3%,#3b7ac9 88.7%,#3a62b4 91.2%,#3c50a6 94.8%,#4550a8 96.6%,#6748a5 99.7%)"></i><i style="left:66px;width:2px;background:linear-gradient(#49c2c5 0.3%,#40c4df 10.1%,#3dc3e7 21%,#38c2f2 49.7%,#38b4ec 71%,#39a7e6 76.5%,#3c88d4 86.3%,#3b7ecc 88.1%,#3a62b4 91.2%,#3c50a6 94.8%,#4550a8 96.6%,#6748a5 99.7%)"></i><i style="left:68px;width:2px;background:linear-gradient(#4ac1c1 0.3%,#40c4df 10.7%,#3ec3e5 18.6%,#38c2f2 49.7%,#38b5ec 69.2%,#39a6e5 76.5%,#3c8dd7 85.1%,#3b7dcb 88.1%,#3a62b4 91.2%,#3c50a6 94.8%,#4550a8 96.6%,#6748a5 99.7%)"></i><i style="left:70px;width:2px;background:linear-gradient(#4bc1c0 0.3%,#40c4e0 11.3%,#3ec4e4 16.2%,#38c2f2 49.7%,#38b5ec 65.5%,#3aa1e2 77.7%,#3b92da 83.8%,#3c84d1 86.9%,#3a62b4 91.2%,#3c50a6 94.8%,#4650a8 96.6%,#6748a5 99.7%)"></i><i style="left:72px;width:2px;background:linear-gradient(#4bc1c0 0.3%,#40c4e0 11.3%,#38c2f2 49.7%,#38b9ee 58.8%,#39a6e5 69.2%,#3a9ee1 78.4%,#3b96dc 82.6%,#3c87d3 86.3%,#3b7bca 88.1%,#3a62b4 91.2%,#3c50a6 94.8%,#4750a8 96.6%,#6748a5 99.7%)"></i><i style="left:74px;width:2px;background:linear-gradient(#49c2c4 0.3%,#40c4e0 11.3%,#38c2f1 46%,#38bbef 55.8%,#38b5ec 60.1%,#3a9fe2 68.6%,#3a9adf 79.6%,#3b95dc 82.6%,#3c86d2 86.3%,#3a61b4 91.2%,#3c53a9 94.2%,#4350a8 96%,#6847a4 99.7%)"></i><i style="left:76px;width:2px;background:linear-gradient(#46c2cd 0.3%,#40c4e0 9.5%,#3dc3e6 20.4%,#38c2f1 40.5%,#38b6ed 55.8%,#3a9bdf 66.8%,#3b93db 79.6%,#3b8ed7 83.2%,#3b7dcb 87.5%,#3a61b3 91.2%,#3c52a8 94.2%,#4450a8 96%,#6847a4 99.7%)"></i><i style="left:78px;width:2px;background:linear-gradient(#42c4da 0.3%,#38c2f1 36.3%,#38b6ed 52.1%,#3b96dc 66.2%,#3c8bd6 79.6%,#3c85d1 83.8%,#3b77c7 87.5%,#3a62b4 90.5%,#3c50a6 94.2%,#4650a8 96%,#6947a4 99.7%)"></i><i style="left:80px;width:2px;background:linear-gradient(#3fc4e2 0.3%,#38c2f1 32%,#38b5ed 47.3%,#3b8ed7 66.2%,#3c7fcd 82.6%,#3b70c1 87.5%,#3a62b4 89.9%,#3c53a8 93.6%,#4350a8 95.4%,#6947a4 99.7%)"></i><i style="left:82px;width:2px;background:linear-gradient(#3ec3e5 0.3%,#39c2f1 25.3%,#38b5ec 41.8%,#3c85d2 65.5%,#3b79c8 81.4%,#3b6dbe 86.3%,#3c54aa 93%,#4450a8 95.4%,#574da6 97.3%,#6947a4 99.7%)"></i><i style="left:84px;width:2px;background:linear-gradient(#3cc3e9 0.3%,#38c1f2 21.6%,#38b6ed 35.7%,#3a9adf 48.5%,#3b7ccb 64.9%,#3b70c1 82%,#3b5db0 90.5%,#3c53a8 93%,#4550a8 95.4%,#594ca6 97.3%,#6947a4 99.7%)"></i><i style="left:86px;width:2px;background:linear-gradient(#3bc3ec 0.3%,#38c1f2 14.9%,#38b5ed 30.8%,#3a98de 43%,#3b7ac9 60.1%,#3b71c1 67.4%,#3a69ba 81.4%,#3b5cb0 89.9%,#3c51a7 93%,#4750a8 95.4%,#5a4ca6 97.3%,#6947a4 99.7%)"></i><i style="left:88px;width:2px;background:linear-gradient(#39c2f0 0.3%,#38c0f1 10.7%,#38b5ec 26.5%,#3c8ad5 44.2%,#3b79c8 54%,#3a6abb 67.4%,#3b5eb1 87.5%,#3c50a6 93%,#4350a8 94.8%,#5b4ca6 97.3%,#6a47a4 99.7%)"></i><i style="left:90px;width:2px;background:linear-gradient(#38c0f1 0.3%,#38b1eb 23.5%,#3b7dcb 44.8%,#3b72c2 50.9%,#3a64b5 66.8%,#3b5cb0 86.9%,#3c52a8 92.4%,#4350a8 94.8%,#5b4ca6 97.3%,#6a47a4 99.7%)"></i><i style="left:92px;width:2px;background:linear-gradient(#38bcef 0.3%,#38b0ea 17.4%,#3b93db 32%,#3b77c6 43%,#3b6bbc 49.7%,#3a62b4 61.9%,#3b5baf 85.1%,#3c51a7 92.4%,#4350a8 94.8%,#5b4ca6 97.3%,#6a47a4 99.7%)"></i><i style="left:94px;width:2px;background:linear-gradient(#38b7ed 0.3%,#38b1ea 9.5%,#3b93db 27.1%,#3b73c3 41.2%,#3a65b6 50.3%,#3b5baf 80.8%,#3c51a6 92.4%,#4350a8 94.8%,#5b4ca6 97.3%,#6a47a4 99.7%)"></i><i style="left:96px;width:2px;background:linear-gradient(#38afea 0.3%,#3c8bd6 26.5%,#3a63b5 47.3%,#3b59ae 79.6%,#3c50a6 92.4%,#4350a8 94.8%,#5b4ca6 97.3%,#6a47a4 99.7%)"></i><i style="left:98px;width:2px;background:linear-gradient(#3aa1e3 0.3%,#3c86d2 23.5%,#3a62b4 44.8%,#3b57ac 80.2%,#3c50a6 91.8%,#4350a8 94.8%,#5b4ca6 97.3%,#6a47a4 99.7%)"></i><i style="left:100px;width:2px;background:linear-gradient(#3a99de 0.3%,#3c86d3 17.4%,#3a61b4 41.8%,#3c50a6 91.8%,#4350a8 94.8%,#5b4ca6 97.3%,#6a47a4 99.7%)"></i><i style="left:102px;width:2px;background:linear-gradient(#3a9ee1 0.3%,#3c88d4 13.7%,#3a62b4 37.5%,#3c50a6 91.8%,#4350a8 94.8%,#5b4ca6 97.3%,#6a47a4 99.7%)"></i><i style="left:104px;width:2px;background:linear-gradient(#39aae7 0.3%,#3b75c5 23.5%,#3a62b4 35.7%,#3c50a6 91.2%,#4350a8 94.8%,#5b4ca6 97.3%,#6a47a4 99.7%)"></i><i style="left:106px;width:2px;background:linear-gradient(#38b5ec 0.3%,#3c81ce 21%,#3a63b5 37.5%,#3c50a6 91.2%,#4350a8 94.8%,#5b4ca6 97.3%,#6a47a4 99.7%)"></i><i style="left:108px;width:2px;background:linear-gradient(#38baee 0.3%,#38b3ec 5.2%,#3a99de 13.7%,#3b76c6 29.6%,#3a64b5 41.2%,#3c50a6 91.2%,#4450a8 94.8%,#5b4ca6 97.3%,#6b46a4 99.7%)"></i><i style="left:110px;width:2px;background:linear-gradient(#38bdf0 0.3%,#38b2eb 8.8%,#3a9de1 15.5%,#3b8ed8 22.3%,#3b73c3 35.1%,#3a63b5 45.4%,#3c50a6 90.5%,#4450a8 94.8%,#5b4ca6 97.3%,#6b46a4 99.7%)"></i><i style="left:112px;width:2px;background:linear-gradient(#38c1f2 0.3%,#38b1ea 12.5%,#3a9adf 20.4%,#3b76c6 37.5%,#3a64b5 49.1%,#3c50a6 90.5%,#4450a8 94.8%,#5b4ca6 97.3%,#6b46a4 99.7%)"></i><i style="left:114px;width:2px;background:linear-gradient(#39c2ef 0.3%,#38c1f1 4.6%,#38b1eb 16.2%,#3a99de 25.3%,#3b76c5 42.4%,#3a63b5 53.4%,#3c54a9 77.7%,#3c50a6 89.9%,#4450a8 94.8%,#5b4ca6 97.3%,#6b46a4 99.7%)"></i><i style="left:116px;width:2px;background:linear-gradient(#3bc3ec 0.3%,#38c1f1 7.6%,#38b1eb 20.4%,#3a99de 30.2%,#3c85d2 40.5%,#3a62b4 58.2%,#3c54a9 77.7%,#3c50a6 89.9%,#4450a8 94.8%,#5b4ca6 97.3%,#6b46a4 99.7%)"></i><i style="left:118px;width:2px;background:linear-gradient(#3dc3e8 0.3%,#38c1f1 11.9%,#38b5ec 23.5%,#3c87d3 45.4%,#3a62b4 61.3%,#3c54a9 78.4%,#3c50a6 89.3%,#4450a8 94.8%,#5b4ca6 97.3%,#6b46a4 99.7%)"></i><i style="left:120px;width:2px;background:linear-gradient(#3ec4e3 0.3%,#39c2f1 14.9%,#38b5ec 29%,#3c8ad5 49.1%,#3a62b4 64.3%,#3c54a9 79%,#3c50a6 88.7%,#4450a8 94.8%,#564da6 96.6%,#6b46a4 99.7%)"></i><i style="left:122px;width:2px;background:linear-gradient(#41c4dd 0.3%,#39c2f1 20.4%,#38b5ed 34.5%,#3c8ad5 52.7%,#3a63b5 66.2%,#3c54aa 79.6%,#3c50a6 88.7%,#4550a8 94.8%,#564da6 96.6%,#6b46a4 99.7%)"></i><i style="left:124px;width:2px;background:linear-gradient(#46c2cd 0.3%,#3fc4e1 8.2%,#38c2f1 25.3%,#38bdf0 31.4%,#38b2eb 40.5%,#3b92da 52.7%,#3a62b4 68.6%,#3c54aa 80.8%,#3e50a6 91.2%,#4550a8 94.8%,#564da6 96.6%,#6b46a4 99.7%)"></i><i style="left:126px;width:2px;background:linear-gradient(#4bc1be 0.3%,#40c4e1 11.3%,#38c1f2 30.2%,#38b2eb 44.2%,#3c8ad5 58.2%,#3a61b4 71%,#3c54aa 82%,#3e50a6 91.2%,#4550a8 94.8%,#564da6 96.6%,#6b46a4 99.7%)"></i><i style="left:128px;width:2px;background:linear-gradient(#4fc0b2 0.3%,#40c4e0 13.7%,#38c1f2 32.6%,#38b3eb 46.6%,#3c89d4 60.7%,#3a62b4 72.3%,#3c54aa 82.6%,#3e50a7 91.2%,#4550a8 94.8%,#564da6 96.6%,#6b46a4 99.7%)"></i><i style="left:130px;width:2px;background:linear-gradient(#50c0ad 0.3%,#40c4e0 16.2%,#38c1f2 35.7%,#38b2eb 49.1%,#3c89d5 62.5%,#3a62b4 73.5%,#3c52a7 85.7%,#3f50a7 91.2%,#4550a8 94.8%,#574da6 96.6%,#6b46a4 99.7%)"></i><i style="left:132px;width:2px;background:linear-gradient(#51bfac 0.3%,#40c4e0 18%,#38c1f2 38.1%,#38b3ec 50.3%,#3c87d3 63.7%,#3a62b4 73.5%,#3c50a6 86.9%,#3f50a7 91.8%,#4650a8 94.8%,#574da6 96.6%,#6b46a4 99.7%)"></i><i style="left:134px;width:2px;background:linear-gradient(#51bfac 0.3%,#40c4e0 18%,#38c2f2 38.1%,#38b3ec 50.3%,#3c8ad5 61.9%,#3a62b4 72.9%,#3c50a6 86.9%,#3f50a7 91.2%,#4650a8 94.8%,#574da6 96.6%,#6b46a4 99.7%)"></i><i style="left:136px;width:2px;background:linear-gradient(#50c0b0 0.3%,#40c4e0 16.2%,#38c1f2 36.3%,#38b3ec 49.1%,#3c89d4 60.7%,#3a62b4 71%,#3c53a8 83.8%,#3f50a7 91.2%,#4650a8 94.8%,#574da6 96.6%,#6b46a4 99.7%)"></i><i style="left:138px;width:2px;background:linear-gradient(#4dc1ba 0.3%,#40c4e0 13.7%,#38c2f2 33.8%,#38b2eb 47.9%,#3c8ad5 58.8%,#3b73c3 64.3%,#3a62b4 69.8%,#3c53a8 82.6%,#3f50a7 91.2%,#4750a8 94.8%,#6b46a4 99.7%)"></i><i style="left:140px;width:2px;background:linear-gradient(#48c2c7 0.3%,#40c4e1 10.7%,#38c1f2 32%,#38b3eb 46%,#3c8ad5 57.6%,#3b72c2 63.1%,#3a62b4 68%,#3c53a9 81.4%,#3f50a7 90.5%,#4450a8 94.2%,#6b46a4 99.7%)"></i><i style="left:142px;width:2px;background:linear-gradient(#44c3d5 0.3%,#40c4e0 6.4%,#38c2f1 27.7%,#38b5ed 41.8%,#39aae7 46.6%,#3b8ed7 55.2%,#3a62b4 66.2%,#3c52a8 81.4%,#4250a7 93%,#4750a8 94.8%,#6b46a4 99.7%)"></i><i style="left:144px;width:2px;background:linear-gradient(#40c4e0 0.3%,#38c2f1 24.1%,#38b5ec 38.7%,#3c8ad5 54%,#3a61b4 64.9%,#3c53a9 79%,#3d50a6 86.9%,#4450a8 94.2%,#6b46a4 99.7%)"></i><i style="left:146px;width:2px;background:linear-gradient(#3ec4e4 0.3%,#38c1f1 21%,#38b5ec 34.5%,#3c8ad5 51.5%,#3a61b4 63.1%,#3c53a9 78.4%,#3d50a6 86.9%,#4450a8 94.2%,#6b46a4 99.7%)"></i><i style="left:148px;width:2px;background:linear-gradient(#3cc3e8 0.3%,#38c1f1 15.5%,#38b4ec 29.6%,#3c8ad5 48.5%,#3a61b4 61.3%,#3c54a9 75.9%,#3e50a6 87.5%,#4550a8 94.2%,#6b46a4 99.7%)"></i><i style="left:150px;width:2px;background:linear-gradient(#3ac3ed 0.3%,#38c1f1 10.1%,#38b2eb 25.9%,#3c86d3 46%,#3a61b4 59.5%,#3c55aa 72.3%,#3e50a6 87.5%,#4550a8 94.2%,#6b46a4 99.7%)"></i><i style="left:152px;width:2px;background:linear-gradient(#38c0f1 0.3%,#38b1eb 20.4%,#3c89d5 40.5%,#3a61b4 57.6%,#3c54aa 71.6%,#3e50a6 88.1%,#4550a8 94.2%,#6b46a4 99.7%)"></i><i style="left:154px;width:2px;background:linear-gradient(#38baef 0.3%,#38b1ea 13.7%,#3b92da 31.4%,#3a61b4 55.2%,#3c54a9 70.4%,#3e50a7 88.1%,#4650a8 94.2%,#6c46a4 99.7%)"></i><i style="left:156px;width:2px;background:linear-gradient(#38b1eb 0.3%,#3c8cd6 28.4%,#3a61b4 52.1%,#3c53a9 69.8%,#3e50a7 88.1%,#4650a8 94.2%,#6c46a4 99.7%)"></i><i style="left:158px;width:2px;background:linear-gradient(#3aa0e2 0.3%,#3c89d4 18%,#3a62b4 47.3%,#3c52a8 69.2%,#3f50a7 88.1%,#4450a8 93.6%,#6d45a4 99.7%)"></i><i style="left:160px;width:2px;background:linear-gradient(#3b88d3 0.3%,#3b70c0 21.6%,#3a61b4 38.7%,#3c51a7 69.2%,#3f50a7 88.1%,#4550a8 93.6%,#6e45a4 99.7%)"></i><i style="left:162px;width:2px;background:linear-gradient(#3a69ba 0.3%,#3b5baf 49.1%,#3c51a6 66.8%,#3f50a7 88.7%,#4550a8 93.6%,#5d4ba6 96.6%,#6f44a4 99.7%)"></i><i style="left:164px;width:2px;background:linear-gradient(#3b5cb0 0.3%,#3b5aae 34.5%,#3d50a6 64.3%,#4150a7 88.7%,#4650a8 93%,#6f44a4 99.7%)"></i><i style="left:166px;width:2px;background:linear-gradient(#3c53a8 0.3%,#3e50a6 51.5%,#4650a8 88.1%,#4f4ea7 93%,#7043a4 99.7%)"></i><i style="left:168px;width:8px;background:linear-gradient(#4050a7 0.3%,#4450a8 56.4%,#514ea7 88.1%,#5a4ca6 93%,#7143a3 99.7%)"></i></div></div>
<div class="hm" style="left:228px;top:538px;width:165px;height:165px"><div class="w" style="width:177px"><i style="left:0px;width:8px;background:linear-gradient(#514ea7 0.3%,#534da7 28.2%,#6847a4 49.4%,#7043a4 63.9%,#7142a3 99.7%)"></i><i style="left:8px;width:2px;background:linear-gradient(#4a4fa8 0.3%,#4b4fa7 27.6%,#6449a5 48.2%,#6e45a4 63.9%,#7043a4 99.7%)"></i><i style="left:10px;width:2px;background:linear-gradient(#3e50a7 0.3%,#4050a7 28.8%,#4450a8 32.4%,#5b4ca6 43.9%,#6b46a4 63.9%,#6e45a4 99.7%)"></i><i style="left:12px;width:2px;background:linear-gradient(#3c52a8 0.3%,#3d50a6 29.4%,#4450a8 36.7%,#5c4ba6 50%,#6947a4 63.9%,#6c46a4 99.7%)"></i><i style="left:14px;width:2px;background:linear-gradient(#3c53a8 0.3%,#3e50a6 36.1%,#4350a8 43.9%,#564da6 53%,#6548a5 63.9%,#6b46a4 99.7%)"></i><i style="left:16px;width:2px;background:linear-gradient(#3c53a8 0.3%,#3d50a6 43.3%,#4a4fa8 56.1%,#5b4ca6 65.2%,#5e4ba6 75.5%,#6548a5 82.7%,#6947a4 99.7%)"></i><i style="left:18px;width:2px;background:linear-gradient(#3c53a8 0.3%,#3d50a6 51.8%,#4c4fa7 74.2%,#5c4ba6 82.7%,#6847a4 99.7%)"></i><i style="left:20px;width:2px;background:linear-gradient(#3c53a8 0.3%,#3c51a6 55.5%,#4250a7 74.2%,#544da7 89.4%,#6748a5 99.7%)"></i><i style="left:22px;width:2px;background:linear-gradient(#3c55aa 0.3%,#3c50a6 59.1%,#4150a7 75.5%,#4a4fa8 88.8%,#6648a5 99.7%)"></i><i style="left:24px;width:2px;background:linear-gradient(#3b62b4 0.3%,#3b61b4 25.8%,#3b56ab 48.8%,#3e50a7 73.6%,#494fa8 89.4%,#6648a5 99.7%)"></i><i style="left:26px;width:2px;background:linear-gradient(#3a9cdf 0.3%,#3a99dd 27%,#3b69bb 48.8%,#3c53a9 77.3%,#4c4fa7 92.4%,#6548a5 99.7%)"></i><i style="left:28px;width:2px;background:linear-gradient(#3ac1ed 0.3%,#3ac1ee 27%,#38bbef 39.7%,#39a9e6 47.6%,#3a9bdf 58.5%,#3b91d8 63.3%,#3b7ac8 71.2%,#3a5fb2 77.9%,#3c54a9 82.1%,#3e50a6 85.8%,#4750a8 93%,#5a4ca6 96.7%,#6449a5 99.7%)"></i><i style="left:30px;width:2px;background:linear-gradient(#49c1c2 0.3%,#3ac2ee 48.8%,#38baee 65.8%,#39ace8 70.6%,#3a98dd 74.2%,#3b87d3 76.7%,#3a69ba 80.3%,#3a61b3 82.1%,#3c52a8 88.8%,#4350a8 93%,#4750a8 94.2%,#5a4ca6 97.3%,#6349a5 99.7%)"></i><i style="left:32px;width:2px;background:linear-gradient(#5bb858 0.3%,#5ab85e 7%,#59b866 10%,#55bb8d 22.1%,#53bd9e 26.4%,#42c3d9 42.7%,#3fc4e2 47%,#3dc3e6 52.4%,#39c2f0 66.4%,#38b7ed 73%,#38afea 74.8%,#3b92da 79.1%,#3a6bbc 84.5%,#3a62b4 86.4%,#3e50a6 92.4%,#4450a8 94.2%,#594ca6 97.3%,#6249a5 99.7%)"></i><i style="left:34px;width:2px;background:linear-gradient(#5fb846 0.3%,#5cb849 16.7%,#5bb854 22.1%,#59b870 28.8%,#4ec1b6 40.3%,#42c4db 49.4%,#3ec4e4 54.2%,#38c2f1 70.6%,#38b7ed 76.7%,#39ace8 79.1%,#3b8fd8 83.3%,#3a63b5 88.2%,#3e50a6 93%,#4450a8 94.8%,#574da6 97.3%,#614aa5 99.7%)"></i><i style="left:36px;width:2px;background:linear-gradient(#64b945 0.3%,#5cb84a 25.2%,#5cb84e 27%,#58b874 34.8%,#51bfa8 42.7%,#41c4de 53%,#3ec4e4 56.7%,#39c2f0 73.6%,#38b8ee 79.7%,#38b0ea 81.5%,#3b8ed8 85.2%,#3b72c2 87.6%,#3a61b3 89.4%,#3e50a6 93.6%,#4650a8 95.5%,#554da6 97.3%,#604aa5 99.7%)"></i><i style="left:38px;width:2px;background:linear-gradient(#67b945 0.3%,#5eb846 17.9%,#5cb84d 30%,#58b879 39.1%,#4fc0b2 47.6%,#40c4df 54.2%,#3ec3e5 57.9%,#3bc3eb 73.6%,#39c2f0 77.9%,#38bef0 80.3%,#38b1ea 83.3%,#3b8ed7 86.4%,#3a62b4 90%,#3c50a6 93.6%,#5f4aa5 99.7%)"></i><i style="left:40px;width:2px;background:linear-gradient(#68ba44 0.3%,#5eb846 20.3%,#5cb84b 31.8%,#58b878 40.3%,#50c0b1 48.2%,#40c4e0 54.8%,#3ec4e4 57.9%,#3cc3e9 74.8%,#39c2f1 80.3%,#38bff1 82.1%,#38b8ee 83.9%,#39aee9 85.2%,#3c8bd5 87.6%,#3a62b4 90.6%,#3d50a6 94.2%,#5e4ba6 99.7%)"></i><i style="left:42px;width:2px;background:linear-gradient(#69ba44 0.3%,#5cb84a 32.4%,#58b879 40.9%,#50c0b0 48.2%,#41c4de 54.8%,#3ec4e3 57.9%,#3cc3e9 75.5%,#38bff1 83.3%,#38b3eb 85.8%,#3c8dd7 88.2%,#3a62b4 91.2%,#3c50a6 94.2%,#5d4ba6 99.7%)"></i><i style="left:44px;width:2px;background:linear-gradient(#69ba44 0.3%,#5cb84a 33%,#58b877 40.9%,#50c0b0 48.2%,#41c4dc 54.8%,#3fc4e3 57.9%,#3cc3ea 76.1%,#38c1f1 83.3%,#38b1eb 86.4%,#3c84d1 89.4%,#3a61b3 91.8%,#3e50a6 94.8%,#5d4ba6 99.7%)"></i><i style="left:46px;width:2px;background:linear-gradient(#6aba44 0.3%,#5eb846 22.1%,#5cb84a 33%,#58b879 41.5%,#50c0af 48.2%,#43c3d7 54.2%,#40c4e0 56.1%,#3fc4e2 57.9%,#3cc3ea 76.1%,#38c0f1 83.9%,#38b5ed 86.4%,#38afe9 87%,#3c8cd6 89.4%,#3a64b6 91.8%,#3a5fb2 92.4%,#3d50a6 94.8%,#5c4ba6 99.7%)"></i><i style="left:48px;width:2px;background:linear-gradient(#6aba44 0.3%,#5eb846 22.1%,#5cb84b 33.6%,#58b877 41.5%,#50c0af 48.2%,#4ac2c3 51.2%,#40c4df 56.1%,#40c4e1 57.3%,#3cc3ea 76.1%,#38c0f1 83.9%,#38b1eb 87%,#3c86d3 90%,#3a61b3 92.4%,#3c50a6 94.8%,#4550a8 96.7%,#5b4ca6 99.7%)"></i><i style="left:50px;width:2px;background:linear-gradient(#6bba44 0.3%,#5eb846 22.1%,#5cb84a 33.6%,#58b87a 42.1%,#4ec1b7 49.4%,#43c3d7 54.8%,#40c4e0 57.3%,#3cc3ea 76.7%,#38c0f1 83.9%,#38b1eb 87%,#3c87d3 90%,#3a61b3 92.4%,#3e50a6 95.5%,#484fa8 97.3%,#5b4ca6 99.7%)"></i><i style="left:52px;width:2px;background:linear-gradient(#6cba44 0.3%,#5cb84a 34.2%,#5cb84e 35.5%,#58b878 42.1%,#4fc0b3 48.8%,#46c3cf 53.6%,#40c4df 57.3%,#3bc3eb 77.9%,#38c2f2 83.3%,#38bcf0 85.2%,#38b2eb 87%,#3c87d3 90%,#3a62b4 92.4%,#3d50a6 95.5%,#4650a8 97.3%,#5a4ca6 99.7%)"></i><i style="left:54px;width:2px;background:linear-gradient(#6dbb43 0.3%,#5fb846 27.6%,#5cb84a 36.1%,#58b877 42.7%,#4fc0b2 49.4%,#48c2c9 53.6%,#42c4db 57.9%,#40c4e1 60.3%,#3bc3eb 78.5%,#38c2f2 83.3%,#38bdf0 85.2%,#38b2eb 87%,#3c87d3 90%,#3a63b5 92.4%,#3c50a6 95.5%,#4550a8 97.3%,#594ca6 99.7%)"></i><i style="left:56px;width:2px;background:linear-gradient(#6fbb43 0.3%,#5fb846 30.6%,#5cb84b 38.5%,#5bb853 40.3%,#59b871 44.5%,#51bfa7 51.2%,#4ec1b7 54.2%,#45c3d2 60.9%,#3fc4e1 66.4%,#38c2f1 83.3%,#38bdf0 85.2%,#38b2eb 87%,#3c87d4 90%,#3a64b6 92.4%,#3c51a6 95.5%,#484fa8 97.9%,#594ca6 99.7%)"></i><i style="left:58px;width:2px;background:linear-gradient(#73bc42 0.3%,#5fb846 34.2%,#5cb84a 42.1%,#5bb852 43.9%,#56ba89 52.4%,#51bfa6 57.9%,#40c4e0 68.8%,#38c2f1 83.3%,#38bdf0 85.2%,#38b2eb 87%,#3c87d4 90%,#3a64b6 92.4%,#3c51a7 95.5%,#4750a8 97.9%,#584ca6 99.7%)"></i><i style="left:60px;width:2px;background:linear-gradient(#76bd42 0.3%,#70bc43 13.6%,#5fb846 37.9%,#5cb84a 45.8%,#5ab863 50.6%,#57b982 58.5%,#4fc0b2 64.5%,#40c4de 70%,#3dc3e8 74.2%,#38c2f2 83.9%,#38b3eb 87%,#3c87d4 90%,#3a64b6 92.4%,#3c51a7 95.5%,#4750a8 97.9%,#574da6 99.7%)"></i><i style="left:62px;width:2px;background:linear-gradient(#78be41 0.3%,#73bc42 14.2%,#5fb846 41.5%,#5cb84a 49.4%,#5ab85d 56.7%,#59b872 60.9%,#57b981 62.7%,#51bfab 66.4%,#40c4e0 71.2%,#3dc3e8 74.8%,#38c2f2 83.9%,#38b4ec 87%,#3c88d4 90%,#3a64b6 92.4%,#3c51a7 95.5%,#4650a8 97.9%,#574da6 99.7%)"></i><i style="left:64px;width:2px;background:linear-gradient(#7abe41 0.3%,#72bc43 19.7%,#5eb846 46.4%,#5cb84b 57.3%,#5bb852 59.7%,#58b873 63.9%,#57b980 65.2%,#4ec0b4 68.8%,#41c4de 72.4%,#3ec3e5 74.8%,#38c2f2 83.9%,#38b5ec 87%,#3c8ad5 90%,#3a65b7 92.4%,#3a60b3 93%,#3c51a7 95.5%,#4550a8 97.9%,#564da6 99.7%)"></i><i style="left:66px;width:2px;background:linear-gradient(#7abe41 0.3%,#74bd42 20.3%,#5fb846 48.8%,#5cb84a 60.9%,#5bb852 62.7%,#58b875 66.4%,#4ec0b6 70.6%,#41c4de 74.2%,#38c2f2 83.9%,#38b9ee 86.4%,#38b0ea 87.6%,#3c85d2 90.6%,#3a67b8 92.4%,#3a60b3 93%,#3c51a7 95.5%,#4550a8 97.9%,#554da6 99.7%)"></i><i style="left:68px;width:2px;background:linear-gradient(#7abe41 0.3%,#75bd42 24.5%,#69ba44 38.5%,#5cb849 63.3%,#5bb851 65.2%,#59b871 68.2%,#4ec0b6 72.4%,#42c3d9 75.5%,#40c4e1 76.7%,#38c2f1 83.9%,#38b3ec 87.6%,#3c8ad5 90.6%,#3a68ba 92.4%,#3a61b3 93%,#3c51a7 95.5%,#4550a8 97.9%,#554da7 99.7%)"></i><i style="left:70px;width:2px;background:linear-gradient(#7bbf41 0.3%,#77be42 26.4%,#6bba44 40.9%,#5cb84a 66.4%,#5bb852 67.6%,#59b870 70%,#4fc0b0 73.6%,#41c4dc 77.3%,#38c2f1 83.9%,#38b8ee 87%,#38b0ea 88.2%,#3b8dd7 90.6%,#3a61b3 93%,#3c52a7 95.5%,#4450a8 97.9%,#544da7 99.7%)"></i><i style="left:72px;width:2px;background:linear-gradient(#7bbf41 0.3%,#79be41 27%,#5cb849 68.2%,#5bb852 69.4%,#5ab863 70.6%,#58b875 71.8%,#50c0b0 74.8%,#41c4de 78.5%,#39c2f1 83.9%,#38b1ea 88.2%,#3b8ed8 90.6%,#3a69ba 92.4%,#3a61b3 93%,#3c51a7 95.5%,#4450a8 97.9%,#534da7 99.7%)"></i><i style="left:74px;width:2px;background:linear-gradient(#7bbf41 0.3%,#79be41 27%,#5fb846 64.5%,#5cb849 69.4%,#5cb84b 70%,#5bb852 70.6%,#58b879 73%,#4ec0b5 76.1%,#41c4dd 79.1%,#39c2f0 83.9%,#38b8ee 87%,#38afe9 88.2%,#3c8bd6 90.6%,#3a67b8 92.4%,#3a60b3 93%,#3c51a7 95.5%,#4450a8 97.9%,#534da7 99.7%)"></i><i style="left:76px;width:2px;background:linear-gradient(#7cbf41 0.3%,#79be41 26.4%,#5fb846 65.2%,#5cb84a 70.6%,#58b876 73.6%,#51bfa7 76.1%,#41c4de 79.7%,#39c2f0 83.9%,#38b3ec 87.6%,#3c88d4 90.6%,#3a64b6 92.4%,#3a5fb2 93%,#3c51a7 95.5%,#4350a8 97.9%,#524ea7 99.7%)"></i><i style="left:78px;width:2px;background:linear-gradient(#7cbf41 0.3%,#79be41 26.4%,#5eb846 66.4%,#5cb84b 71.2%,#58b875 74.2%,#50c0b0 77.3%,#40c4e0 80.3%,#39c2f0 83.9%,#38c1f2 84.5%,#38b1eb 87.6%,#3b8fd8 90%,#3a62b4 92.4%,#3c50a6 95.5%,#4550a8 98.5%,#514ea7 99.7%)"></i><i style="left:80px;width:2px;background:linear-gradient(#7cbf41 0.3%,#79be41 26.4%,#5fb846 65.8%,#5cb84a 71.2%,#58b879 74.8%,#51bfaa 77.3%,#41c4dc 80.3%,#39c2f0 83.9%,#38c1f2 84.5%,#38b5ed 87%,#38afea 87.6%,#3c8cd6 90%,#3a61b3 92.4%,#3c50a6 95.5%,#4550a8 98.5%,#4f4ea7 99.7%)"></i><i style="left:82px;width:2px;background:linear-gradient(#7cbf41 0.3%,#79be41 25.8%,#60b846 64.5%,#5cb84a 70.6%,#5cb84c 71.2%,#58b874 74.2%,#51bfac 77.3%,#41c4dc 80.3%,#3fc4e1 80.9%,#38c2f2 84.5%,#38b5ec 87%,#39ade9 87.6%,#3c89d5 90%,#3a67b8 91.8%,#3a60b3 92.4%,#3c50a6 95.5%,#4450a8 98.5%,#4e4ea7 99.7%)"></i><i style="left:84px;width:2px;background:linear-gradient(#7cbf41 0.3%,#79be41 25.8%,#6fbb43 38.5%,#6bba44 51.2%,#5cb84a 69.4%,#5bb850 70.6%,#58b87b 74.2%,#50c0b0 77.3%,#41c4dc 80.3%,#38c2f2 84.5%,#38b5ec 87%,#3c87d4 90%,#3a65b6 91.8%,#3a5fb2 92.4%,#3c50a6 95.5%,#4450a8 98.5%,#4d4fa7 99.7%)"></i><i style="left:86px;width:2px;background:linear-gradient(#7dbf41 0.3%,#79be41 25.8%,#6fbb43 38.5%,#6cba44 51.8%,#5cb849 67%,#5bb852 68.8%,#58b879 73%,#50c0ad 76.7%,#41c4dd 80.3%,#38c2f1 84.5%,#38b6ed 87%,#38afea 87.6%,#3c89d4 90%,#3a64b6 91.8%,#3b5fb2 92.4%,#3c51a7 94.8%,#4350a8 98.5%,#4b4fa7 99.7%)"></i><i style="left:88px;width:2px;background:linear-gradient(#7dbf41 0.3%,#79be41 26.4%,#6fbb43 38.5%,#68ba44 54.8%,#5cb849 64.5%,#5cb84f 65.8%,#57b97d 71.2%,#4fc0b3 76.1%,#40c4e1 80.3%,#38c2f1 84.5%,#38b2eb 87.6%,#3c8cd6 90%,#3a66b7 91.8%,#3a5fb2 92.4%,#3c51a7 94.8%,#4350a8 98.5%,#4b4fa7 99.7%)"></i><i style="left:90px;width:2px;background:linear-gradient(#7cbf41 0.3%,#78be41 27%,#66b945 54.8%,#5cb84a 63.3%,#59b86c 66.4%,#50c0ae 73.6%,#40c4df 79.1%,#38c2f2 84.5%,#38b3ec 87.6%,#3b8fd8 90%,#3a69bb 91.8%,#3a60b3 92.4%,#3c50a6 95.5%,#4550a8 99.1%,#4b4fa7 99.7%)"></i><i style="left:92px;width:2px;background:linear-gradient(#7cbf41 0.3%,#77bd42 28.2%,#5fb846 58.5%,#5cb84a 62.1%,#5bb851 62.7%,#5ab866 63.9%,#55bb8a 66.4%,#51bfa7 69.4%,#40c4e0 77.9%,#38c2f1 83.9%,#38b4ec 87.6%,#3c88d4 90.6%,#3a62b4 92.4%,#3c52a7 95.5%,#4550a8 99.1%,#4c4fa7 99.7%)"></i><i style="left:94px;width:2px;background:linear-gradient(#7bbf41 0.3%,#76bd42 29.4%,#5cb849 60.3%,#5bb854 61.5%,#53bd9c 65.2%,#50bfac 66.4%,#4ec1b7 67.6%,#40c4e0 76.1%,#38c2f1 83.3%,#38b7ed 87%,#38afe9 88.2%,#3c8cd7 90.6%,#3a66b8 92.4%,#3a60b2 93%,#3c50a6 96.1%,#4650a8 99.1%,#4c4fa7 99.7%)"></i><i style="left:96px;width:2px;background:linear-gradient(#7bbf41 0.3%,#74bd42 30.6%,#5fb846 53%,#5cb84a 59.1%,#5cb84e 59.7%,#59b86e 61.5%,#50c0af 64.5%,#48c2c7 67%,#41c4de 72.4%,#38c2f2 83.3%,#38b2eb 88.2%,#3b92da 90.6%,#3a61b3 93%,#3c51a7 96.1%,#4350a8 98.5%,#4d4ea7 99.7%)"></i><i style="left:98px;width:2px;background:linear-gradient(#7bbf41 0.3%,#73bd42 31.8%,#5fb846 54.2%,#5cb84a 59.7%,#5bb859 60.9%,#59b86f 62.1%,#52bea5 64.5%,#4ec1b7 65.8%,#4ac1c1 67%,#46c3cf 69.4%,#40c4e0 73.6%,#38c2f2 83.9%,#38b3eb 88.8%,#39a3e3 90%,#3c8dd7 91.2%,#3a65b6 93%,#3a5fb2 93.6%,#3d50a6 96.7%,#4650a8 99.1%,#4d4ea7 99.7%)"></i><i style="left:100px;width:2px;background:linear-gradient(#7dbf41 0.3%,#71bc43 34.2%,#5db849 60.9%,#5cb84a 61.5%,#5bb851 62.1%,#55bb8c 65.2%,#52bea0 66.4%,#4dc1b8 68.8%,#40c4e1 76.1%,#38c2f2 84.5%,#38b4ec 89.4%,#39ace8 90%,#3b94db 91.2%,#3a6abb 93%,#3a61b3 93.6%,#3c50a6 96.7%,#4650a8 99.1%,#4e4ea7 99.7%)"></i><i style="left:102px;width:2px;background:linear-gradient(#82c140 0.3%,#65b945 56.1%,#5cb849 62.7%,#5cb84e 63.3%,#57b97d 66.4%,#53bd9c 68.8%,#41c4dc 76.7%,#3fc4e2 77.9%,#38c2f2 85.8%,#38b4ec 90%,#39abe7 90.6%,#3b8ed8 91.8%,#3a63b5 93.6%,#3c50a6 96.7%,#4650a8 99.1%,#4e4ea7 99.7%)"></i><i style="left:104px;width:2px;background:linear-gradient(#89c33e 0.3%,#73bc42 30%,#68ba44 56.7%,#5db849 63.9%,#5cb850 65.2%,#5ab866 67%,#51bfa8 73.6%,#41c4dd 78.5%,#3cc3e9 82.1%,#38c2f2 87%,#38bcef 89.4%,#38b4ec 90.6%,#3b96dd 91.8%,#3b76c6 93%,#3a61b3 94.2%,#3c51a7 96.7%,#4650a8 99.1%,#4d4ea7 99.7%)"></i><i style="left:106px;width:2px;background:linear-gradient(#90c63d 0.3%,#70bc43 36.7%,#6dbb43 56.7%,#5fb846 63.3%,#5cb849 66.4%,#5bb856 68.8%,#57b97c 73%,#51bfa7 76.1%,#41c4dc 79.7%,#3fc4e1 80.3%,#3bc3eb 83.9%,#38c1f1 88.8%,#38bdf0 90%,#38b1eb 91.2%,#3c7fcd 93%,#3a64b6 94.2%,#3d50a6 97.3%,#4550a8 99.1%,#4d4ea7 99.7%)"></i><i style="left:108px;width:2px;background:linear-gradient(#99c93b 0.3%,#73bc42 36.7%,#71bc43 56.1%,#5fb846 65.2%,#5cb849 70%,#5bb855 72.4%,#59b86f 74.8%,#57b981 76.1%,#4dc1b9 79.1%,#42c3db 81.5%,#3fc4e3 82.7%,#39c2f1 89.4%,#38b7ed 91.2%,#3a97dd 92.4%,#3b78c7 93.6%,#3a61b3 94.8%,#3c50a6 97.3%,#4550a8 99.1%,#4d4fa7 99.7%)"></i><i style="left:110px;width:2px;background:linear-gradient(#a3cd39 0.3%,#7bbf41 34.8%,#77be42 53.6%,#61b846 67%,#5cb849 74.2%,#5bb85a 76.7%,#59b86b 77.9%,#4dc1ba 82.1%,#44c3d3 83.9%,#3fc4e1 85.8%,#38c2f1 90%,#38b9ee 91.2%,#38b0ea 91.8%,#3a9ee1 92.4%,#3a66b8 94.8%,#3c52a8 97.3%,#4450a8 99.1%,#4c4fa7 99.7%)"></i><i style="left:112px;width:2px;background:linear-gradient(#aed136 0.3%,#83c13f 34.8%,#7dbf41 51.8%,#68ba44 63.9%,#5cb849 78.5%,#5ab85c 80.3%,#4ec0b3 84.5%,#42c3da 87%,#40c4e1 87.6%,#39c2ef 90%,#38c1f1 90.6%,#38b5ec 91.8%,#3c8ad5 93.6%,#3a61b4 95.5%,#3c50a6 97.9%,#4450a8 99.1%,#4c4fa7 99.7%)"></i><i style="left:114px;width:2px;background:linear-gradient(#bad632 0.3%,#8dc53e 34.2%,#83c140 51.2%,#69ba44 64.5%,#64b945 74.2%,#5db849 80.9%,#5cb84b 81.5%,#5bb858 82.7%,#59b870 83.9%,#55bb8c 85.2%,#4fbfae 86.4%,#41c4dc 88.2%,#38c2f1 90.6%,#38b8ee 91.8%,#38afe9 92.4%,#3c85d1 94.2%,#3a66b8 95.5%,#3c51a7 97.9%,#4350a8 99.1%,#4b4fa7 99.7%)"></i><i style="left:116px;width:2px;background:linear-gradient(#c8dc2e 0.3%,#99c93b 33.6%,#8ac43e 50%,#6dbb43 64.5%,#67b945 76.1%,#5db849 83.9%,#5bb856 85.2%,#5ab865 85.8%,#58b977 86.4%,#50bfa9 87.6%,#43c3d8 88.8%,#3ec4e4 89.4%,#3ac2ef 90.6%,#38c0f1 91.2%,#38b6ed 92.4%,#3b8ed8 94.2%,#3b6dbe 95.5%,#3a61b3 96.1%,#3e50a7 98.5%,#4b4fa7 99.7%)"></i><i style="left:118px;width:2px;background:linear-gradient(#d5e029 0.3%,#a5ce38 34.8%,#94c73c 49.4%,#75bd42 63.3%,#68ba44 79.1%,#5db848 85.8%,#5cb84d 86.4%,#5bb859 87%,#58b972 87.6%,#4ec0b4 88.8%,#45c3d1 89.4%,#3fc4e3 90%,#3ac2ee 91.2%,#38c0f1 91.8%,#38b5ed 93%,#39a8e6 93.6%,#3c87d3 94.8%,#3a63b5 96.1%,#3e50a6 98.5%,#4a4fa8 99.7%)"></i><i style="left:120px;width:2px;background:linear-gradient(#e2e524 0.3%,#d2df2b 14.8%,#b1d335 35.5%,#a1cd39 48.8%,#7ec040 62.7%,#6aba44 82.1%,#5eb846 86.4%,#5cb84b 87.6%,#5ab85e 88.2%,#57b97c 88.8%,#4ac1c1 90%,#42c3da 90.6%,#3ec3e5 91.2%,#3bc3eb 91.8%,#39c1f0 92.4%,#38b5ec 93.6%,#3b8fd8 94.8%,#3a68b9 96.1%,#3b5fb2 96.7%,#3d50a6 98.5%,#4a4fa8 99.7%)"></i><i style="left:122px;width:2px;background:linear-gradient(#ece820 0.3%,#dce326 17.3%,#aed236 48.8%,#8cc43e 61.5%,#7bbf41 71.2%,#6ebb43 82.1%,#5fb846 87%,#5cb849 88.2%,#5bb855 88.8%,#59b86f 89.4%,#4fc0b1 90.6%,#46c2ce 91.2%,#3fc4e2 91.8%,#3cc3e9 92.4%,#39c2f0 93%,#38bbef 93.6%,#38afe9 94.2%,#3b6dbd 96.1%,#3a60b3 96.7%,#3c50a6 98.5%,#494fa8 99.7%)"></i><i style="left:124px;width:2px;background:linear-gradient(#f5e91e 0.3%,#e3e523 20.9%,#bdd831 48.2%,#9aca3b 59.7%,#7fc040 72.4%,#71bc43 81.5%,#5db847 88.2%,#5db849 88.8%,#5cb850 89.4%,#5ab864 90%,#57b97e 90.6%,#4ac2c2 91.8%,#41c4de 92.4%,#3cc3e9 93%,#38c1f1 93.6%,#38b7ed 94.2%,#3c88d4 95.5%,#3b71c2 96.1%,#3a62b4 96.7%,#3c51a7 98.5%,#494fa8 99.7%)"></i><i style="left:126px;width:2px;background:linear-gradient(#fae41c 0.3%,#f3e91f 14.8%,#cbdd2d 48.2%,#c3da2f 51.2%,#a4ce38 59.1%,#5db848 89.4%,#5cb849 90%,#5bb858 90.6%,#59b870 91.2%,#54bc95 91.8%,#4bc1be 92.4%,#40c4e0 93%,#3bc3ec 93.6%,#38bdf0 94.2%,#39abe8 94.8%,#3b77c6 96.1%,#3a65b6 96.7%,#3c52a8 98.5%,#484fa8 99.7%)"></i><i style="left:128px;width:2px;background:linear-gradient(#fdd919 0.3%,#fce21b 8.8%,#f4e91e 23.3%,#d4e02a 48.2%,#ccdd2c 51.2%,#aed236 58.5%,#7ec040 77.3%,#5db847 90%,#5db849 90.6%,#5bb850 91.2%,#59b86d 91.8%,#53bd98 92.4%,#48c2c7 93%,#3ec3e5 93.6%,#38c1f1 94.2%,#38b4ec 94.8%,#3b7dcb 96.1%,#3a69ba 96.7%,#3c53a9 98.5%,#484fa8 99.7%)"></i><i style="left:130px;width:2px;background:linear-gradient(#fdc717 0.3%,#fce11b 17.9%,#f7e91d 27.6%,#dde326 47.6%,#d2df2a 51.8%,#b6d533 58.5%,#9cca3b 69.4%,#6bba44 83.9%,#5eb846 90%,#5cb849 91.2%,#5ab85e 91.8%,#56ba84 92.4%,#4dc1b9 93%,#3fc4e2 93.6%,#39c2f0 94.2%,#38b7ed 94.8%,#3c80cd 96.1%,#3a6abb 96.7%,#3a60b2 97.3%,#3c54a9 98.5%,#4850a8 99.7%)"></i><i style="left:132px;width:2px;background:linear-gradient(#fbb619 0.3%,#fdc817 11.8%,#fce11b 25.8%,#f4ea1e 36.7%,#e5e622 47.6%,#dae227 51.8%,#bcd731 59.7%,#9dcb3a 71.2%,#6bba44 83.9%,#5eb846 90%,#5cb849 91.2%,#5ab85c 91.8%,#57b981 92.4%,#4ec1b7 93%,#3fc4e2 93.6%,#39c2ef 94.2%,#38b7ed 94.8%,#3c80ce 96.1%,#3a6bbc 96.7%,#3a60b2 97.3%,#3c54a9 98.5%,#4750a8 99.7%)"></i><i style="left:134px;width:2px;background:linear-gradient(#f9a51c 0.3%,#fbb619 11.2%,#fdc817 20.3%,#fce11a 31.2%,#f6e91e 39.1%,#e9e721 48.8%,#a4cd38 71.2%,#6bba44 83.9%,#5eb846 90%,#5cb849 91.2%,#5ab85c 91.8%,#57b981 92.4%,#4ec1b7 93%,#3fc4e2 93.6%,#39c2ef 94.2%,#38b7ed 94.8%,#3c80ce 96.1%,#3a6bbc 96.7%,#3a60b2 97.3%,#3c54a9 98.5%,#4750a8 99.7%)"></i><i style="left:136px;width:2px;background:linear-gradient(#f89d1d 0.3%,#f9a51c 8.8%,#faaf1a 14.8%,#fdc616 24.5%,#fce11a 33.6%,#f6ea1e 42.1%,#e7e622 52.4%,#c2d930 64.5%,#aad037 71.2%,#6bba44 83.9%,#5cb849 91.2%,#5ab85c 91.8%,#57b981 92.4%,#4ec1b7 93%,#3fc4e2 93.6%,#39c2ef 94.2%,#38b7ed 94.8%,#3c80ce 96.1%,#3a6bbc 96.7%,#3a60b2 97.3%,#3c54a9 98.5%,#4750a8 99.7%)"></i><i style="left:138px;width:2px;background:linear-gradient(#f89a1d 0.3%,#f8a11d 9.4%,#faab1b 16.7%,#fdc117 25.8%,#fce11a 35.5%,#f6ea1e 43.9%,#e7e622 53.6%,#c5db2f 65.2%,#aad037 72.4%,#9cca3a 75.5%,#7dbf41 80.3%,#6bba44 83.9%,#5cb849 91.2%,#5ab85c 91.8%,#57b981 92.4%,#4ec1b7 93%,#3fc4e2 93.6%,#39c2ef 94.2%,#38b7ed 94.8%,#3c80ce 96.1%,#3a6bbc 96.7%,#3a60b2 97.3%,#3c54a9 98.5%,#4750a8 99.7%)"></i><i style="left:140px;width:2px;background:linear-gradient(#f8991d 0.3%,#f89e1d 10%,#faaa1b 19.1%,#fcbd17 27%,#fce11a 36.7%,#f6ea1e 45.2%,#e6e622 54.2%,#c5da2f 65.8%,#a9cf37 73.6%,#99c93b 76.7%,#76bd42 81.5%,#6bba44 83.9%,#5cb849 91.2%,#5ab85c 91.8%,#57b981 92.4%,#4ec1b7 93%,#3fc4e2 93.6%,#39c2ef 94.2%,#38b7ed 94.8%,#3c80ce 96.1%,#3a6bbc 96.7%,#3a60b2 97.3%,#3c54a9 98.5%,#4750a8 99.7%)"></i><i style="left:142px;width:2px;background:linear-gradient(#f7981e 0.3%,#f89d1d 10%,#f9a81c 19.7%,#fcbc18 27.6%,#fde11a 37.3%,#f6ea1e 45.8%,#e6e622 54.2%,#c5da2f 65.8%,#aad037 73.6%,#9ecb3a 76.1%,#7abe41 80.9%,#6bba44 83.9%,#5cb849 91.2%,#5ab85c 91.8%,#57b981 92.4%,#4ec1b7 93%,#3fc4e2 93.6%,#39c2ef 94.2%,#38b7ed 94.8%,#3c80ce 96.1%,#3a6bbc 96.7%,#3a60b2 97.3%,#3c54a9 98.5%,#4750a8 99.7%)"></i><i style="left:144px;width:2px;background:linear-gradient(#f89b1d 0.3%,#f9a21c 11.2%,#faad1b 19.1%,#fcbf17 27%,#fde11a 36.7%,#f6ea1e 45.8%,#e6e622 54.2%,#c5da2f 65.8%,#aad037 73.6%,#9ecb3a 76.1%,#7abe41 80.9%,#6bba44 83.9%,#5cb849 91.2%,#5ab85c 91.8%,#57b981 92.4%,#4ec1b7 93%,#3fc4e2 93.6%,#39c2ef 94.2%,#38b7ed 94.8%,#3c80ce 96.1%,#3a6bbc 96.7%,#3a60b2 97.3%,#3c54a9 98.5%,#4750a8 99.7%)"></i><i style="left:146px;width:2px;background:linear-gradient(#f9a41c 0.3%,#f9a91b 9.4%,#fbb719 19.1%,#fdc716 27%,#fde11a 35.5%,#f6ea1e 45.2%,#e6e622 54.2%,#c5da2f 65.8%,#aad037 73.6%,#9ecb3a 76.1%,#7abe41 80.9%,#6bba44 83.9%,#5cb849 91.2%,#5ab85c 91.8%,#57b981 92.4%,#4ec1b7 93%,#3fc4e2 93.6%,#39c2ef 94.2%,#38b7ed 94.8%,#3c80ce 96.1%,#3a6bbc 96.7%,#3a60b2 97.3%,#3c54a9 98.5%,#4750a8 99.7%)"></i><i style="left:148px;width:2px;background:linear-gradient(#fbb319 0.3%,#fbb719 8.8%,#fdc317 18.5%,#fdcf18 26.4%,#fde11a 33.6%,#f6ea1e 43.9%,#efe820 50%,#cadd2d 63.9%,#acd136 73%,#9ecb3a 76.1%,#7ec040 80.3%,#6dbb43 83.3%,#5eb846 90%,#5cb849 91.2%,#5ab85c 91.8%,#57b981 92.4%,#4ec1b7 93%,#3fc4e2 93.6%,#39c2ef 94.2%,#38b7ed 94.8%,#3c80ce 96.1%,#3a6bbc 96.7%,#3a60b2 97.3%,#3c54a9 98.5%,#4750a8 99.7%)"></i><i style="left:150px;width:2px;background:linear-gradient(#fdc817 0.3%,#fdcf18 13%,#fce11a 30%,#f6ea1e 43.3%,#eee820 50.6%,#c8dc2e 64.5%,#acd136 73%,#9ecb3a 76.1%,#7ec040 80.3%,#6dbb43 83.3%,#5eb846 90%,#5cb849 91.2%,#5ab85c 91.8%,#57b981 92.4%,#4ec1b7 93%,#3fc4e2 93.6%,#39c2ef 94.2%,#38b7ed 94.8%,#3c80ce 96.1%,#3a6bbc 96.7%,#3a60b2 97.3%,#3c54a9 98.5%,#4750a8 99.7%)"></i><i style="left:152px;width:2px;background:linear-gradient(#fcdd1a 0.3%,#f6ea1e 40.9%,#ede820 51.2%,#c8dc2e 64.5%,#acd136 73%,#9ecb3a 76.1%,#7ec040 80.3%,#6dbb43 83.3%,#5eb846 90%,#5cb849 91.2%,#5ab85c 91.8%,#57b981 92.4%,#4ec1b7 93%,#3fc4e2 93.6%,#39c2ef 94.2%,#38b7ed 94.8%,#3c80cd 96.1%,#3a6abc 96.7%,#3a60b2 97.3%,#3c53a9 98.5%,#4850a8 99.7%)"></i><i style="left:154px;width:2px;background:linear-gradient(#f9e51c 0.3%,#f5ea1e 39.1%,#e9e721 51.8%,#ccdd2d 63.3%,#acd136 73%,#9ecb3a 76.1%,#7ec040 80.3%,#6dbb43 83.3%,#5eb846 90%,#5cb849 91.2%,#5ab85c 91.8%,#57b980 92.4%,#4ec1b7 93%,#3fc4e2 93.6%,#39c2f0 94.2%,#38b6ed 94.8%,#3b7dcb 96.1%,#3a68b9 96.7%,#3c53a8 98.5%,#484fa8 99.7%)"></i><i style="left:156px;width:2px;background:linear-gradient(#f8e71d 0.3%,#f3e91f 35.5%,#eee820 43.3%,#e3e523 51.2%,#ccdd2d 62.1%,#acd136 72.4%,#9cca3a 76.1%,#7ebf40 80.3%,#6dbb43 83.3%,#5eb847 90%,#5cb84a 91.2%,#5ab861 91.8%,#56ba86 92.4%,#4dc1ba 93%,#3fc4e3 93.6%,#39c2f0 94.2%,#38b5ec 94.8%,#3b76c5 96.1%,#3a62b4 96.7%,#3c50a6 98.5%,#494fa8 99.7%)"></i><i style="left:158px;width:2px;background:linear-gradient(#f7e91e 0.3%,#f4ea1e 28.2%,#e7e622 44.5%,#d9e228 50.6%,#bfd831 58.5%,#9ecb3a 72.4%,#91c63d 76.1%,#6cbb44 82.7%,#5db848 89.4%,#5cb84b 90%,#5bb855 90.6%,#59b868 91.2%,#56ba84 91.8%,#45c3d0 93%,#3dc3e6 93.6%,#38c1f1 94.2%,#38afe9 94.8%,#3b6fbf 96.1%,#3a5fb2 96.7%,#3e50a6 98.5%,#4a4fa7 99.7%)"></i><i style="left:160px;width:2px;background:linear-gradient(#e8e622 0.3%,#e7e622 27.6%,#d9e227 41.5%,#c8dc2e 48.8%,#a1cc39 57.9%,#8bc43e 71.2%,#7fc040 75.5%,#67b945 81.5%,#5db848 86.4%,#5cb84b 87%,#5ab864 88.8%,#55bb8c 90%,#45c3d0 91.8%,#40c3e0 92.4%,#3cc3ea 93%,#39c0ef 93.6%,#38b7ed 94.2%,#3a9ce0 94.8%,#3a66b7 96.1%,#3c51a7 97.9%,#4350a8 99.1%,#4c4fa7 99.7%)"></i><i style="left:162px;width:2px;background:linear-gradient(#b2d334 0.3%,#b1d335 27.6%,#a5ce38 43.3%,#9bca3a 50%,#82c140 57.9%,#76bd42 70.6%,#5db848 81.5%,#5db849 82.1%,#59b966 84.5%,#54bc91 86.4%,#47c2cb 88.8%,#40c3e0 90%,#3bc3ec 91.2%,#38b9ee 93%,#39afe9 93.6%,#3c87d3 94.8%,#3b6fc0 95.5%,#3a60b2 96.1%,#3d50a6 97.9%,#4450a8 99.1%,#4c4fa7 99.7%)"></i><i style="left:164px;width:2px;background:linear-gradient(#70bc43 0.3%,#71bc43 45.2%,#6fbc43 50.6%,#65b945 57.9%,#5eb848 76.7%,#5ab861 79.1%,#58ba6d 79.7%,#49c0bf 82.7%,#44c2d3 83.9%,#3cc3e9 85.8%,#38bbee 88.8%,#39a6e5 91.8%,#3b8fd8 93.6%,#3c83d0 94.2%,#3a63b5 95.5%,#3c55aa 96.7%,#3c50a6 97.3%,#4650a8 99.1%,#4d4ea7 99.7%)"></i><i style="left:166px;width:2px;background:linear-gradient(#45b2c8 0.3%,#45b3c6 25.2%,#46b8bd 29.4%,#4cbd9b 39.1%,#4cbe99 48.2%,#4cbe9c 51.2%,#4abdae 57.9%,#49bdb1 67%,#48beb6 70.6%,#47bfc1 74.2%,#42bfd7 77.3%,#3cbce7 79.1%,#39afe9 81.5%,#3b8ad4 87.6%,#3b73c2 93%,#3c51a7 96.7%,#4450a8 98.5%,#4e4ea7 99.7%)"></i><i style="left:168px;width:2px;background:linear-gradient(#3b60b3 0.3%,#3b61b4 25.8%,#3b78c6 40.9%,#3b76c5 73%,#3b74c3 76.7%,#3b63b5 83.9%,#3b5cb0 93.6%,#3c55aa 95.5%,#3c51a7 96.1%,#4550a8 98.5%,#4f4ea7 99.7%)"></i><i style="left:170px;width:7px;background:linear-gradient(#3c54a9 0.3%,#3b58ac 45.2%,#3c54a9 94.2%,#3c50a6 95.5%,#4450a8 97.9%,#4f4ea7 99.7%)"></i></div></div>
<div class="hm" style="left:401px;top:538px;width:164px;height:164px"><div class="w" style="width:176px"><i style="left:0px;width:8px;background:linear-gradient(#6d45a4 0.3%,#7441a3 99.7%)"></i><i style="left:8px;width:2px;background:linear-gradient(#6d45a4 0.3%,#7441a3 99.7%)"></i><i style="left:10px;width:2px;background:linear-gradient(#6d45a4 0.3%,#7441a3 99.7%)"></i><i style="left:12px;width:2px;background:linear-gradient(#6d45a4 0.3%,#7441a3 99.7%)"></i><i style="left:14px;width:2px;background:linear-gradient(#6d45a4 0.3%,#7441a3 99.7%)"></i><i style="left:16px;width:2px;background:linear-gradient(#6d45a4 0.3%,#7341a3 99.7%)"></i><i style="left:18px;width:2px;background:linear-gradient(#6d46a4 0.3%,#7341a3 99.7%)"></i><i style="left:20px;width:2px;background:linear-gradient(#6d46a4 0.3%,#7341a3 99.7%)"></i><i style="left:22px;width:2px;background:linear-gradient(#6c46a4 0.3%,#7341a3 99.7%)"></i><i style="left:24px;width:2px;background:linear-gradient(#6c46a4 0.3%,#7341a3 99.7%)"></i><i style="left:26px;width:2px;background:linear-gradient(#6c46a4 0.3%,#7341a3 99.7%)"></i><i style="left:28px;width:2px;background:linear-gradient(#6c46a4 0.3%,#7341a3 99.7%)"></i><i style="left:30px;width:2px;background:linear-gradient(#6c46a4 0.3%,#7342a3 99.7%)"></i><i style="left:32px;width:2px;background:linear-gradient(#6c46a4 0.3%,#7342a3 99.7%)"></i><i style="left:34px;width:2px;background:linear-gradient(#6c46a4 0.3%,#7242a3 99.7%)"></i><i style="left:36px;width:2px;background:linear-gradient(#6c46a4 0.3%,#7242a3 99.7%)"></i><i style="left:38px;width:2px;background:linear-gradient(#6c46a4 0.3%,#7242a3 99.7%)"></i><i style="left:40px;width:2px;background:linear-gradient(#6c46a4 0.3%,#7242a3 99.7%)"></i><i style="left:42px;width:2px;background:linear-gradient(#6b46a4 0.3%,#7242a3 99.7%)"></i><i style="left:44px;width:2px;background:linear-gradient(#6b46a4 0.3%,#7242a3 99.7%)"></i><i style="left:46px;width:2px;background:linear-gradient(#6b46a4 0.3%,#7242a3 99.7%)"></i><i style="left:48px;width:2px;background:linear-gradient(#6b46a4 0.3%,#7242a3 99.7%)"></i><i style="left:50px;width:2px;background:linear-gradient(#6b46a4 0.3%,#7242a3 99.7%)"></i><i style="left:52px;width:2px;background:linear-gradient(#6b46a4 0.3%,#7142a3 99.7%)"></i><i style="left:54px;width:2px;background:linear-gradient(#6b46a4 0.3%,#7142a3 99.7%)"></i><i style="left:56px;width:2px;background:linear-gradient(#6b46a4 0.3%,#7143a3 99.7%)"></i><i style="left:58px;width:2px;background:linear-gradient(#6a47a4 0.3%,#7143a3 99.7%)"></i><i style="left:60px;width:2px;background:linear-gradient(#6a47a4 0.3%,#7143a3 99.7%)"></i><i style="left:62px;width:2px;background:linear-gradient(#6a47a4 0.3%,#7043a4 99.7%)"></i><i style="left:64px;width:2px;background:linear-gradient(#6a47a4 0.3%,#7043a4 99.7%)"></i><i style="left:66px;width:2px;background:linear-gradient(#6a47a4 0.3%,#7043a4 99.7%)"></i><i style="left:68px;width:2px;background:linear-gradient(#6947a4 0.3%,#7043a4 99.7%)"></i><i style="left:70px;width:2px;background:linear-gradient(#6947a4 0.3%,#7044a4 99.7%)"></i><i style="left:72px;width:2px;background:linear-gradient(#6947a4 0.3%,#6f44a4 99.7%)"></i><i style="left:74px;width:2px;background:linear-gradient(#6947a4 0.3%,#6f44a4 99.7%)"></i><i style="left:76px;width:2px;background:linear-gradient(#6947a4 0.3%,#6f44a4 99.7%)"></i><i style="left:78px;width:2px;background:linear-gradient(#6947a4 0.3%,#6f44a4 99.7%)"></i><i style="left:80px;width:2px;background:linear-gradient(#6847a4 0.3%,#6f44a4 99.7%)"></i><i style="left:82px;width:2px;background:linear-gradient(#6847a4 0.3%,#6e44a4 99.7%)"></i><i style="left:84px;width:2px;background:linear-gradient(#6847a4 0.3%,#6e45a4 99.7%)"></i><i style="left:86px;width:2px;background:linear-gradient(#6847a4 0.3%,#6e45a4 99.7%)"></i><i style="left:88px;width:2px;background:linear-gradient(#6847a4 0.3%,#6e45a4 99.7%)"></i><i style="left:90px;width:2px;background:linear-gradient(#6748a5 0.3%,#6d45a4 99.7%)"></i><i style="left:92px;width:2px;background:linear-gradient(#6748a5 0.3%,#6d45a4 99.7%)"></i><i style="left:94px;width:2px;background:linear-gradient(#6748a5 0.3%,#6d45a4 99.7%)"></i><i style="left:96px;width:2px;background:linear-gradient(#6748a5 0.3%,#6d45a4 99.7%)"></i><i style="left:98px;width:2px;background:linear-gradient(#6748a5 0.3%,#6d46a4 99.7%)"></i><i style="left:100px;width:2px;background:linear-gradient(#6648a5 0.3%,#6c46a4 99.7%)"></i><i style="left:102px;width:2px;background:linear-gradient(#6648a5 0.3%,#6c46a4 99.7%)"></i><i style="left:104px;width:2px;background:linear-gradient(#6648a5 0.3%,#6c46a4 99.7%)"></i><i style="left:106px;width:2px;background:linear-gradient(#6548a5 0.3%,#6c46a4 99.7%)"></i><i style="left:108px;width:2px;background:linear-gradient(#6449a5 0.3%,#6b46a4 99.7%)"></i><i style="left:110px;width:2px;background:linear-gradient(#6349a5 0.3%,#6b46a4 99.7%)"></i><i style="left:112px;width:2px;background:linear-gradient(#6249a5 0.3%,#6449a5 52.1%,#6b46a4 99.7%)"></i><i style="left:114px;width:2px;background:linear-gradient(#614aa5 0.3%,#6349a5 52.7%,#6a47a4 99.7%)"></i><i style="left:116px;width:2px;background:linear-gradient(#604aa5 0.3%,#6249a5 53.4%,#6a47a4 99.7%)"></i><i style="left:118px;width:2px;background:linear-gradient(#5f4aa5 0.3%,#614aa5 53.4%,#6648a5 90.5%,#6a47a4 99.7%)"></i><i style="left:120px;width:2px;background:linear-gradient(#5e4ba6 0.3%,#614aa5 54%,#6548a5 90.5%,#6a47a4 99.7%)"></i><i style="left:122px;width:2px;background:linear-gradient(#5e4ba6 0.3%,#6449a5 89.9%,#6947a4 99.7%)"></i><i style="left:124px;width:2px;background:linear-gradient(#5e4ba6 0.3%,#6349a5 89.9%,#6947a4 99.7%)"></i><i style="left:126px;width:2px;background:linear-gradient(#5e4ba6 0.3%,#6349a5 89.9%,#6947a4 99.7%)"></i><i style="left:128px;width:2px;background:linear-gradient(#5e4ba6 0.3%,#614aa5 89.9%,#6847a4 99.7%)"></i><i style="left:130px;width:2px;background:linear-gradient(#5e4ba6 0.3%,#5f4aa5 89.9%,#6847a4 99.7%)"></i><i style="left:132px;width:2px;background:linear-gradient(#5e4ba6 0.3%,#604aa5 79%,#5c4ba6 89.9%,#6748a5 96.6%,#6847a4 99.7%)"></i><i style="left:134px;width:2px;background:linear-gradient(#5d4ba6 0.3%,#5f4aa5 78.4%,#5a4ca6 89.9%,#6748a5 96.6%,#6847a4 99.7%)"></i><i style="left:136px;width:2px;background:linear-gradient(#5d4ba6 0.3%,#5e4ba6 77.7%,#564da6 89.9%,#6648a5 96.6%,#6748a5 99.7%)"></i><i style="left:138px;width:2px;background:linear-gradient(#5d4ba6 0.3%,#5d4ba6 75.9%,#5b4ca6 82.6%,#524da7 89.9%,#554da6 91.8%,#6548a5 96.6%,#6748a5 99.7%)"></i><i style="left:140px;width:2px;background:linear-gradient(#5d4ba6 0.3%,#5c4ba6 74.7%,#5a4ca6 81.4%,#4f4ea7 89.9%,#514ea7 91.8%,#6449a5 96.6%,#6648a5 99.7%)"></i><i style="left:142px;width:2px;background:linear-gradient(#5d4ba6 0.3%,#5c4ba6 74.1%,#594ca6 81.4%,#4b4fa7 89.9%,#504ea7 92.4%,#6249a5 96.6%,#6548a5 99.7%)"></i><i style="left:144px;width:2px;background:linear-gradient(#5d4ba6 0.3%,#5b4ca6 73.5%,#574da6 81.4%,#4750a8 89.9%,#4c4fa7 92.4%,#604aa5 96.6%,#6449a5 99.7%)"></i><i style="left:146px;width:2px;background:linear-gradient(#5d4ba6 0.3%,#5a4ca6 74.7%,#574da6 81.4%,#4550a8 89.9%,#494fa8 92.4%,#5f4aa5 96.6%,#6449a5 99.7%)"></i><i style="left:148px;width:2px;background:linear-gradient(#5d4ba6 0.3%,#5a4ca6 75.9%,#564da6 81.4%,#4550a8 87.5%,#4450a8 89.9%,#4750a8 92.4%,#5b4ca6 96%,#6349a5 99.7%)"></i><i style="left:150px;width:2px;background:linear-gradient(#5c4ba6 0.3%,#5a4ca6 75.9%,#564da6 81.4%,#4550a8 86.9%,#4250a7 89.9%,#4450a8 92.4%,#594ca6 96%,#6249a5 99.7%)"></i><i style="left:152px;width:2px;background:linear-gradient(#5c4ba6 0.3%,#5a4ca6 75.9%,#564da6 81.4%,#4650a8 86.3%,#4250a7 89.9%,#4550a8 93%,#5a4ca6 96.6%,#614aa5 99.7%)"></i><i style="left:154px;width:2px;background:linear-gradient(#5c4ba6 0.3%,#5a4ca6 75.9%,#564da6 81.4%,#4550a8 86.9%,#4250a7 89.9%,#4550a8 93%,#594ca6 96.6%,#614aa5 99.7%)"></i><i style="left:156px;width:2px;background:linear-gradient(#5c4ba6 0.3%,#5a4ca6 75.3%,#564da6 81.4%,#4650a8 86.9%,#4350a8 89.9%,#4650a8 93%,#594ca6 96.6%,#604aa5 99.7%)"></i><i style="left:158px;width:2px;background:linear-gradient(#5c4ba6 0.3%,#5a4ca6 75.3%,#564da6 81.4%,#4650a8 87.5%,#4450a8 89.9%,#4650a8 92.4%,#584ca6 96.6%,#5f4aa5 99.7%)"></i><i style="left:160px;width:2px;background:linear-gradient(#5b4ca6 0.3%,#594ca6 75.3%,#564da6 81.4%,#4550a8 89.9%,#484fa8 92.4%,#5f4aa5 99.7%)"></i><i style="left:162px;width:2px;background:linear-gradient(#584ca6 0.3%,#564da6 75.9%,#544da7 82%,#4750a8 89.9%,#4b4fa7 93%,#5e4ba6 99.7%)"></i><i style="left:164px;width:2px;background:linear-gradient(#534da7 0.3%,#524ea7 77.7%,#494fa8 89.9%,#4c4fa7 93%,#5d4ba6 99.7%)"></i><i style="left:166px;width:2px;background:linear-gradient(#4d4fa7 0.3%,#4c4fa7 79%,#484fa8 89.9%,#4c4fa7 93.6%,#5b4ca6 99.7%)"></i><i style="left:168px;width:8px;background:linear-gradient(#4650a8 0.3%,#4550a8 90.5%,#4c4fa7 96%,#594ca6 99.7%)"></i></div></div>
<div class="hm" style="left:55px;top:725px;width:164px;height:163px"><div class="w" style="width:176px"><i style="left:0px;width:8px;background:linear-gradient(#6648a5 0.3%,#783ea3 49.4%,#793da3 99.7%)"></i><i style="left:8px;width:2px;background:linear-gradient(#6449a5 0.3%,#763fa3 49.4%,#793da3 99.7%)"></i><i style="left:10px;width:2px;background:linear-gradient(#6349a5 0.3%,#7540a3 50%,#793da3 99.7%)"></i><i style="left:12px;width:2px;background:linear-gradient(#614aa5 0.3%,#7341a3 50%,#793ea3 99.7%)"></i><i style="left:14px;width:2px;background:linear-gradient(#604aa5 0.3%,#7242a3 50.6%,#783ea3 99.7%)"></i><i style="left:16px;width:2px;background:linear-gradient(#5e4ba6 0.3%,#7143a3 51.2%,#783ea3 99.7%)"></i><i style="left:18px;width:2px;background:linear-gradient(#5d4ba6 0.3%,#6f44a4 51.2%,#783ea3 99.7%)"></i><i style="left:20px;width:2px;background:linear-gradient(#5b4ca6 0.3%,#6e45a4 51.8%,#783ea3 99.7%)"></i><i style="left:22px;width:2px;background:linear-gradient(#5a4ca6 0.3%,#6f44a4 62.9%,#783ea3 99.7%)"></i><i style="left:24px;width:2px;background:linear-gradient(#584ca6 0.3%,#773ea3 99.7%)"></i><i style="left:26px;width:2px;background:linear-gradient(#564da6 0.3%,#6d45a4 64.1%,#7441a3 97.9%,#773fa3 99.7%)"></i><i style="left:28px;width:2px;background:linear-gradient(#544da7 0.3%,#6c46a4 64.1%,#7341a3 97.9%,#773fa3 99.7%)"></i><i style="left:30px;width:2px;background:linear-gradient(#544da7 0.3%,#6d46a4 64.1%,#7341a3 97.9%,#773fa3 99.7%)"></i><i style="left:32px;width:2px;background:linear-gradient(#544da7 0.3%,#6e45a4 63.5%,#773fa3 99.7%)"></i><i style="left:34px;width:2px;background:linear-gradient(#554da6 0.3%,#7043a4 64.1%,#773ea3 99.7%)"></i><i style="left:36px;width:2px;background:linear-gradient(#574da6 0.3%,#7242a3 64.1%,#783ea3 99.7%)"></i><i style="left:38px;width:2px;background:linear-gradient(#584ca6 0.3%,#7540a3 64.1%,#783ea3 99.7%)"></i><i style="left:40px;width:2px;background:linear-gradient(#594ca6 0.3%,#773fa3 64.1%,#7b3ca2 85%,#793ea3 99.7%)"></i><i style="left:42px;width:2px;background:linear-gradient(#5a4ca6 0.3%,#6c46a4 36.5%,#793da3 64.1%,#7c3ba2 84.4%,#793da3 99.7%)"></i><i style="left:44px;width:2px;background:linear-gradient(#5c4ba6 0.3%,#7b3ca2 64.1%,#7e3aa2 84.4%,#793da3 99.7%)"></i><i style="left:46px;width:2px;background:linear-gradient(#5d4ba6 0.3%,#7d3ba2 64.1%,#7f39a2 84.4%,#7a3da2 99.7%)"></i><i style="left:48px;width:2px;background:linear-gradient(#5e4ba6 0.3%,#7e3aa2 61.7%,#8037a2 84.4%,#7a3da2 99.7%)"></i><i style="left:50px;width:2px;background:linear-gradient(#5f4aa5 0.3%,#7b3ca2 48.8%,#8037a2 62.3%,#8236a1 84.4%,#7b3ca2 99.7%)"></i><i style="left:52px;width:2px;background:linear-gradient(#604aa5 0.3%,#6b46a4 20.6%,#7d3aa2 48.2%,#8236a1 61.7%,#8334a1 84.4%,#7e3aa2 97.9%,#7b3ca2 99.7%)"></i><i style="left:54px;width:2px;background:linear-gradient(#604aa5 0.3%,#6c46a4 19.3%,#8136a2 54.9%,#8434a1 83.7%,#7f39a2 90.5%,#7f39a2 97.9%,#7b3ca2 99.7%)"></i><i style="left:56px;width:2px;background:linear-gradient(#614aa5 0.3%,#6c46a4 17.5%,#8235a1 52.5%,#8334a1 83.7%,#7b3ca2 99.7%)"></i><i style="left:58px;width:2px;background:linear-gradient(#6249a5 0.3%,#6c46a4 16.9%,#8334a1 51.2%,#8235a1 83.7%,#7b3ca2 99.7%)"></i><i style="left:60px;width:2px;background:linear-gradient(#6249a5 0.3%,#7242a3 26.1%,#8335a1 50%,#8137a2 83.7%,#7a3da2 99.7%)"></i><i style="left:62px;width:2px;background:linear-gradient(#6349a5 0.3%,#7143a3 25.5%,#8236a1 50%,#8038a2 83.7%,#7a3da2 90.5%,#793da3 99.7%)"></i><i style="left:64px;width:2px;background:linear-gradient(#6349a5 0.3%,#7043a4 24.8%,#8038a2 49.4%,#7e3aa2 83.7%,#783ea3 90.5%,#783ea3 99.7%)"></i><i style="left:66px;width:2px;background:linear-gradient(#6449a5 0.3%,#6f44a4 24.2%,#7f39a2 48.8%,#7d3ba2 83.7%,#773fa3 90.5%,#783ea3 99.7%)"></i><i style="left:68px;width:2px;background:linear-gradient(#6449a5 0.3%,#7d3ba2 49.4%,#7b3ca2 83.7%,#7540a3 91.1%,#773fa3 99.7%)"></i><i style="left:70px;width:2px;background:linear-gradient(#6548a5 0.3%,#7b3ca2 49.4%,#7a3da2 83.7%,#7341a3 91.7%,#763fa3 99.7%)"></i><i style="left:72px;width:2px;background:linear-gradient(#6548a5 0.3%,#793da3 49.4%,#783ea3 83.7%,#7242a3 91.7%,#7540a3 99.7%)"></i><i style="left:74px;width:2px;background:linear-gradient(#6648a5 0.3%,#773fa3 50%,#763fa3 83.7%,#7043a4 91.7%,#7440a3 99.7%)"></i><i style="left:76px;width:2px;background:linear-gradient(#6648a5 0.3%,#7540a3 50.6%,#7540a3 83.7%,#6e44a4 91.7%,#7341a3 99.7%)"></i><i style="left:78px;width:2px;background:linear-gradient(#6648a5 0.3%,#7341a3 50.6%,#7341a3 83.7%,#6d46a4 92.3%,#7342a3 99.7%)"></i><i style="left:80px;width:2px;background:linear-gradient(#6449a5 0.3%,#7043a4 51.8%,#7043a4 83.7%,#6b46a4 94.2%,#7242a3 99.7%)"></i><i style="left:82px;width:2px;background:linear-gradient(#6349a5 0.3%,#6d45a4 51.2%,#6d45a4 83.7%,#6a47a4 94.2%,#7143a3 99.7%)"></i><i style="left:84px;width:2px;background:linear-gradient(#614aa5 0.3%,#6a47a4 51.2%,#6847a4 94.2%,#7043a4 99.7%)"></i><i style="left:86px;width:2px;background:linear-gradient(#5e4ba6 0.3%,#6748a5 51.2%,#6748a5 94.2%,#6f44a4 99.7%)"></i><i style="left:88px;width:2px;background:linear-gradient(#5c4ba6 0.3%,#6449a5 51.2%,#6548a5 93.6%,#6f44a4 99.7%)"></i><i style="left:90px;width:2px;background:linear-gradient(#5a4ca6 0.3%,#614aa5 51.2%,#6349a5 92.9%,#6449a5 95.4%,#6e45a4 99.7%)"></i><i style="left:92px;width:2px;background:linear-gradient(#574da6 0.3%,#604aa5 91.1%,#6249a5 95.4%,#6d45a4 99.7%)"></i><i style="left:94px;width:2px;background:linear-gradient(#534da7 0.3%,#544da7 23.6%,#5b4ca6 51.2%,#5c4ba6 85%,#604aa5 94.8%,#6c46a4 99.7%)"></i><i style="left:96px;width:2px;background:linear-gradient(#4e4ea7 0.3%,#4f4ea7 27.3%,#564da6 50.6%,#584ca6 84.4%,#5e4ba6 94.8%,#6b46a4 99.7%)"></i><i style="left:98px;width:2px;background:linear-gradient(#4750a8 0.3%,#4750a8 26.1%,#504ea7 50.6%,#544da7 83.7%,#5c4ba6 94.8%,#6b46a4 99.7%)"></i><i style="left:100px;width:2px;background:linear-gradient(#4350a7 0.3%,#4450a8 32.8%,#4f4ea7 83.7%,#5a4ca6 94.8%,#6a47a4 99.7%)"></i><i style="left:102px;width:2px;background:linear-gradient(#4050a7 0.3%,#4050a7 27.3%,#4a4fa8 82.5%,#574da6 94.2%,#6947a4 99.7%)"></i><i style="left:104px;width:2px;background:linear-gradient(#3d50a6 0.3%,#4650a8 83.7%,#544da7 94.2%,#6847a4 99.7%)"></i><i style="left:106px;width:2px;background:linear-gradient(#3c52a7 0.3%,#4450a8 84.4%,#514ea7 94.2%,#6748a5 99.7%)"></i><i style="left:108px;width:2px;background:linear-gradient(#3c54aa 0.3%,#3c50a6 51.8%,#4250a7 84.4%,#4f4ea7 94.2%,#6648a5 99.7%)"></i><i style="left:110px;width:2px;background:linear-gradient(#3b57ac 0.3%,#3c50a6 62.9%,#4050a7 83.7%,#4550a8 89.9%,#4c4fa7 94.2%,#6548a5 99.7%)"></i><i style="left:112px;width:2px;background:linear-gradient(#3b5aae 0.3%,#3e50a6 83.7%,#4a4fa8 94.2%,#6449a5 99.7%)"></i><i style="left:114px;width:2px;background:linear-gradient(#3b5cb0 0.3%,#3c50a6 83.7%,#4650a8 93.6%,#4c4fa7 95.4%,#5c4ba6 97.9%,#6249a5 99.7%)"></i><i style="left:116px;width:2px;background:linear-gradient(#3b5fb2 0.3%,#3b5bb0 39%,#3c50a6 85%,#4550a8 94.2%,#494fa8 95.4%,#5a4ca6 97.9%,#614aa5 99.7%)"></i><i style="left:118px;width:2px;background:linear-gradient(#3a61b4 0.3%,#3b5aaf 60.4%,#3c51a7 86.2%,#4550a8 94.8%,#594ca6 97.9%,#5f4aa5 99.7%)"></i><i style="left:120px;width:2px;background:linear-gradient(#3a69ba 0.3%,#3b5aaf 72.7%,#3c51a6 87.4%,#4550a8 95.4%,#574da6 97.9%,#5d4ba6 99.7%)"></i><i style="left:122px;width:2px;background:linear-gradient(#3b75c5 0.3%,#3a61b4 47.5%,#3b5bb0 76.4%,#3b57ac 84.4%,#3c50a6 88.7%,#4450a8 95.4%,#544da7 97.9%,#5c4ba6 99.7%)"></i><i style="left:124px;width:2px;background:linear-gradient(#3c8ad5 0.3%,#3a64b6 56.1%,#3b5baf 81.3%,#3c51a7 89.3%,#4450a8 96%,#5a4ca6 99.7%)"></i><i style="left:126px;width:2px;background:linear-gradient(#39a3e3 0.3%,#3c8ad5 30.4%,#3a64b6 67.8%,#3b5bb0 84.4%,#3c51a7 90.5%,#4550a8 96.6%,#584ca6 99.7%)"></i><i style="left:128px;width:2px;background:linear-gradient(#38baef 0.3%,#39ace8 23%,#3b8ed8 46.3%,#3b70c1 66%,#3a62b4 78.2%,#3b5db0 85.6%,#3c51a7 91.7%,#4350a8 96.6%,#554da6 99.7%)"></i><i style="left:130px;width:2px;background:linear-gradient(#39c2f0 0.3%,#38bcf0 24.8%,#38afe9 40.8%,#3b8dd7 60.4%,#3a64b6 80.7%,#3b5db1 86.8%,#3c50a6 93.6%,#4450a8 97.2%,#534da7 99.7%)"></i><i style="left:132px;width:2px;background:linear-gradient(#3bc3eb 0.3%,#39c2f1 27.3%,#38b7ed 50%,#39ade9 56.1%,#3b8ed8 69.6%,#3b71c1 79.4%,#3c51a7 94.2%,#4550a8 97.9%,#514ea7 99.7%)"></i><i style="left:134px;width:2px;background:linear-gradient(#3ec3e5 0.3%,#38c0f1 48.8%,#38b4ec 63.5%,#39ace8 67.8%,#3b91da 75.8%,#3a61b4 87.4%,#3c50a6 95.4%,#4550a8 98.5%,#4e4ea7 99.7%)"></i><i style="left:136px;width:2px;background:linear-gradient(#43c3d7 0.3%,#3fc4e2 12%,#39c2f1 53.1%,#38bbef 67.8%,#39ace8 75.2%,#3c84d1 83.1%,#3a63b5 88.7%,#3c51a6 96%,#4550a8 99.1%,#4c4fa7 99.7%)"></i><i style="left:138px;width:2px;background:linear-gradient(#53bd9d 0.3%,#48c2c7 15%,#42c3da 24.2%,#3ac3ed 55.5%,#39c2f1 66.6%,#38bcef 74.5%,#38b1ea 78.8%,#3b90d9 84.4%,#3a62b4 90.5%,#3c51a7 96.6%,#4450a8 99.1%,#494fa8 99.7%)"></i><i style="left:140px;width:2px;background:linear-gradient(#5bb855 0.3%,#5ab85c 5.8%,#4ec0b1 27.3%,#43c3d8 40.2%,#3fc4e2 45.1%,#39c2f0 73.9%,#38bcf0 78.8%,#39aee9 83.1%,#3c8ad5 87.4%,#3a64b6 91.7%,#3c50a6 97.2%,#4750a8 99.7%)"></i><i style="left:142px;width:2px;background:linear-gradient(#61b846 0.3%,#5db849 15.6%,#5bb85b 24.2%,#59b86a 27.9%,#4cc1bd 42.6%,#44c3d3 47.5%,#42c3d9 50%,#42c3da 56.1%,#3dc3e7 64.7%,#39c2f1 78.2%,#38baef 83.1%,#38b0ea 85.6%,#3c8bd6 89.3%,#3a66b8 92.9%,#3d50a6 97.9%,#4450a8 99.7%)"></i><i style="left:144px;width:2px;background:linear-gradient(#67ba44 0.3%,#5db849 31.6%,#5ab85b 37.7%,#52bea2 48.8%,#4cc1bb 56.1%,#40c4e0 63.5%,#38c1f1 83.1%,#38bcef 85.6%,#38b3eb 87.4%,#3b91d9 90.5%,#3a67b9 94.2%,#3c50a6 97.9%,#4350a8 99.7%)"></i><i style="left:146px;width:2px;background:linear-gradient(#69ba44 0.3%,#67b945 21.2%,#5db849 43.3%,#5bb859 48.2%,#59b86d 51.8%,#56ba88 55.5%,#4dc1ba 61%,#43c3d6 65.3%,#3fc4e1 70.9%,#38c2f1 85.6%,#38b4ec 89.3%,#3c8cd6 92.3%,#3a64b6 95.4%,#3c50a6 98.5%,#4250a7 99.7%)"></i><i style="left:148px;width:2px;background:linear-gradient(#6aba44 0.3%,#68ba44 26.7%,#5cb84a 52.5%,#5bb858 55.5%,#58b872 58.6%,#51bfa8 63.5%,#4bc1be 66.6%,#40c4e1 74.5%,#38c2f1 87.4%,#38b7ed 90.5%,#3c8cd6 93.6%,#3a65b6 96%,#3c52a8 98.5%,#4150a7 99.7%)"></i><i style="left:150px;width:2px;background:linear-gradient(#6aba44 0.3%,#68ba44 31.6%,#5cb849 57.4%,#5bb855 59.8%,#54bc93 66%,#51bfa8 68.4%,#44c3d5 75.2%,#3fc4e1 78.8%,#39c2f0 89.3%,#38bcef 91.1%,#38b1eb 92.3%,#3c89d4 94.8%,#3a63b5 96.6%,#3c51a7 99.1%,#4050a7 99.7%)"></i><i style="left:152px;width:2px;background:linear-gradient(#6bba44 0.3%,#66b945 43.9%,#5cb849 61%,#5bb851 62.9%,#57b982 68.4%,#4fc0b2 73.3%,#4ac2c3 75.8%,#40c4e1 82.5%,#39c2ef 90.5%,#38bbef 92.3%,#38b0ea 93.6%,#3c8bd6 95.4%,#3b6cbd 96.6%,#3a60b3 97.2%,#3f50a7 99.7%)"></i><i style="left:154px;width:2px;background:linear-gradient(#6bba44 0.3%,#66b945 46.3%,#5cb84a 64.7%,#5bb850 66%,#59b871 70.2%,#52bea5 75.2%,#4ec1b6 77.6%,#41c4dd 84.4%,#3cc3e9 89.9%,#39c2f0 91.7%,#38b4ec 94.2%,#39a8e6 94.8%,#3c87d3 96%,#3a65b6 97.2%,#3e50a6 99.7%)"></i><i style="left:156px;width:2px;background:linear-gradient(#6cbb44 0.3%,#67b945 46.3%,#5cb84b 67.8%,#5bb851 69%,#59b871 73.3%,#51bfa9 79.4%,#47c2cc 84.4%,#42c4db 86.8%,#3ac2ee 92.3%,#38bff1 93.6%,#38b6ed 94.8%,#3b93da 96%,#3b6cbd 97.2%,#3a60b3 97.9%,#3f50a7 99.7%)"></i><i style="left:158px;width:2px;background:linear-gradient(#6cbb44 0.3%,#67ba44 45.7%,#5cb84a 69%,#57b97c 77%,#4fc0b2 83.1%,#40c4df 89.3%,#39c2f1 93.6%,#38bbef 94.8%,#38b2eb 95.4%,#3c86d3 96.6%,#3b71c1 97.2%,#3a61b4 97.9%,#3c54aa 99.1%,#4150a7 99.7%)"></i><i style="left:160px;width:2px;background:linear-gradient(#67ba44 0.3%,#66b945 29.8%,#5db849 62.3%,#5bb858 67.8%,#59b869 70.9%,#50bfab 81.3%,#3fc4e2 89.3%,#3ac2ee 92.3%,#38bff1 93.6%,#38b5ec 94.8%,#39a6e5 95.4%,#3b90d9 96%,#3a67b9 97.2%,#3d50a6 99.1%,#4350a8 99.7%)"></i><i style="left:162px;width:2px;background:linear-gradient(#4abd9e 0.3%,#4abd9e 24.8%,#49bcaa 48.2%,#48bab4 54.3%,#44bcce 62.9%,#3db9e4 73.3%,#3ab2e8 87.4%,#39aee8 89.9%,#3aa6e4 91.1%,#3a9bde 92.3%,#3a85cf 94.2%,#3b5db1 96.6%,#3e50a7 98.5%,#4850a8 99.7%)"></i><i style="left:164px;width:2px;background:linear-gradient(#3b60b3 0.3%,#3b5fb2 53.1%,#3b58ac 91.1%,#4050a7 96.6%,#4e4ea7 99.7%)"></i><i style="left:166px;width:2px;background:linear-gradient(#4650a8 0.3%,#4650a8 91.1%,#4850a8 95.4%,#544da7 99.7%)"></i><i style="left:168px;width:8px;background:linear-gradient(#4e4ea7 0.3%,#4e4ea7 93.6%,#574ca6 99.7%)"></i></div></div>
<div class="hm" style="left:228px;top:725px;width:165px;height:163px"><div class="w" style="width:177px"><i style="left:0px;width:8px;background:linear-gradient(#4250a7 0.3%,#4650a8 24.8%,#6349a5 46.9%,#7043a4 67.2%,#7342a3 99.7%)"></i><i style="left:8px;width:2px;background:linear-gradient(#4050a7 0.3%,#4550a8 27.9%,#6349a5 46.9%,#7043a4 66%,#7342a3 99.7%)"></i><i style="left:10px;width:2px;background:linear-gradient(#3e50a6 0.3%,#4450a8 31%,#6249a5 46.9%,#7043a4 66%,#7342a3 99.7%)"></i><i style="left:12px;width:2px;background:linear-gradient(#3c51a7 0.3%,#3e50a6 21.8%,#4350a8 32.8%,#5e4ba6 47.5%,#7043a4 69%,#7342a3 99.7%)"></i><i style="left:14px;width:2px;background:linear-gradient(#3c54a9 0.3%,#4050a7 32.2%,#4450a8 39%,#564da6 50.6%,#6b46a4 70.9%,#7242a3 85.6%,#7342a3 99.7%)"></i><i style="left:16px;width:2px;background:linear-gradient(#3b57ac 0.3%,#3c51a7 28.5%,#4350a8 46.9%,#7143a3 85.6%,#7342a3 99.7%)"></i><i style="left:18px;width:2px;background:linear-gradient(#3b5aae 0.3%,#3c51a7 37.1%,#4350a8 59.8%,#4b4fa7 66.6%,#6f44a4 86.8%,#7342a3 99.7%)"></i><i style="left:20px;width:2px;background:linear-gradient(#3b5db0 0.3%,#3c51a7 49.4%,#4350a7 66.6%,#4a4fa7 73.9%,#6648a5 85.6%,#6f44a4 91.7%,#7342a3 99.7%)"></i><i style="left:22px;width:2px;background:linear-gradient(#3b5fb2 0.3%,#3c51a7 56.7%,#4250a7 72.7%,#484fa8 78.2%,#7043a4 94.2%,#7342a3 99.7%)"></i><i style="left:24px;width:2px;background:linear-gradient(#3a61b3 0.3%,#3c51a7 62.9%,#4150a7 74.5%,#484fa8 81.9%,#6d45a4 94.2%,#7242a3 99.7%)"></i><i style="left:26px;width:2px;background:linear-gradient(#3a67b8 0.3%,#3c51a7 67.8%,#4050a7 77%,#4750a8 85.6%,#514ea7 88.7%,#6947a4 94.2%,#7242a3 99.7%)"></i><i style="left:28px;width:2px;background:linear-gradient(#3b6fc0 0.3%,#3a62b4 18.1%,#3e50a6 78.2%,#4650a8 87.4%,#6648a5 94.2%,#7242a3 99.7%)"></i><i style="left:30px;width:2px;background:linear-gradient(#3b78c7 0.3%,#3a62b4 25.5%,#3d50a6 79.4%,#4550a8 88%,#6349a5 94.2%,#7242a3 99.7%)"></i><i style="left:32px;width:2px;background:linear-gradient(#3c82cf 0.3%,#3a62b4 31.6%,#3c50a6 80.7%,#4650a8 89.3%,#5d4ba6 93.6%,#7143a3 99.7%)"></i><i style="left:34px;width:2px;background:linear-gradient(#3c8bd6 0.3%,#3a62b4 36.5%,#3c50a6 81.9%,#4550a8 89.9%,#5a4ca6 93.6%,#7143a3 99.7%)"></i><i style="left:36px;width:2px;background:linear-gradient(#3b94db 0.3%,#3c85d2 14.4%,#3a62b4 39.6%,#3c50a6 83.1%,#4550a8 90.5%,#594ca6 94.2%,#7043a4 99.7%)"></i><i style="left:38px;width:2px;background:linear-gradient(#3a99de 0.3%,#3c87d3 16.9%,#3a62b4 40.8%,#3b58ad 72.1%,#3c50a6 84.4%,#4550a8 91.1%,#5a4ca6 94.8%,#6f44a4 99.7%)"></i><i style="left:40px;width:2px;background:linear-gradient(#3b94db 0.3%,#3c85d2 14.4%,#3a62b4 40.2%,#3b58ad 72.1%,#3c50a6 83.7%,#4650a8 91.1%,#5b4ca6 94.8%,#6f44a4 99.7%)"></i><i style="left:42px;width:2px;background:linear-gradient(#3c8bd6 0.3%,#3a62b4 37.1%,#3b58ad 72.1%,#3c50a6 83.1%,#4550a8 90.5%,#5a4ca6 94.2%,#7043a4 99.7%)"></i><i style="left:44px;width:2px;background:linear-gradient(#3c82cf 0.3%,#3a62b4 32.2%,#3b58ad 72.1%,#3c50a6 82.5%,#4550a8 89.9%,#5b4ca6 94.2%,#7043a4 99.7%)"></i><i style="left:46px;width:2px;background:linear-gradient(#3b79c8 0.3%,#3a62b4 26.1%,#3b58ad 72.1%,#3c50a6 82.5%,#4550a8 89.3%,#5b4ca6 93.6%,#7143a3 99.7%)"></i><i style="left:48px;width:2px;background:linear-gradient(#3b71c1 0.3%,#3a62b4 19.3%,#3b58ac 72.1%,#3c50a6 81.9%,#4550a8 88.7%,#5c4ba6 93.6%,#7143a3 99.7%)"></i><i style="left:50px;width:2px;background:linear-gradient(#3a6abb 0.3%,#3a61b4 12.6%,#3b57ac 73.9%,#3c50a6 81.9%,#4550a8 88%,#5c4ba6 92.9%,#7143a3 99.7%)"></i><i style="left:52px;width:2px;background:linear-gradient(#3a63b5 0.3%,#3b57ac 72.7%,#3c50a6 81.3%,#4550a8 87.4%,#604aa5 93.6%,#7142a3 99.7%)"></i><i style="left:54px;width:2px;background:linear-gradient(#3a60b3 0.3%,#3b57ac 73.3%,#3c50a6 81.3%,#4650a8 87.4%,#614aa5 93.6%,#7142a3 99.7%)"></i><i style="left:56px;width:2px;background:linear-gradient(#3b5fb2 0.3%,#3b57ac 72.7%,#3c50a6 81.3%,#4550a8 87.4%,#604aa5 93.6%,#7043a4 99.7%)"></i><i style="left:58px;width:2px;background:linear-gradient(#3b5db1 0.3%,#3b57ac 72.7%,#3c50a6 81.9%,#4550a8 88%,#5e4ba6 93.6%,#6f44a4 99.7%)"></i><i style="left:60px;width:2px;background:linear-gradient(#3b5cb0 0.3%,#3b57ac 72.1%,#3c51a6 81.9%,#4550a8 88.7%,#5c4ba6 93.6%,#6d45a4 99.7%)"></i><i style="left:62px;width:2px;background:linear-gradient(#3b5db1 0.3%,#3b5db1 28.5%,#3b57ac 72.7%,#3c50a6 82.5%,#4550a8 89.3%,#5a4ca6 93.6%,#6b46a4 99.7%)"></i><i style="left:64px;width:2px;background:linear-gradient(#3b5eb2 0.3%,#3b57ac 73.3%,#3c50a6 83.1%,#4450a8 89.9%,#5a4ca6 94.2%,#6a47a4 99.7%)"></i><i style="left:66px;width:2px;background:linear-gradient(#3a61b3 0.3%,#3b57ac 73.9%,#3c50a6 83.7%,#4450a8 90.5%,#5a4ca6 94.8%,#6847a4 99.7%)"></i><i style="left:68px;width:2px;background:linear-gradient(#3a64b6 0.3%,#3b57ac 75.2%,#3c50a6 85%,#4450a8 91.1%,#574da6 94.8%,#6748a5 99.7%)"></i><i style="left:70px;width:2px;background:linear-gradient(#3a6abb 0.3%,#3a62b4 15%,#3b57ac 75.8%,#3c50a6 85.6%,#4550a8 91.7%,#554da7 94.8%,#6548a5 99.7%)"></i><i style="left:72px;width:2px;background:linear-gradient(#3b6fbf 0.3%,#3a62b4 18.7%,#3b59ae 48.8%,#3b56ab 76.4%,#3c50a6 86.8%,#4550a8 92.3%,#524ea7 94.8%,#6449a5 99.7%)"></i><i style="left:74px;width:2px;background:linear-gradient(#3b72c2 0.3%,#3a62b4 21.8%,#3b59ae 48.8%,#3b56ab 77%,#3c50a6 87.4%,#4650a8 92.9%,#6249a5 99.7%)"></i><i style="left:76px;width:2px;background:linear-gradient(#3b74c4 0.3%,#3a62b4 24.8%,#3b59ae 48.8%,#3b56ab 78.2%,#3c50a6 88.7%,#4450a8 92.9%,#614aa5 99.7%)"></i><i style="left:78px;width:2px;background:linear-gradient(#3b77c6 0.3%,#3a62b4 26.7%,#3b59ae 48.8%,#3c56ab 80.1%,#3c50a6 89.3%,#4550a8 93.6%,#5f4aa5 99.7%)"></i><i style="left:80px;width:2px;background:linear-gradient(#3b77c7 0.3%,#3a62b4 26.7%,#3b59ae 48.8%,#3c56ab 80.7%,#3c51a7 89.3%,#4550a8 94.2%,#5e4ba6 99.7%)"></i><i style="left:82px;width:2px;background:linear-gradient(#3b75c5 0.3%,#3a62b4 25.5%,#3b59ae 48.8%,#3c56ab 80.7%,#3c51a7 89.3%,#4550a8 94.2%,#5c4ba6 99.7%)"></i><i style="left:84px;width:2px;background:linear-gradient(#3b72c2 0.3%,#3a62b4 22.4%,#3b59ae 48.8%,#3c56ab 80.7%,#3c50a6 89.9%,#4650a8 94.8%,#5b4ca6 99.7%)"></i><i style="left:86px;width:2px;background:linear-gradient(#3b70c0 0.3%,#3a62b4 19.3%,#3b59ae 48.8%,#3c56ab 80.1%,#3c50a6 89.9%,#4550a8 94.8%,#594ca6 99.7%)"></i><i style="left:88px;width:2px;background:linear-gradient(#3b6dbd 0.3%,#3a62b4 16.3%,#3c56ab 79.4%,#3c50a6 89.9%,#4550a8 95.4%,#574da6 99.7%)"></i><i style="left:90px;width:2px;background:linear-gradient(#3a68ba 0.3%,#3a62b4 12%,#3b56ab 78.8%,#3c50a6 89.9%,#4650a8 96%,#564da6 99.7%)"></i><i style="left:92px;width:2px;background:linear-gradient(#3a64b6 0.3%,#3b56ab 78.8%,#3c50a6 89.9%,#4550a8 96%,#554da6 99.7%)"></i><i style="left:94px;width:2px;background:linear-gradient(#3a61b4 0.3%,#3b57ab 77%,#3c50a6 89.9%,#4650a8 96.6%,#544da7 99.7%)"></i><i style="left:96px;width:2px;background:linear-gradient(#3a60b3 0.3%,#3b57ac 75.8%,#3c51a6 89.9%,#4550a8 96.6%,#534da7 99.7%)"></i><i style="left:98px;width:2px;background:linear-gradient(#3b5fb2 0.3%,#3b57ac 75.2%,#3c51a7 89.9%,#4550a8 97.2%,#524ea7 99.7%)"></i><i style="left:100px;width:2px;background:linear-gradient(#3b5eb1 0.3%,#3b57ac 74.5%,#3c50a6 90.5%,#4450a8 97.2%,#514ea7 99.7%)"></i><i style="left:102px;width:2px;background:linear-gradient(#3b5db1 0.3%,#3b57ac 74.5%,#3c50a6 90.5%,#4550a8 97.9%,#4f4ea7 99.7%)"></i><i style="left:104px;width:2px;background:linear-gradient(#3b5eb1 0.3%,#3b57ac 73.9%,#3c50a6 90.5%,#4450a8 97.9%,#4e4ea7 99.7%)"></i><i style="left:106px;width:2px;background:linear-gradient(#3b5fb2 0.3%,#3b57ac 72.1%,#3c50a6 90.5%,#4450a8 97.9%,#4e4ea7 99.7%)"></i><i style="left:108px;width:2px;background:linear-gradient(#3a60b2 0.3%,#3b58ad 67.8%,#3c50a6 90.5%,#4450a8 97.9%,#4d4ea7 99.7%)"></i><i style="left:110px;width:2px;background:linear-gradient(#3a60b3 0.3%,#3b5cb0 51.8%,#3c50a6 90.5%,#4550a8 98.5%,#4d4fa7 99.7%)"></i><i style="left:112px;width:2px;background:linear-gradient(#3a61b4 0.3%,#3b5cb0 55.5%,#3c50a6 90.5%,#4550a8 98.5%,#4c4fa7 99.7%)"></i><i style="left:114px;width:2px;background:linear-gradient(#3a64b6 0.3%,#3b5cb0 61%,#3c50a6 90.5%,#4550a8 98.5%,#4b4fa7 99.7%)"></i><i style="left:116px;width:2px;background:linear-gradient(#3a69ba 0.3%,#3a62b4 19.3%,#3b5baf 70.9%,#3c50a6 90.5%,#4350a8 97.9%,#4b4fa7 99.7%)"></i><i style="left:118px;width:2px;background:linear-gradient(#3b6ebf 0.3%,#3a62b4 27.9%,#3b5baf 72.7%,#3c50a6 90.5%,#4350a8 97.9%,#4a4fa7 99.7%)"></i><i style="left:120px;width:2px;background:linear-gradient(#3b73c3 0.3%,#3a63b5 35.9%,#3b5cb0 75.2%,#3c50a6 90.5%,#4350a8 97.9%,#4a4fa8 99.7%)"></i><i style="left:122px;width:2px;background:linear-gradient(#3b7ac9 0.3%,#3b6dbe 24.2%,#3b5cb0 77%,#3c50a6 91.1%,#4450a8 98.5%,#4a4fa8 99.7%)"></i><i style="left:124px;width:2px;background:linear-gradient(#3c80cd 0.3%,#3b73c3 21.8%,#3b6bbc 48.8%,#3b5cb0 79.4%,#3c51a7 91.7%,#4450a8 98.5%,#4a4fa8 99.7%)"></i><i style="left:126px;width:2px;background:linear-gradient(#3c84d1 0.3%,#3b6fc0 52.5%,#3a62b4 68.4%,#3b5bb0 83.1%,#3c54a9 90.5%,#3d50a6 92.9%,#4350a8 97.9%,#4a4fa8 99.7%)"></i><i style="left:128px;width:2px;background:linear-gradient(#3c87d3 0.3%,#3b77c7 50.6%,#3a62b4 72.7%,#3b5cb0 84.4%,#3b56ab 89.9%,#3c50a6 92.9%,#4450a8 98.5%,#4a4fa8 99.7%)"></i><i style="left:130px;width:2px;background:linear-gradient(#3c8ad5 0.3%,#3c7ecc 53.1%,#3a64b5 75.2%,#3b5bb0 87.4%,#3c50a6 92.9%,#4450a8 98.5%,#4a4fa8 99.7%)"></i><i style="left:132px;width:2px;background:linear-gradient(#3b8dd7 0.3%,#3c87d3 21.8%,#3c86d2 54.3%,#3c7fcc 61.7%,#3a63b5 79.4%,#3b5cb0 88%,#3c51a7 92.9%,#4450a8 98.5%,#4a4fa8 99.7%)"></i><i style="left:134px;width:2px;background:linear-gradient(#3b90d9 0.3%,#3c8bd6 23%,#3b8ed7 54.9%,#3c86d2 62.3%,#3a63b5 82.5%,#3b5db0 88.7%,#3c51a7 92.9%,#494fa8 99.7%)"></i><i style="left:136px;width:2px;background:linear-gradient(#3b93db 0.3%,#3b8ed8 23.6%,#3b94db 48.2%,#3b92da 56.1%,#3c82cf 69%,#3a63b5 85%,#3b5cb0 89.9%,#3c50a6 93.6%,#484fa8 99.7%)"></i><i style="left:138px;width:2px;background:linear-gradient(#3b95dc 0.3%,#3b91da 24.8%,#3b95dc 50%,#3b92da 58.6%,#3c7ecc 75.2%,#3b5fb2 89.3%,#3c50a6 94.2%,#4750a8 99.7%)"></i><i style="left:140px;width:2px;background:linear-gradient(#3b95dc 0.3%,#3b95dc 51.2%,#3b90d9 64.7%,#3c83d0 77.6%,#3c51a7 94.8%,#4550a8 99.7%)"></i><i style="left:142px;width:2px;background:linear-gradient(#3b95dc 0.3%,#3b95dc 54.3%,#3b8fd8 74.5%,#3c85d1 80.7%,#3a61b4 89.9%,#3c51a7 96%,#4450a8 99.7%)"></i><i style="left:144px;width:2px;background:linear-gradient(#3b95dc 0.3%,#3b93db 75.8%,#3c86d2 82.5%,#3a61b3 91.1%,#3c50a6 97.2%,#4350a7 99.7%)"></i><i style="left:146px;width:2px;background:linear-gradient(#3b95dc 0.3%,#3b94db 76.4%,#3c88d4 83.1%,#3b76c5 88%,#3a62b4 91.7%,#3c51a7 97.9%,#4150a7 99.7%)"></i><i style="left:148px;width:2px;background:linear-gradient(#3b95dc 0.3%,#3b94db 77.6%,#3b8ed8 81.9%,#3c83d0 86.2%,#3b79c8 88.7%,#3a63b5 92.3%,#3c51a7 98.5%,#4050a7 99.7%)"></i><i style="left:150px;width:2px;background:linear-gradient(#3b95dc 0.3%,#3b94db 78.2%,#3c85d1 87.4%,#3b7dcb 89.3%,#3a61b4 93.6%,#3e50a7 99.7%)"></i><i style="left:152px;width:2px;background:linear-gradient(#3b95dc 0.3%,#3b94db 80.1%,#3c87d3 88.7%,#3b7ecc 90.5%,#3a63b5 94.2%,#3b5baf 97.2%,#3d50a6 99.7%)"></i><i style="left:154px;width:2px;background:linear-gradient(#3b95dc 0.3%,#3b95dc 74.5%,#3b93da 83.1%,#3c8ad5 89.3%,#3c80cd 91.1%,#3a65b7 94.8%,#3b5cb0 97.9%,#3c51a7 99.7%)"></i><i style="left:156px;width:2px;background:linear-gradient(#3b95dc 0.3%,#3b95dc 74.5%,#3b92da 83.7%,#3c89d5 89.9%,#3a64b6 96%,#3b5cb0 98.5%,#3c53a9 99.7%)"></i><i style="left:158px;width:2px;background:linear-gradient(#3b95dc 0.3%,#3b93da 83.1%,#3c88d4 90.5%,#3a63b5 97.2%,#3b5cb0 99.1%,#3c55ab 99.7%)"></i><i style="left:160px;width:2px;background:linear-gradient(#3b95dc 0.3%,#3b93da 83.1%,#3b8ed8 88%,#3c88d4 90.5%,#3c56ab 99.7%)"></i><i style="left:162px;width:2px;background:linear-gradient(#3b91da 0.3%,#3b8fd8 83.7%,#3c86d3 89.3%,#3a66b8 94.2%,#3c52a8 99.7%)"></i><i style="left:164px;width:2px;background:linear-gradient(#3b72c2 0.3%,#3b71c1 82.5%,#3b6cbd 88.7%,#3a5fb2 92.3%,#3e50a7 99.7%)"></i><i style="left:166px;width:2px;background:linear-gradient(#3b58ac 0.3%,#3b57ac 86.8%,#3d50a6 96.6%,#4150a7 99.7%)"></i><i style="left:168px;width:2px;background:linear-gradient(#3f50a7 0.3%,#3f50a7 88.7%,#4350a8 99.7%)"></i><i style="left:170px;width:7px;background:linear-gradient(#4150a7 0.3%,#4250a7 89.9%,#4450a8 99.7%)"></i></div></div>
<div class="hm" style="left:402px;top:725px;width:165px;height:163px"><div class="w" style="width:177px"><i style="left:0px;width:8px;background:linear-gradient(#6947a4 0.3%,#7441a3 99.7%)"></i><i style="left:8px;width:2px;background:linear-gradient(#6947a4 0.3%,#7341a3 99.7%)"></i><i style="left:10px;width:2px;background:linear-gradient(#6847a4 0.3%,#6b46a4 50%,#7341a3 99.7%)"></i><i style="left:12px;width:2px;background:linear-gradient(#6847a4 0.3%,#6b46a4 50%,#7341a3 99.7%)"></i><i style="left:14px;width:2px;background:linear-gradient(#6748a5 0.3%,#6a47a4 50%,#7342a3 99.7%)"></i><i style="left:16px;width:2px;background:linear-gradient(#6748a5 0.3%,#6a47a4 50%,#7242a3 99.7%)"></i><i style="left:18px;width:2px;background:linear-gradient(#6748a5 0.3%,#6a47a4 50%,#7242a3 99.7%)"></i><i style="left:20px;width:2px;background:linear-gradient(#6648a5 0.3%,#6947a4 50%,#7242a3 99.7%)"></i><i style="left:22px;width:2px;background:linear-gradient(#6648a5 0.3%,#6947a4 50%,#7142a3 99.7%)"></i><i style="left:24px;width:2px;background:linear-gradient(#6648a5 0.3%,#6947a4 50.6%,#7142a3 99.7%)"></i><i style="left:26px;width:2px;background:linear-gradient(#6648a5 0.3%,#6947a4 50.6%,#7142a3 99.7%)"></i><i style="left:28px;width:2px;background:linear-gradient(#6648a5 0.3%,#6947a4 50.6%,#7143a3 99.7%)"></i><i style="left:30px;width:2px;background:linear-gradient(#6648a5 0.3%,#6947a4 50%,#7143a3 99.7%)"></i><i style="left:32px;width:2px;background:linear-gradient(#6648a5 0.3%,#6947a4 50%,#7143a3 99.7%)"></i><i style="left:34px;width:2px;background:linear-gradient(#6648a5 0.3%,#6947a4 50%,#7143a3 99.7%)"></i><i style="left:36px;width:2px;background:linear-gradient(#6648a5 0.3%,#6947a4 50%,#7143a3 99.7%)"></i><i style="left:38px;width:2px;background:linear-gradient(#6648a5 0.3%,#7143a3 99.7%)"></i><i style="left:40px;width:2px;background:linear-gradient(#6648a5 0.3%,#7143a3 99.7%)"></i><i style="left:42px;width:2px;background:linear-gradient(#6648a5 0.3%,#7143a3 99.7%)"></i><i style="left:44px;width:2px;background:linear-gradient(#6648a5 0.3%,#7143a3 99.7%)"></i><i style="left:46px;width:2px;background:linear-gradient(#6648a5 0.3%,#7143a3 99.7%)"></i><i style="left:48px;width:2px;background:linear-gradient(#6648a5 0.3%,#7143a3 99.7%)"></i><i style="left:50px;width:2px;background:linear-gradient(#6648a5 0.3%,#7143a3 99.7%)"></i><i style="left:52px;width:2px;background:linear-gradient(#6648a5 0.3%,#7143a3 99.7%)"></i><i style="left:54px;width:2px;background:linear-gradient(#6648a5 0.3%,#7143a3 99.7%)"></i><i style="left:56px;width:2px;background:linear-gradient(#6648a5 0.3%,#7143a3 99.7%)"></i><i style="left:58px;width:2px;background:linear-gradient(#6648a5 0.3%,#7143a3 99.7%)"></i><i style="left:60px;width:2px;background:linear-gradient(#6648a5 0.3%,#7143a3 99.7%)"></i><i style="left:62px;width:2px;background:linear-gradient(#6648a5 0.3%,#7143a3 99.7%)"></i><i style="left:64px;width:2px;background:linear-gradient(#6648a5 0.3%,#7143a3 99.7%)"></i><i style="left:66px;width:2px;background:linear-gradient(#6648a5 0.3%,#7143a3 99.7%)"></i><i style="left:68px;width:2px;background:linear-gradient(#6648a5 0.3%,#7043a4 99.7%)"></i><i style="left:70px;width:2px;background:linear-gradient(#6648a5 0.3%,#7043a4 99.7%)"></i><i style="left:72px;width:2px;background:linear-gradient(#6648a5 0.3%,#7043a4 99.7%)"></i><i style="left:74px;width:2px;background:linear-gradient(#6648a5 0.3%,#7043a4 99.7%)"></i><i style="left:76px;width:2px;background:linear-gradient(#6648a5 0.3%,#7043a4 99.7%)"></i><i style="left:78px;width:2px;background:linear-gradient(#6648a5 0.3%,#7043a4 99.7%)"></i><i style="left:80px;width:2px;background:linear-gradient(#6648a5 0.3%,#7043a4 99.7%)"></i><i style="left:82px;width:2px;background:linear-gradient(#6548a5 0.3%,#7043a4 99.7%)"></i><i style="left:84px;width:2px;background:linear-gradient(#6449a5 0.3%,#7043a4 99.7%)"></i><i style="left:86px;width:2px;background:linear-gradient(#6249a5 0.3%,#7043a4 99.7%)"></i><i style="left:88px;width:2px;background:linear-gradient(#614aa5 0.3%,#7043a4 99.7%)"></i><i style="left:90px;width:2px;background:linear-gradient(#604aa5 0.3%,#7043a4 99.7%)"></i><i style="left:92px;width:2px;background:linear-gradient(#5f4aa5 0.3%,#7043a4 99.7%)"></i><i style="left:94px;width:2px;background:linear-gradient(#5e4ba6 0.3%,#7043a4 99.7%)"></i><i style="left:96px;width:2px;background:linear-gradient(#5d4ba6 0.3%,#6349a5 46.9%,#6c46a4 67.2%,#7043a4 99.7%)"></i><i style="left:98px;width:2px;background:linear-gradient(#5a4ca6 0.3%,#6249a5 48.2%,#6c46a4 70.2%,#7043a4 99.7%)"></i><i style="left:100px;width:2px;background:linear-gradient(#574da6 0.3%,#604aa5 48.8%,#6d45a4 73.3%,#7043a4 99.7%)"></i><i style="left:102px;width:2px;background:linear-gradient(#534da7 0.3%,#5e4ba6 48.8%,#6d45a4 74.5%,#7043a4 99.7%)"></i><i style="left:104px;width:2px;background:linear-gradient(#504ea7 0.3%,#5c4ba6 48.8%,#6d45a4 76.4%,#7043a4 99.7%)"></i><i style="left:106px;width:2px;background:linear-gradient(#4c4fa7 0.3%,#584ca6 46.9%,#6c46a4 77%,#7043a4 99.7%)"></i><i style="left:108px;width:2px;background:linear-gradient(#494fa8 0.3%,#544da7 46.9%,#6b46a4 77.6%,#7043a4 99.7%)"></i><i style="left:110px;width:2px;background:linear-gradient(#4750a8 0.3%,#514ea7 47.5%,#6947a4 76.4%,#7044a4 99.7%)"></i><i style="left:112px;width:2px;background:linear-gradient(#4550a8 0.3%,#4e4ea7 48.2%,#6748a5 75.2%,#6e45a4 88%,#7044a4 99.7%)"></i><i style="left:114px;width:2px;background:linear-gradient(#4450a8 0.3%,#4b4fa7 48.2%,#6548a5 74.5%,#6e45a4 89.9%,#7044a4 99.7%)"></i><i style="left:116px;width:2px;background:linear-gradient(#4350a8 0.3%,#494fa8 48.8%,#6349a5 74.5%,#6e44a4 91.7%,#7044a4 99.7%)"></i><i style="left:118px;width:2px;background:linear-gradient(#4250a7 0.3%,#4650a8 48.8%,#6249a5 75.2%,#7044a4 99.7%)"></i><i style="left:120px;width:2px;background:linear-gradient(#4250a7 0.3%,#4550a8 51.2%,#604aa5 75.8%,#7044a4 99.7%)"></i><i style="left:122px;width:2px;background:linear-gradient(#4250a7 0.3%,#4550a8 53.7%,#5e4ba6 75.2%,#7044a4 99.7%)"></i><i style="left:124px;width:2px;background:linear-gradient(#4250a7 0.3%,#4550a8 56.7%,#5b4ca6 74.5%,#6f44a4 99.7%)"></i><i style="left:126px;width:2px;background:linear-gradient(#4250a7 0.3%,#4550a8 59.2%,#5a4ca6 76.4%,#6f44a4 99.7%)"></i><i style="left:128px;width:2px;background:linear-gradient(#4250a7 0.3%,#4550a8 61.7%,#6f44a4 99.7%)"></i><i style="left:130px;width:2px;background:linear-gradient(#4250a7 0.3%,#4450a8 63.5%,#6f44a4 99.7%)"></i><i style="left:132px;width:2px;background:linear-gradient(#4250a7 0.3%,#4450a8 65.3%,#6847a4 96.6%,#6f44a4 99.7%)"></i><i style="left:134px;width:2px;background:linear-gradient(#4250a7 0.3%,#4450a8 67.2%,#6847a4 97.2%,#6e45a4 99.7%)"></i><i style="left:136px;width:2px;background:linear-gradient(#4250a7 0.3%,#4350a8 68.4%,#514ea7 81.3%,#6c46a4 99.7%)"></i><i style="left:138px;width:2px;background:linear-gradient(#4250a7 0.3%,#4350a8 70.2%,#4d4ea7 81.3%,#6a47a4 99.7%)"></i><i style="left:140px;width:2px;background:linear-gradient(#4250a7 0.3%,#4350a8 72.1%,#4b4fa7 81.9%,#6847a4 99.7%)"></i><i style="left:142px;width:2px;background:linear-gradient(#4250a7 0.3%,#4350a8 75.2%,#4a4fa8 83.7%,#6548a5 99.7%)"></i><i style="left:144px;width:2px;background:linear-gradient(#4250a7 0.3%,#4350a8 78.2%,#494fa8 85%,#6349a5 99.7%)"></i><i style="left:146px;width:2px;background:linear-gradient(#4250a7 0.3%,#4350a8 80.1%,#4750a8 86.2%,#614aa5 99.7%)"></i><i style="left:148px;width:2px;background:linear-gradient(#4250a7 0.3%,#4350a7 82.5%,#4650a8 88%,#5e4ba6 99.7%)"></i><i style="left:150px;width:2px;background:linear-gradient(#4250a7 0.3%,#4350a7 84.4%,#4650a8 89.9%,#5c4ba6 99.7%)"></i><i style="left:152px;width:2px;background:linear-gradient(#4250a7 0.3%,#4350a7 86.8%,#4650a8 91.7%,#594ca6 99.7%)"></i><i style="left:154px;width:2px;background:linear-gradient(#4250a7 0.3%,#4250a7 88%,#4550a8 92.9%,#554da7 99.7%)"></i><i style="left:156px;width:2px;background:linear-gradient(#4250a7 0.3%,#4250a7 89.9%,#4550a8 94.2%,#504ea7 99.7%)"></i><i style="left:158px;width:2px;background:linear-gradient(#4250a7 0.3%,#4250a7 91.7%,#4550a8 97.2%,#4b4fa7 99.7%)"></i><i style="left:160px;width:2px;background:linear-gradient(#4250a7 0.3%,#4250a7 92.9%,#4750a8 99.7%)"></i><i style="left:162px;width:2px;background:linear-gradient(#4250a7 0.3%,#4450a8 99.7%)"></i><i style="left:164px;width:2px;background:linear-gradient(#4250a7 0.3%,#4350a8 99.7%)"></i><i style="left:166px;width:2px;background:linear-gradient(#4250a7 0.3%,#4350a8 99.7%)"></i><i style="left:168px;width:2px;background:linear-gradient(#4350a8 0.3%,#4450a8 99.7%)"></i><i style="left:170px;width:7px;background:linear-gradient(#4350a8 0.3%,#4450a8 99.7%)"></i></div></div>

<svg width="783" height="945" viewBox="0 0 783 945" font-family="Liberation Sans, sans-serif">
<rect x="0.9" y="0.5" width="779.4" height="460.6" fill="none" stroke="#5a5a5a" stroke-width="1.2"/>
<rect x="0.9" y="467.4" width="610.6" height="475.2" fill="none" stroke="#5a5a5a" stroke-width="1.2"/>
<text x="9.6" y="21.6" font-family="Liberation Serif, serif" font-size="18" fill="#111">a</text>
<text x="9.6" y="489.1" font-family="Liberation Serif, serif" font-size="18" fill="#111">b</text>
<path d="M214.9 59.0V223.0H51.0" stroke="#2b2340" stroke-opacity=".8" stroke-width=".8" fill="none"/>
<path d="M387.9 59.0V223.0H224.0" stroke="#2b2340" stroke-opacity=".8" stroke-width=".8" fill="none"/>
<path d="M560.9 59.0V223.0H397.0" stroke="#2b2340" stroke-opacity=".8" stroke-width=".8" fill="none"/>
<path d="M733.9 59.0V222.0H569.0" stroke="#2b2340" stroke-opacity=".8" stroke-width=".8" fill="none"/>
<path d="M213.9 245.0V408.0H50.0" stroke="#2b2340" stroke-opacity=".8" stroke-width=".8" fill="none"/>
<path d="M387.9 245.0V408.0H224.0" stroke="#2b2340" stroke-opacity=".8" stroke-width=".8" fill="none"/>
<path d="M559.9 245.0V408.0H397.0" stroke="#2b2340" stroke-opacity=".8" stroke-width=".8" fill="none"/>
<path d="M732.9 245.0V408.0H569.0" stroke="#2b2340" stroke-opacity=".8" stroke-width=".8" fill="none"/>
<path d="M219.9 539.0V703.0H56.0" stroke="#2b2340" stroke-opacity=".8" stroke-width=".8" fill="none"/>
<path d="M392.9 538.0V703.0H228.0" stroke="#2b2340" stroke-opacity=".8" stroke-width=".8" fill="none"/>
<path d="M564.9 538.0V702.0H401.0" stroke="#2b2340" stroke-opacity=".8" stroke-width=".8" fill="none"/>
<path d="M218.9 725.0V888.0H55.0" stroke="#2b2340" stroke-opacity=".8" stroke-width=".8" fill="none"/>
<path d="M392.9 725.0V888.0H228.0" stroke="#2b2340" stroke-opacity=".8" stroke-width=".8" fill="none"/>
<path d="M566.9 725.0V888.0H402.0" stroke="#2b2340" stroke-opacity=".8" stroke-width=".8" fill="none"/>
<path d="M76.8 59V223M102.6 59V223M128.3 59V223M154.1 59V223M179.9 59V223M205.7 59V223M51 100.0H215M51 141.0H215M51 182.0H215M249.8 59V223M275.6 59V223M301.3 59V223M327.1 59V223M352.9 59V223M378.7 59V223M224 100.0H388M224 141.0H388M224 182.0H388M422.8 59V223M448.6 59V223M474.3 59V223M500.1 59V223M525.9 59V223M551.7 59V223M397 100.0H561M397 141.0H561M397 182.0H561M594.8 59V222M620.6 59V222M646.3 59V222M672.1 59V222M697.9 59V222M723.7 59V222M569 99.8H734M569 140.5H734M569 181.2H734M75.8 245V408M101.6 245V408M127.3 245V408M153.1 245V408M178.9 245V408M204.7 245V408M50 285.8H214M50 326.5H214M50 367.2H214M249.8 245V408M275.6 245V408M301.3 245V408M327.1 245V408M352.9 245V408M378.7 245V408M224 285.8H388M224 326.5H388M224 367.2H388M422.8 245V408M448.6 245V408M474.3 245V408M500.1 245V408M525.9 245V408M551.7 245V408M397 285.8H560M397 326.5H560M397 367.2H560M594.8 245V408M620.6 245V408M646.3 245V408M672.1 245V408M697.9 245V408M723.7 245V408M569 285.8H733M569 326.5H733M569 367.2H733M81.8 539V703M107.6 539V703M133.3 539V703M159.1 539V703M184.9 539V703M210.7 539V703M56 580.0H220M56 621.0H220M56 662.0H220M253.8 538V703M279.6 538V703M305.3 538V703M331.1 538V703M356.9 538V703M382.7 538V703M228 579.2H393M228 620.5H393M228 661.8H393M426.8 538V702M452.6 538V702M478.3 538V702M504.1 538V702M529.9 538V702M555.7 538V702M401 579.0H565M401 620.0H565M401 661.0H565M80.8 725V888M106.6 725V888M132.3 725V888M158.1 725V888M183.9 725V888M209.7 725V888M55 765.8H219M55 806.5H219M55 847.2H219M253.8 725V888M279.6 725V888M305.3 725V888M331.1 725V888M356.9 725V888M382.7 725V888M228 765.8H393M228 806.5H393M228 847.2H393M427.8 725V888M453.6 725V888M479.3 725V888M505.1 725V888M530.9 725V888M556.7 725V888M402 765.8H567M402 806.5H567M402 847.2H567" stroke="#fff" stroke-opacity=".035" stroke-width=".9" fill="none"/>
<text transform="translate(52.4 42.0) scale(1.100 1)" font-size="8.20" font-weight="bold" fill="#231f20" stroke-width=".28"><tspan dy="0.0" fill="#231f20" stroke="#231f20">9WO</tspan><tspan dy="1.6" font-size="5.08" fill="#231f20" stroke="#231f20">x</tspan><tspan dy="-1.6" fill="#231f20" stroke="#231f20">/SiO</tspan><tspan dy="1.6" font-size="5.08" fill="#231f20" stroke="#231f20">2</tspan><tspan dy="-1.6" fill="#231f20" stroke="#231f20"> + SiO</tspan><tspan dy="1.6" font-size="5.08" fill="#231f20" stroke="#231f20">2</tspan><tspan dy="-1.6" font-weight="normal" fill="#231f20"> (</tspan><tspan dy="0.0" fill="#e5242a" stroke="#e5242a">300</tspan><tspan dy="-2.7" font-size="5.74" fill="#e5242a" stroke="#e5242a">o</tspan><tspan dy="2.7" fill="#e5242a" stroke="#e5242a">C</tspan><tspan dy="0.0" font-weight="normal" fill="#231f20">)</tspan></text>
<text transform="translate(225.1 41.9) scale(1.100 1)" font-size="8.20" font-weight="bold" fill="#231f20" stroke-width=".28"><tspan dy="0.0" fill="#231f20" stroke="#231f20">9WO</tspan><tspan dy="1.6" font-size="5.08" fill="#231f20" stroke="#231f20">x</tspan><tspan dy="-1.6" fill="#231f20" stroke="#231f20">/SiO</tspan><tspan dy="1.6" font-size="5.08" fill="#231f20" stroke="#231f20">2</tspan><tspan dy="-1.6" fill="#231f20" stroke="#231f20"> + MgO</tspan><tspan dy="0.0" font-weight="normal" fill="#231f20"> (</tspan><tspan dy="0.0" fill="#e5242a" stroke="#e5242a">300</tspan><tspan dy="-2.7" font-size="5.74" fill="#e5242a" stroke="#e5242a">o</tspan><tspan dy="2.7" fill="#e5242a" stroke="#e5242a">C</tspan><tspan dy="0.0" font-weight="normal" fill="#231f20">)</tspan></text>
<text transform="translate(396.2 43.3) scale(1.100 1)" font-size="8.20" font-weight="bold" fill="#231f20" stroke-width=".28"><tspan dy="0.0" fill="#231f20" stroke="#231f20">9WO</tspan><tspan dy="1.6" font-size="5.08" fill="#231f20" stroke="#231f20">x</tspan><tspan dy="-1.6" fill="#231f20" stroke="#231f20">/SiO</tspan><tspan dy="1.6" font-size="5.08" fill="#231f20" stroke="#231f20">2</tspan><tspan dy="-1.6" fill="#231f20" stroke="#231f20"> + SiO</tspan><tspan dy="1.6" font-size="5.08" fill="#231f20" stroke="#231f20">2</tspan><tspan dy="-1.6" font-weight="normal" fill="#231f20"> (</tspan><tspan dy="0.0" fill="#3d4fa1" stroke="#3d4fa1">450</tspan><tspan dy="-2.7" font-size="5.74" fill="#3d4fa1" stroke="#3d4fa1">o</tspan><tspan dy="2.7" fill="#3d4fa1" stroke="#3d4fa1">C</tspan><tspan dy="0.0" font-weight="normal" fill="#231f20">)</tspan></text>
<text transform="translate(569.6 42.2) scale(1.100 1)" font-size="8.20" font-weight="bold" fill="#231f20" stroke-width=".28"><tspan dy="0.0" fill="#231f20" stroke="#231f20">9WO</tspan><tspan dy="1.6" font-size="5.08" fill="#231f20" stroke="#231f20">x</tspan><tspan dy="-1.6" fill="#231f20" stroke="#231f20">/SiO</tspan><tspan dy="1.6" font-size="5.08" fill="#231f20" stroke="#231f20">2</tspan><tspan dy="-1.6" fill="#231f20" stroke="#231f20"> + MgO</tspan><tspan dy="0.0" font-weight="normal" fill="#231f20"> (</tspan><tspan dy="0.0" fill="#3d4fa1" stroke="#3d4fa1">450</tspan><tspan dy="-2.7" font-size="5.74" fill="#3d4fa1" stroke="#3d4fa1">o</tspan><tspan dy="2.7" fill="#3d4fa1" stroke="#3d4fa1">C</tspan><tspan dy="0.0" font-weight="normal" fill="#231f20">)</tspan></text>
<text transform="translate(52.4 55.7) scale(1.100 1)" font-size="8.20" font-weight="bold" text-anchor="start" fill="#231f20"  stroke="#231f20" stroke-width=".28">Top Bed</text>
<text transform="translate(225.1 54.9) scale(1.100 1)" font-size="8.20" font-weight="bold" text-anchor="start" fill="#231f20"  stroke="#231f20" stroke-width=".28">Top Bed</text>
<text transform="translate(396.2 56.3) scale(1.100 1)" font-size="8.20" font-weight="bold" text-anchor="start" fill="#231f20"  stroke="#231f20" stroke-width=".28">Top Bed</text>
<text transform="translate(569.6 55.7) scale(1.100 1)" font-size="8.20" font-weight="bold" text-anchor="start" fill="#231f20"  stroke="#231f20" stroke-width=".28">Top Bed</text>
<text transform="translate(51.3 240.9) scale(1.100 1)" font-size="8.20" font-weight="bold" text-anchor="start" fill="#231f20"  stroke="#231f20" stroke-width=".28">Bottom Bed</text>
<text transform="translate(226.1 240.7) scale(1.100 1)" font-size="8.20" font-weight="bold" text-anchor="start" fill="#231f20"  stroke="#231f20" stroke-width=".28">Bottom Bed</text>
<text transform="translate(397.4 242.4) scale(1.100 1)" font-size="8.20" font-weight="bold" text-anchor="start" fill="#231f20"  stroke="#231f20" stroke-width=".28">Bottom Bed</text>
<text transform="translate(568.8 241.8) scale(1.100 1)" font-size="8.20" font-weight="bold" text-anchor="start" fill="#231f20"  stroke="#231f20" stroke-width=".28">Bottom Bed</text>
<text transform="translate(55.7 510.9) scale(1.100 1)" font-size="8.20" font-weight="bold" fill="#231f20" stroke-width=".28"><tspan dy="0.0" fill="#231f20" stroke="#231f20">9WO</tspan><tspan dy="1.6" font-size="5.08" fill="#231f20" stroke="#231f20">x</tspan><tspan dy="-1.6" fill="#231f20" stroke="#231f20">/SiO</tspan><tspan dy="1.6" font-size="5.08" fill="#231f20" stroke="#231f20">2</tspan><tspan dy="-1.6" fill="#231f20" stroke="#231f20"> + MgO</tspan><tspan dy="0.0" font-weight="normal" fill="#231f20"> (</tspan><tspan dy="0.0" fill="#e5242a" stroke="#e5242a">300</tspan><tspan dy="-2.7" font-size="5.74" fill="#e5242a" stroke="#e5242a">o</tspan><tspan dy="2.7" fill="#e5242a" stroke="#e5242a">C</tspan><tspan dy="0.0" font-weight="normal" fill="#231f20">)</tspan></text>
<text transform="translate(55.7 524.0) scale(1.100 1)" font-size="8.20" font-weight="bold" text-anchor="start" fill="#8c1c2c" font-style="italic" stroke="#8c1c2c" stroke-width=".28">1-Butene</text>
<text transform="translate(55.7 535.5) scale(1.100 1)" font-size="8.20" font-weight="bold" text-anchor="start" fill="#231f20"  stroke="#231f20" stroke-width=".28">Top Bed</text>
<text transform="translate(227.3 509.7) scale(1.100 1)" font-size="8.20" font-weight="bold" fill="#231f20" stroke-width=".28"><tspan dy="0.0" fill="#231f20" stroke="#231f20">9WO</tspan><tspan dy="1.6" font-size="5.08" fill="#231f20" stroke="#231f20">x</tspan><tspan dy="-1.6" fill="#231f20" stroke="#231f20">/SiO</tspan><tspan dy="1.6" font-size="5.08" fill="#231f20" stroke="#231f20">2</tspan><tspan dy="-1.6" fill="#231f20" stroke="#231f20"> + MgO</tspan><tspan dy="0.0" font-weight="normal" fill="#231f20"> (</tspan><tspan dy="0.0" fill="#e5242a" stroke="#e5242a">300</tspan><tspan dy="-2.7" font-size="5.74" fill="#e5242a" stroke="#e5242a">o</tspan><tspan dy="2.7" fill="#e5242a" stroke="#e5242a">C</tspan><tspan dy="0.0" font-weight="normal" fill="#231f20">)</tspan></text>
<text transform="translate(227.3 522.3) scale(1.100 1)" font-size="8.20" font-weight="bold" text-anchor="start" fill="#8c1c2c" font-style="italic" stroke="#8c1c2c" stroke-width=".28">iso-Butene</text>
<text transform="translate(227.3 534.1) scale(1.100 1)" font-size="8.20" font-weight="bold" text-anchor="start" fill="#231f20"  stroke="#231f20" stroke-width=".28">Top Bed</text>
<text transform="translate(402.1 510.5) scale(1.100 1)" font-size="8.20" font-weight="bold" fill="#231f20" stroke-width=".28"><tspan dy="0.0" fill="#231f20" stroke="#231f20">9WO</tspan><tspan dy="1.6" font-size="5.08" fill="#231f20" stroke="#231f20">x</tspan><tspan dy="-1.6" fill="#231f20" stroke="#231f20">/SiO</tspan><tspan dy="1.6" font-size="5.08" fill="#231f20" stroke="#231f20">2</tspan><tspan dy="-1.6" fill="#231f20" stroke="#231f20"> + MgO</tspan><tspan dy="0.0" font-weight="normal" fill="#231f20"> (</tspan><tspan dy="0.0" fill="#e5242a" stroke="#e5242a">300</tspan><tspan dy="-2.7" font-size="5.74" fill="#e5242a" stroke="#e5242a">o</tspan><tspan dy="2.7" fill="#e5242a" stroke="#e5242a">C</tspan><tspan dy="0.0" font-weight="normal" fill="#231f20">)</tspan></text>
<text transform="translate(402.1 522.6) scale(1.100 1)" font-size="8.20" font-weight="bold" text-anchor="start" fill="#8c1c2c" font-style="italic" stroke="#8c1c2c" stroke-width=".28">Trans-2-Butene</text>
<text transform="translate(402.1 535.0) scale(1.100 1)" font-size="8.20" font-weight="bold" text-anchor="start" fill="#231f20"  stroke="#231f20" stroke-width=".28">Top Bed</text>
<text transform="translate(54.9 721.0) scale(1.100 1)" font-size="8.20" font-weight="bold" text-anchor="start" fill="#231f20"  stroke="#231f20" stroke-width=".28">Bottom Bed</text>
<text transform="translate(228.9 719.5) scale(1.100 1)" font-size="8.20" font-weight="bold" text-anchor="start" fill="#231f20"  stroke="#231f20" stroke-width=".28">Bottom Bed</text>
<text transform="translate(402.9 720.3) scale(1.100 1)" font-size="8.20" font-weight="bold" text-anchor="start" fill="#231f20"  stroke="#231f20" stroke-width=".28">Bottom Bed</text>
<path d="M50.4 408.2v3.2M63.3 408.2v1.8M76.2 408.2v3.2M89.1 408.2v1.8M102.0 408.2v3.2M114.9 408.2v1.8M127.7 408.2v3.2M140.6 408.2v1.8M153.5 408.2v3.2M166.4 408.2v1.8M179.3 408.2v3.2M192.2 408.2v1.8M205.1 408.2v3.2" stroke="#231f20" stroke-width=".7" fill="none"/>
<text transform="translate(47.8 413.6) rotate(90)" font-size="7.40" font-weight="normal" text-anchor="start" fill="#231f20" stroke="#231f20" stroke-width=".18">40000</text>
<text transform="translate(73.6 413.6) rotate(90)" font-size="7.40" font-weight="normal" text-anchor="start" fill="#231f20" stroke="#231f20" stroke-width=".18">35000</text>
<text transform="translate(99.4 413.6) rotate(90)" font-size="7.40" font-weight="normal" text-anchor="start" fill="#231f20" stroke="#231f20" stroke-width=".18">30000</text>
<text transform="translate(125.1 413.6) rotate(90)" font-size="7.40" font-weight="normal" text-anchor="start" fill="#231f20" stroke="#231f20" stroke-width=".18">25000</text>
<text transform="translate(150.9 413.6) rotate(90)" font-size="7.40" font-weight="normal" text-anchor="start" fill="#231f20" stroke="#231f20" stroke-width=".18">20000</text>
<text transform="translate(176.7 413.6) rotate(90)" font-size="7.40" font-weight="normal" text-anchor="start" fill="#231f20" stroke="#231f20" stroke-width=".18">15000</text>
<text transform="translate(202.5 413.6) rotate(90)" font-size="7.40" font-weight="normal" text-anchor="start" fill="#231f20" stroke="#231f20" stroke-width=".18">10000</text>
<text x="132.0" y="446.7" font-size="8.8" text-anchor="middle" fill="#231f20" stroke="#231f20" stroke-width=".15">Wavenumber (cm<tspan dy="-3" font-size="5.4">-1</tspan><tspan dy="3">)</tspan></text>
<path d="M224.3 407.6v3.2M237.2 407.6v1.8M250.1 407.6v3.2M263.0 407.6v1.8M275.9 407.6v3.2M288.8 407.6v1.8M301.6 407.6v3.2M314.5 407.6v1.8M327.4 407.6v3.2M340.3 407.6v1.8M353.2 407.6v3.2M366.1 407.6v1.8M379.0 407.6v3.2" stroke="#231f20" stroke-width=".7" fill="none"/>
<text transform="translate(221.7 413.0) rotate(90)" font-size="7.40" font-weight="normal" text-anchor="start" fill="#231f20" stroke="#231f20" stroke-width=".18">40000</text>
<text transform="translate(247.5 413.0) rotate(90)" font-size="7.40" font-weight="normal" text-anchor="start" fill="#231f20" stroke="#231f20" stroke-width=".18">35000</text>
<text transform="translate(273.3 413.0) rotate(90)" font-size="7.40" font-weight="normal" text-anchor="start" fill="#231f20" stroke="#231f20" stroke-width=".18">30000</text>
<text transform="translate(299.0 413.0) rotate(90)" font-size="7.40" font-weight="normal" text-anchor="start" fill="#231f20" stroke="#231f20" stroke-width=".18">25000</text>
<text transform="translate(324.8 413.0) rotate(90)" font-size="7.40" font-weight="normal" text-anchor="start" fill="#231f20" stroke="#231f20" stroke-width=".18">20000</text>
<text transform="translate(350.6 413.0) rotate(90)" font-size="7.40" font-weight="normal" text-anchor="start" fill="#231f20" stroke="#231f20" stroke-width=".18">15000</text>
<text transform="translate(376.4 413.0) rotate(90)" font-size="7.40" font-weight="normal" text-anchor="start" fill="#231f20" stroke="#231f20" stroke-width=".18">10000</text>
<text x="307.0" y="445.0" font-size="8.8" text-anchor="middle" fill="#231f20" stroke="#231f20" stroke-width=".15">Wavenumber (cm<tspan dy="-3" font-size="5.4">-1</tspan><tspan dy="3">)</tspan></text>
<path d="M396.9 407.9v3.2M410.0 407.9v1.8M423.2 407.9v3.2M436.3 407.9v1.8M449.5 407.9v3.2M462.6 407.9v1.8M475.8 407.9v3.2M488.9 407.9v1.8M502.1 407.9v3.2M515.2 407.9v1.8M528.4 407.9v3.2M541.5 407.9v1.8M554.7 407.9v3.2" stroke="#231f20" stroke-width=".7" fill="none"/>
<text transform="translate(394.3 413.3) rotate(90)" font-size="7.40" font-weight="normal" text-anchor="start" fill="#231f20" stroke="#231f20" stroke-width=".18">40000</text>
<text transform="translate(420.6 413.3) rotate(90)" font-size="7.40" font-weight="normal" text-anchor="start" fill="#231f20" stroke="#231f20" stroke-width=".18">35000</text>
<text transform="translate(446.9 413.3) rotate(90)" font-size="7.40" font-weight="normal" text-anchor="start" fill="#231f20" stroke="#231f20" stroke-width=".18">30000</text>
<text transform="translate(473.2 413.3) rotate(90)" font-size="7.40" font-weight="normal" text-anchor="start" fill="#231f20" stroke="#231f20" stroke-width=".18">25000</text>
<text transform="translate(499.5 413.3) rotate(90)" font-size="7.40" font-weight="normal" text-anchor="start" fill="#231f20" stroke="#231f20" stroke-width=".18">20000</text>
<text transform="translate(525.8 413.3) rotate(90)" font-size="7.40" font-weight="normal" text-anchor="start" fill="#231f20" stroke="#231f20" stroke-width=".18">15000</text>
<text transform="translate(552.1 413.3) rotate(90)" font-size="7.40" font-weight="normal" text-anchor="start" fill="#231f20" stroke="#231f20" stroke-width=".18">10000</text>
<text x="478.9" y="443.6" font-size="8.8" text-anchor="middle" fill="#231f20" stroke="#231f20" stroke-width=".15">Wavenumber (cm<tspan dy="-3" font-size="5.4">-1</tspan><tspan dy="3">)</tspan></text>
<path d="M568.9 408.2v3.2M581.8 408.2v1.8M594.7 408.2v3.2M607.6 408.2v1.8M620.5 408.2v3.2M633.4 408.2v1.8M646.2 408.2v3.2M659.1 408.2v1.8M672.0 408.2v3.2M684.9 408.2v1.8M697.8 408.2v3.2M710.7 408.2v1.8M723.6 408.2v3.2" stroke="#231f20" stroke-width=".7" fill="none"/>
<text transform="translate(566.3 413.6) rotate(90)" font-size="7.40" font-weight="normal" text-anchor="start" fill="#231f20" stroke="#231f20" stroke-width=".18">40000</text>
<text transform="translate(592.1 413.6) rotate(90)" font-size="7.40" font-weight="normal" text-anchor="start" fill="#231f20" stroke="#231f20" stroke-width=".18">35000</text>
<text transform="translate(617.9 413.6) rotate(90)" font-size="7.40" font-weight="normal" text-anchor="start" fill="#231f20" stroke="#231f20" stroke-width=".18">30000</text>
<text transform="translate(643.6 413.6) rotate(90)" font-size="7.40" font-weight="normal" text-anchor="start" fill="#231f20" stroke="#231f20" stroke-width=".18">25000</text>
<text transform="translate(669.4 413.6) rotate(90)" font-size="7.40" font-weight="normal" text-anchor="start" fill="#231f20" stroke="#231f20" stroke-width=".18">20000</text>
<text transform="translate(695.2 413.6) rotate(90)" font-size="7.40" font-weight="normal" text-anchor="start" fill="#231f20" stroke="#231f20" stroke-width=".18">15000</text>
<text transform="translate(721.0 413.6) rotate(90)" font-size="7.40" font-weight="normal" text-anchor="start" fill="#231f20" stroke="#231f20" stroke-width=".18">10000</text>
<text x="652.7" y="446.7" font-size="8.8" text-anchor="middle" fill="#231f20" stroke="#231f20" stroke-width=".15">Wavenumber (cm<tspan dy="-3" font-size="5.4">-1</tspan><tspan dy="3">)</tspan></text>
<path d="M55.3 888.2v3.2M68.2 888.2v1.8M81.1 888.2v3.2M94.0 888.2v1.8M106.9 888.2v3.2M119.8 888.2v1.8M132.6 888.2v3.2M145.5 888.2v1.8M158.4 888.2v3.2M171.3 888.2v1.8M184.2 888.2v3.2M197.1 888.2v1.8M210.0 888.2v3.2" stroke="#231f20" stroke-width=".7" fill="none"/>
<text transform="translate(52.7 893.6) rotate(90)" font-size="7.40" font-weight="normal" text-anchor="start" fill="#231f20" stroke="#231f20" stroke-width=".18">40000</text>
<text transform="translate(78.5 893.6) rotate(90)" font-size="7.40" font-weight="normal" text-anchor="start" fill="#231f20" stroke="#231f20" stroke-width=".18">35000</text>
<text transform="translate(104.3 893.6) rotate(90)" font-size="7.40" font-weight="normal" text-anchor="start" fill="#231f20" stroke="#231f20" stroke-width=".18">30000</text>
<text transform="translate(130.0 893.6) rotate(90)" font-size="7.40" font-weight="normal" text-anchor="start" fill="#231f20" stroke="#231f20" stroke-width=".18">25000</text>
<text transform="translate(155.8 893.6) rotate(90)" font-size="7.40" font-weight="normal" text-anchor="start" fill="#231f20" stroke="#231f20" stroke-width=".18">20000</text>
<text transform="translate(181.6 893.6) rotate(90)" font-size="7.40" font-weight="normal" text-anchor="start" fill="#231f20" stroke="#231f20" stroke-width=".18">15000</text>
<text transform="translate(207.4 893.6) rotate(90)" font-size="7.40" font-weight="normal" text-anchor="start" fill="#231f20" stroke="#231f20" stroke-width=".18">10000</text>
<text x="136.5" y="926.2" font-size="8.8" text-anchor="middle" fill="#231f20" stroke="#231f20" stroke-width=".15">Wavenumber (cm<tspan dy="-3" font-size="5.4">-1</tspan><tspan dy="3">)</tspan></text>
<path d="M228.3 887.6v3.2M241.2 887.6v1.8M254.1 887.6v3.2M267.0 887.6v1.8M279.9 887.6v3.2M292.8 887.6v1.8M305.6 887.6v3.2M318.5 887.6v1.8M331.4 887.6v3.2M344.3 887.6v1.8M357.2 887.6v3.2M370.1 887.6v1.8M383.0 887.6v3.2" stroke="#231f20" stroke-width=".7" fill="none"/>
<text transform="translate(225.7 893.0) rotate(90)" font-size="7.40" font-weight="normal" text-anchor="start" fill="#231f20" stroke="#231f20" stroke-width=".18">40000</text>
<text transform="translate(251.5 893.0) rotate(90)" font-size="7.40" font-weight="normal" text-anchor="start" fill="#231f20" stroke="#231f20" stroke-width=".18">35000</text>
<text transform="translate(277.3 893.0) rotate(90)" font-size="7.40" font-weight="normal" text-anchor="start" fill="#231f20" stroke="#231f20" stroke-width=".18">30000</text>
<text transform="translate(303.0 893.0) rotate(90)" font-size="7.40" font-weight="normal" text-anchor="start" fill="#231f20" stroke="#231f20" stroke-width=".18">25000</text>
<text transform="translate(328.8 893.0) rotate(90)" font-size="7.40" font-weight="normal" text-anchor="start" fill="#231f20" stroke="#231f20" stroke-width=".18">20000</text>
<text transform="translate(354.6 893.0) rotate(90)" font-size="7.40" font-weight="normal" text-anchor="start" fill="#231f20" stroke="#231f20" stroke-width=".18">15000</text>
<text transform="translate(380.4 893.0) rotate(90)" font-size="7.40" font-weight="normal" text-anchor="start" fill="#231f20" stroke="#231f20" stroke-width=".18">10000</text>
<text x="310.3" y="925.4" font-size="8.8" text-anchor="middle" fill="#231f20" stroke="#231f20" stroke-width=".15">Wavenumber (cm<tspan dy="-3" font-size="5.4">-1</tspan><tspan dy="3">)</tspan></text>
<path d="M402.1 888.2v3.2M415.0 888.2v1.8M427.9 888.2v3.2M440.8 888.2v1.8M453.7 888.2v3.2M466.6 888.2v1.8M479.4 888.2v3.2M492.3 888.2v1.8M505.2 888.2v3.2M518.1 888.2v1.8M531.0 888.2v3.2M543.9 888.2v1.8M556.8 888.2v3.2" stroke="#231f20" stroke-width=".7" fill="none"/>
<text transform="translate(399.5 893.6) rotate(90)" font-size="7.40" font-weight="normal" text-anchor="start" fill="#231f20" stroke="#231f20" stroke-width=".18">40000</text>
<text transform="translate(425.3 893.6) rotate(90)" font-size="7.40" font-weight="normal" text-anchor="start" fill="#231f20" stroke="#231f20" stroke-width=".18">35000</text>
<text transform="translate(451.1 893.6) rotate(90)" font-size="7.40" font-weight="normal" text-anchor="start" fill="#231f20" stroke="#231f20" stroke-width=".18">30000</text>
<text transform="translate(476.8 893.6) rotate(90)" font-size="7.40" font-weight="normal" text-anchor="start" fill="#231f20" stroke="#231f20" stroke-width=".18">25000</text>
<text transform="translate(502.6 893.6) rotate(90)" font-size="7.40" font-weight="normal" text-anchor="start" fill="#231f20" stroke="#231f20" stroke-width=".18">20000</text>
<text transform="translate(528.4 893.6) rotate(90)" font-size="7.40" font-weight="normal" text-anchor="start" fill="#231f20" stroke="#231f20" stroke-width=".18">15000</text>
<text transform="translate(554.2 893.6) rotate(90)" font-size="7.40" font-weight="normal" text-anchor="start" fill="#231f20" stroke="#231f20" stroke-width=".18">10000</text>
<text x="484.1" y="924.8" font-size="8.8" text-anchor="middle" fill="#231f20" stroke="#231f20" stroke-width=".15">Wavenumber (cm<tspan dy="-3" font-size="5.4">-1</tspan><tspan dy="3">)</tspan></text>
<path d="M733.4 58.6h3.0M733.4 79.1h1.6M733.4 99.5h3.0M733.4 120.0h1.6M733.4 140.5h3.0M733.4 160.9h1.6M733.4 181.4h3.0M733.4 201.8h1.6" stroke="#231f20" stroke-width=".7" fill="none"/>
<text transform="translate(738.8 61.0) scale(1.000 1)" font-size="6.60" font-weight="normal" text-anchor="start" fill="#231f20"  stroke="#231f20" stroke-width=".15">8</text>
<text transform="translate(738.8 101.9) scale(1.000 1)" font-size="6.60" font-weight="normal" text-anchor="start" fill="#231f20"  stroke="#231f20" stroke-width=".15">6</text>
<text transform="translate(738.8 142.9) scale(1.000 1)" font-size="6.60" font-weight="normal" text-anchor="start" fill="#231f20"  stroke="#231f20" stroke-width=".15">4</text>
<text transform="translate(738.8 183.8) scale(1.000 1)" font-size="6.60" font-weight="normal" text-anchor="start" fill="#231f20"  stroke="#231f20" stroke-width=".15">2</text>
<text transform="translate(755.6 140.4) rotate(-90)" font-size="9.00" font-weight="normal" text-anchor="middle" fill="#231f20" stroke="#231f20" stroke-width=".18">TOS (h)</text>
<path d="M732.6 245.1h3.0M732.6 265.5h1.6M732.6 286.0h3.0M732.6 306.4h1.6M732.6 326.9h3.0M732.6 347.3h1.6M732.6 367.7h3.0M732.6 388.2h1.6" stroke="#231f20" stroke-width=".7" fill="none"/>
<text transform="translate(738.2 247.5) scale(1.000 1)" font-size="6.60" font-weight="normal" text-anchor="start" fill="#231f20"  stroke="#231f20" stroke-width=".15">8</text>
<text transform="translate(738.2 288.4) scale(1.000 1)" font-size="6.60" font-weight="normal" text-anchor="start" fill="#231f20"  stroke="#231f20" stroke-width=".15">6</text>
<text transform="translate(738.2 329.2) scale(1.000 1)" font-size="6.60" font-weight="normal" text-anchor="start" fill="#231f20"  stroke="#231f20" stroke-width=".15">4</text>
<text transform="translate(738.2 370.1) scale(1.000 1)" font-size="6.60" font-weight="normal" text-anchor="start" fill="#231f20"  stroke="#231f20" stroke-width=".15">2</text>
<text transform="translate(754.9 326.9) rotate(-90)" font-size="9.00" font-weight="normal" text-anchor="middle" fill="#231f20" stroke="#231f20" stroke-width=".18">TOS (h)</text>
<path d="M565.2 538.6h3.0M565.2 559.0h1.6M565.2 579.4h3.0M565.2 599.8h1.6M565.2 620.2h3.0M565.2 640.7h1.6M565.2 661.1h3.0M565.2 681.5h1.6" stroke="#231f20" stroke-width=".7" fill="none"/>
<text transform="translate(570.0 541.0) scale(1.000 1)" font-size="6.60" font-weight="normal" text-anchor="start" fill="#231f20"  stroke="#231f20" stroke-width=".15">8</text>
<text transform="translate(570.0 581.8) scale(1.000 1)" font-size="6.60" font-weight="normal" text-anchor="start" fill="#231f20"  stroke="#231f20" stroke-width=".15">6</text>
<text transform="translate(570.0 622.6) scale(1.000 1)" font-size="6.60" font-weight="normal" text-anchor="start" fill="#231f20"  stroke="#231f20" stroke-width=".15">4</text>
<text transform="translate(570.0 663.5) scale(1.000 1)" font-size="6.60" font-weight="normal" text-anchor="start" fill="#231f20"  stroke="#231f20" stroke-width=".15">2</text>
<text transform="translate(587.2 620.0) rotate(-90)" font-size="9.00" font-weight="normal" text-anchor="middle" fill="#231f20" stroke="#231f20" stroke-width=".18">TOS (h)</text>
<path d="M566.6 724.5h3.0M566.6 744.9h1.6M566.6 765.4h3.0M566.6 785.8h1.6M566.6 806.2h3.0M566.6 826.7h1.6M566.6 847.1h3.0M566.6 867.6h1.6" stroke="#231f20" stroke-width=".7" fill="none"/>
<text transform="translate(571.5 726.9) scale(1.000 1)" font-size="6.60" font-weight="normal" text-anchor="start" fill="#231f20"  stroke="#231f20" stroke-width=".15">8</text>
<text transform="translate(571.5 767.8) scale(1.000 1)" font-size="6.60" font-weight="normal" text-anchor="start" fill="#231f20"  stroke="#231f20" stroke-width=".15">6</text>
<text transform="translate(571.5 808.6) scale(1.000 1)" font-size="6.60" font-weight="normal" text-anchor="start" fill="#231f20"  stroke="#231f20" stroke-width=".15">4</text>
<text transform="translate(571.5 849.5) scale(1.000 1)" font-size="6.60" font-weight="normal" text-anchor="start" fill="#231f20"  stroke="#231f20" stroke-width=".15">2</text>
<text transform="translate(587.9 806.0) rotate(-90)" font-size="9.00" font-weight="normal" text-anchor="middle" fill="#231f20" stroke="#231f20" stroke-width=".18">TOS (h)</text>
<linearGradient id="cb1" gradientUnits="userSpaceOnUse" x1="0" y1="220.8" x2="0" y2="60.5"><stop offset="0.0000" stop-color="#861a80"/><stop offset="0.0125" stop-color="#8c2090"/><stop offset="0.0292" stop-color="#8c2aa0"/><stop offset="0.0525" stop-color="#7e3aa2"/><stop offset="0.0750" stop-color="#6c46a4"/><stop offset="0.1000" stop-color="#5a4ca6"/><stop offset="0.1217" stop-color="#4550a8"/><stop offset="0.1450" stop-color="#3c50a6"/><stop offset="0.1683" stop-color="#3b5cb0"/><stop offset="0.1850" stop-color="#3a62b4"/><stop offset="0.2000" stop-color="#3b74c4"/><stop offset="0.2125" stop-color="#3c88d4"/><stop offset="0.2250" stop-color="#3a9ce0"/><stop offset="0.2358" stop-color="#38b4ec"/><stop offset="0.2500" stop-color="#38c2f2"/><stop offset="0.2667" stop-color="#40c4e0"/><stop offset="0.2775" stop-color="#50c0b0"/><stop offset="0.2875" stop-color="#58b878"/><stop offset="0.3000" stop-color="#5cb84a"/><stop offset="0.3167" stop-color="#5eb846"/><stop offset="0.3450" stop-color="#6aba44"/><stop offset="0.3750" stop-color="#80c040"/><stop offset="0.4000" stop-color="#96c83c"/><stop offset="0.4333" stop-color="#b4d434"/><stop offset="0.4558" stop-color="#cede2c"/><stop offset="0.4792" stop-color="#e6e622"/><stop offset="0.5000" stop-color="#f6ea1e"/><stop offset="0.5200" stop-color="#fde01a"/><stop offset="0.5400" stop-color="#fdc416"/><stop offset="0.5600" stop-color="#f9a61c"/><stop offset="0.5775" stop-color="#f7941e"/><stop offset="0.6000" stop-color="#f47820"/><stop offset="0.6300" stop-color="#f05022"/><stop offset="0.6550" stop-color="#ee3024"/><stop offset="0.7000" stop-color="#ec2026"/><stop offset="0.8000" stop-color="#ec1e26"/><stop offset="0.8333" stop-color="#e62028"/><stop offset="0.8625" stop-color="#d82228"/><stop offset="0.9000" stop-color="#be2026"/><stop offset="0.9367" stop-color="#a41c20"/><stop offset="0.9717" stop-color="#8c181c"/><stop offset="1.0000" stop-color="#7a1418"/></linearGradient>
<rect x="36.5" y="59.1" width="8.1" height="163.2" fill="url(#cb1)" stroke="#3a2a30" stroke-opacity=".55" stroke-width=".5"/>
<text transform="translate(32.0 222.9) scale(1.000 1)" font-size="4.80" font-weight="normal" text-anchor="end" fill="#444"  stroke="#444" stroke-width=".15">0.0</text>
<text transform="translate(32.0 206.9) scale(1.000 1)" font-size="4.80" font-weight="normal" text-anchor="end" fill="#444"  stroke="#444" stroke-width=".15">0.12</text>
<text transform="translate(32.0 190.8) scale(1.000 1)" font-size="4.80" font-weight="normal" text-anchor="end" fill="#444"  stroke="#444" stroke-width=".15">0.24</text>
<text transform="translate(32.0 174.8) scale(1.000 1)" font-size="4.80" font-weight="normal" text-anchor="end" fill="#444"  stroke="#444" stroke-width=".15">0.36</text>
<text transform="translate(32.0 158.8) scale(1.000 1)" font-size="4.80" font-weight="normal" text-anchor="end" fill="#444"  stroke="#444" stroke-width=".15">0.48</text>
<text transform="translate(32.0 142.8) scale(1.000 1)" font-size="4.80" font-weight="normal" text-anchor="end" fill="#444"  stroke="#444" stroke-width=".15">0.60</text>
<text transform="translate(32.0 126.7) scale(1.000 1)" font-size="4.80" font-weight="normal" text-anchor="end" fill="#444"  stroke="#444" stroke-width=".15">0.72</text>
<text transform="translate(32.0 110.7) scale(1.000 1)" font-size="4.80" font-weight="normal" text-anchor="end" fill="#444"  stroke="#444" stroke-width=".15">0.84</text>
<text transform="translate(32.0 94.7) scale(1.000 1)" font-size="4.80" font-weight="normal" text-anchor="end" fill="#444"  stroke="#444" stroke-width=".15">0.96</text>
<text transform="translate(32.0 78.6) scale(1.000 1)" font-size="4.80" font-weight="normal" text-anchor="end" fill="#444"  stroke="#444" stroke-width=".15">1.1</text>
<text transform="translate(32.0 62.6) scale(1.000 1)" font-size="4.80" font-weight="normal" text-anchor="end" fill="#444"  stroke="#444" stroke-width=".15">1.2</text>
<path d="M36.5 220.8h-3.2M36.5 204.8h-3.2M36.5 188.7h-3.2M36.5 172.7h-3.2M36.5 156.7h-3.2M36.5 140.7h-3.2M36.5 124.6h-3.2M36.5 108.6h-3.2M36.5 92.6h-3.2M36.5 76.5h-3.2M36.5 60.5h-3.2" stroke="#231f20" stroke-width=".6" fill="none"/>
<text transform="translate(16.6 140.6) rotate(-90)" font-size="7.90" font-weight="normal" text-anchor="middle" fill="#231f20" stroke="#231f20" stroke-width=".18">Intensity (A.U.)</text>
<linearGradient id="cb2" gradientUnits="userSpaceOnUse" x1="0" y1="700.6" x2="0" y2="540.6"><stop offset="0.0000" stop-color="#861a80"/><stop offset="0.0125" stop-color="#8c2090"/><stop offset="0.0292" stop-color="#8c2aa0"/><stop offset="0.0525" stop-color="#7e3aa2"/><stop offset="0.0750" stop-color="#6c46a4"/><stop offset="0.1000" stop-color="#5a4ca6"/><stop offset="0.1217" stop-color="#4550a8"/><stop offset="0.1450" stop-color="#3c50a6"/><stop offset="0.1683" stop-color="#3b5cb0"/><stop offset="0.1850" stop-color="#3a62b4"/><stop offset="0.2000" stop-color="#3b74c4"/><stop offset="0.2125" stop-color="#3c88d4"/><stop offset="0.2250" stop-color="#3a9ce0"/><stop offset="0.2358" stop-color="#38b4ec"/><stop offset="0.2500" stop-color="#38c2f2"/><stop offset="0.2667" stop-color="#40c4e0"/><stop offset="0.2775" stop-color="#50c0b0"/><stop offset="0.2875" stop-color="#58b878"/><stop offset="0.3000" stop-color="#5cb84a"/><stop offset="0.3167" stop-color="#5eb846"/><stop offset="0.3450" stop-color="#6aba44"/><stop offset="0.3750" stop-color="#80c040"/><stop offset="0.4000" stop-color="#96c83c"/><stop offset="0.4333" stop-color="#b4d434"/><stop offset="0.4558" stop-color="#cede2c"/><stop offset="0.4792" stop-color="#e6e622"/><stop offset="0.5000" stop-color="#f6ea1e"/><stop offset="0.5200" stop-color="#fde01a"/><stop offset="0.5400" stop-color="#fdc416"/><stop offset="0.5600" stop-color="#f9a61c"/><stop offset="0.5775" stop-color="#f7941e"/><stop offset="0.6000" stop-color="#f47820"/><stop offset="0.6300" stop-color="#f05022"/><stop offset="0.6550" stop-color="#ee3024"/><stop offset="0.7000" stop-color="#ec2026"/><stop offset="0.8000" stop-color="#ec1e26"/><stop offset="0.8333" stop-color="#e62028"/><stop offset="0.8625" stop-color="#d82228"/><stop offset="0.9000" stop-color="#be2026"/><stop offset="0.9367" stop-color="#a41c20"/><stop offset="0.9717" stop-color="#8c181c"/><stop offset="1.0000" stop-color="#7a1418"/></linearGradient>
<rect x="40.9" y="539.0" width="8.1" height="163.2" fill="url(#cb2)" stroke="#3a2a30" stroke-opacity=".55" stroke-width=".5"/>
<text transform="translate(36.4 702.7) scale(1.000 1)" font-size="4.80" font-weight="normal" text-anchor="end" fill="#444"  stroke="#444" stroke-width=".15">0.0</text>
<text transform="translate(36.4 686.7) scale(1.000 1)" font-size="4.80" font-weight="normal" text-anchor="end" fill="#444"  stroke="#444" stroke-width=".15">0.12</text>
<text transform="translate(36.4 670.7) scale(1.000 1)" font-size="4.80" font-weight="normal" text-anchor="end" fill="#444"  stroke="#444" stroke-width=".15">0.24</text>
<text transform="translate(36.4 654.7) scale(1.000 1)" font-size="4.80" font-weight="normal" text-anchor="end" fill="#444"  stroke="#444" stroke-width=".15">0.36</text>
<text transform="translate(36.4 638.7) scale(1.000 1)" font-size="4.80" font-weight="normal" text-anchor="end" fill="#444"  stroke="#444" stroke-width=".15">0.48</text>
<text transform="translate(36.4 622.7) scale(1.000 1)" font-size="4.80" font-weight="normal" text-anchor="end" fill="#444"  stroke="#444" stroke-width=".15">0.60</text>
<text transform="translate(36.4 606.7) scale(1.000 1)" font-size="4.80" font-weight="normal" text-anchor="end" fill="#444"  stroke="#444" stroke-width=".15">0.72</text>
<text transform="translate(36.4 590.7) scale(1.000 1)" font-size="4.80" font-weight="normal" text-anchor="end" fill="#444"  stroke="#444" stroke-width=".15">0.84</text>
<text transform="translate(36.4 574.7) scale(1.000 1)" font-size="4.80" font-weight="normal" text-anchor="end" fill="#444"  stroke="#444" stroke-width=".15">0.96</text>
<text transform="translate(36.4 558.7) scale(1.000 1)" font-size="4.80" font-weight="normal" text-anchor="end" fill="#444"  stroke="#444" stroke-width=".15">1.1</text>
<text transform="translate(36.4 542.7) scale(1.000 1)" font-size="4.80" font-weight="normal" text-anchor="end" fill="#444"  stroke="#444" stroke-width=".15">1.2</text>
<path d="M40.9 700.6h-3.2M40.9 684.6h-3.2M40.9 668.6h-3.2M40.9 652.6h-3.2M40.9 636.6h-3.2M40.9 620.6h-3.2M40.9 604.6h-3.2M40.9 588.6h-3.2M40.9 572.6h-3.2M40.9 556.6h-3.2M40.9 540.6h-3.2" stroke="#231f20" stroke-width=".6" fill="none"/>
<text transform="translate(20.3 620.0) rotate(-90)" font-size="7.90" font-weight="normal" text-anchor="middle" fill="#231f20" stroke="#231f20" stroke-width=".18">Intensity (A.U.)</text>
</svg>
</div></body></html>
